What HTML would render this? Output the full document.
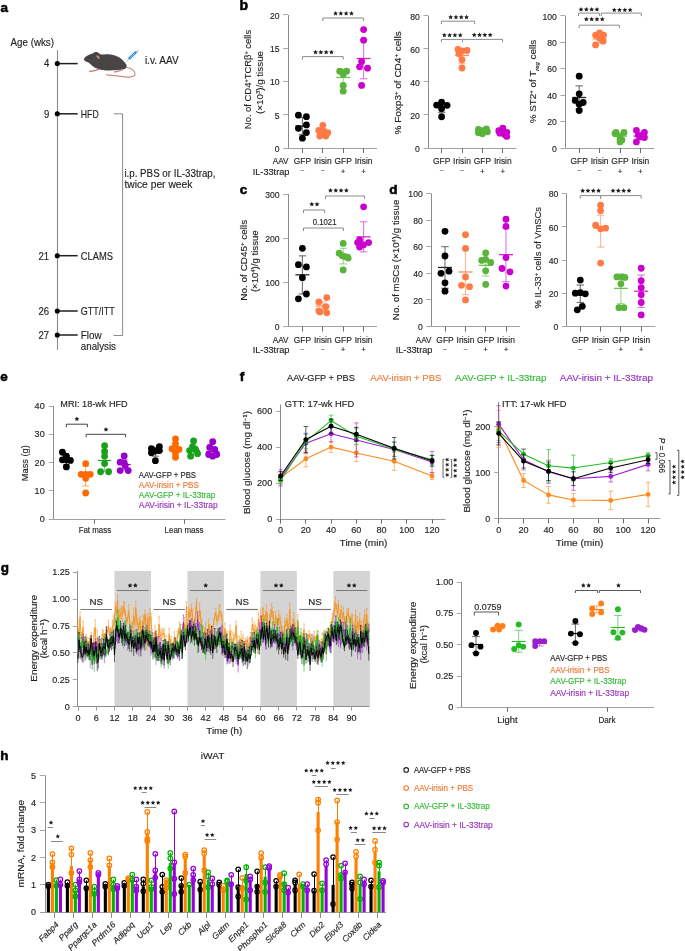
<!DOCTYPE html>
<html><head><meta charset="utf-8"><style>
html,body{margin:0;padding:0;background:#fff;}
svg{display:block;font-family:"Liberation Sans",sans-serif;will-change:transform;}
</style></head><body>
<svg width="685" height="951" viewBox="0 0 685 951" fill="#231f20">
<rect width="685" height="951" fill="#fff"/>
<text x="0.6" y="11.8" font-size="13.5" fill="#000" font-weight="bold" stroke="#000" stroke-width="0.55">a</text>
<text x="10.5" y="45.6" font-size="10.2" stroke="#231f20" stroke-width="0.15" textLength="43.5" lengthAdjust="spacingAndGlyphs">Age (wks)</text>
<line x1="57.5" y1="50" x2="57.5" y2="350" stroke="#8a8a8a" stroke-width="1.1"/>
<line x1="57.3" y1="63.6" x2="77.7" y2="63.6" stroke="#231f20" stroke-width="1.5"/>
<circle cx="57.3" cy="63.6" r="2.55" fill="#000"/>
<text x="49.2" y="67.4" font-size="10.4" text-anchor="end" stroke="#231f20" stroke-width="0.15" textLength="5.32" lengthAdjust="spacingAndGlyphs">4</text>
<line x1="57.3" y1="113.8" x2="77.7" y2="113.8" stroke="#231f20" stroke-width="1.5"/>
<circle cx="57.3" cy="113.8" r="2.55" fill="#000"/>
<text x="49.2" y="117.6" font-size="10.4" text-anchor="end" stroke="#231f20" stroke-width="0.15" textLength="5.32" lengthAdjust="spacingAndGlyphs">9</text>
<line x1="57.3" y1="255.7" x2="77.7" y2="255.7" stroke="#231f20" stroke-width="1.5"/>
<circle cx="57.3" cy="255.7" r="2.55" fill="#000"/>
<text x="49.2" y="259.5" font-size="10.4" text-anchor="end" stroke="#231f20" stroke-width="0.15" textLength="10.64" lengthAdjust="spacingAndGlyphs">21</text>
<line x1="57.3" y1="311" x2="77.7" y2="311" stroke="#231f20" stroke-width="1.5"/>
<circle cx="57.3" cy="311" r="2.55" fill="#000"/>
<text x="49.2" y="314.8" font-size="10.4" text-anchor="end" stroke="#231f20" stroke-width="0.15" textLength="10.64" lengthAdjust="spacingAndGlyphs">26</text>
<line x1="57.3" y1="335" x2="77.7" y2="335" stroke="#231f20" stroke-width="1.5"/>
<circle cx="57.3" cy="335" r="2.55" fill="#000"/>
<text x="49.2" y="338.8" font-size="10.4" text-anchor="end" stroke="#231f20" stroke-width="0.15" textLength="10.64" lengthAdjust="spacingAndGlyphs">27</text>
<text x="80.8" y="117.6" font-size="10.3" stroke="#231f20" stroke-width="0.15" textLength="17.9" lengthAdjust="spacingAndGlyphs">HFD</text>
<text x="80.8" y="259.5" font-size="10.3" stroke="#231f20" stroke-width="0.15" textLength="32.2" lengthAdjust="spacingAndGlyphs">CLAMS</text>
<text x="80.8" y="314.8" font-size="10.3" stroke="#231f20" stroke-width="0.15" textLength="34" lengthAdjust="spacingAndGlyphs">GTT/ITT</text>
<text x="80.8" y="338.8" font-size="10.3" stroke="#231f20" stroke-width="0.15" textLength="20.9" lengthAdjust="spacingAndGlyphs">Flow</text>
<text x="80.8" y="349.7" font-size="10.3" stroke="#231f20" stroke-width="0.15" textLength="35.2" lengthAdjust="spacingAndGlyphs">analysis</text>
<polyline points="113.9,113.8 122.6,113.8 122.6,335.5 113.5,335.5" stroke="#8a8a8a" stroke-width="1" fill="none"/>
<text x="124.4" y="177.2" font-size="10.2" stroke="#231f20" stroke-width="0.15" textLength="91.1" lengthAdjust="spacingAndGlyphs">i.p. PBS or IL-33trap,</text>
<text x="124.4" y="187.8" font-size="10.2" stroke="#231f20" stroke-width="0.15" textLength="68" lengthAdjust="spacingAndGlyphs">twice per week</text>
<path d="M83.8,59.2 C85,57 86.5,55.8 88.5,55 C90,54.2 91.5,53.6 93.2,53.2 C94,52.3 95.5,51.8 96.6,52.1 C98.5,52.6 99.6,53.6 100.4,54.5 C103,54.3 106,54 108.5,54.2 C112,54.5 114,55 116,55.9 C119,57 120.5,58 121.7,59.2 C123.5,60.8 125,62.6 126,64 C127.2,65.5 127,67.5 125.6,68.5 C124.5,69.2 123,69.4 120.5,69.8 C117,70.3 112,70.5 108.5,70.4 C105,70.3 103,70.2 101.8,69.9 C99,69.5 96,68.5 94.2,67.3 C92,65.8 90,64 88.5,62.6 C87,61.8 84.2,61.2 83.8,59.2 Z" fill="#4a4545"/>
<path d="M96.1,55.4 C97.5,55.3 99,55.8 99.4,56.6 L99.3,59 C98.2,58.9 97,58.3 96.1,55.4 Z" fill="#c98b83"/>
<circle cx="89.8" cy="57.4" r="0.6" fill="#1a1a1a"/>
<path d="M89.6,71.5 C92,71.3 95.5,70.6 98.6,69.4 M114.6,72 C117,71.6 120,70.8 122.4,69.9" stroke="#c98b83" stroke-width="1.3" fill="none" stroke-linecap="round"/>
<path d="M126.3,67.3 C130,67.8 134.6,70 135,73.5 C135.3,76.6 131,77.5 125.5,76.9 C121,76.4 116,75.8 106.6,74.9" stroke="#c98b83" stroke-width="1.1" fill="none" stroke-linecap="round"/>
<path d="M126.5,61.6 L129.2,58.6" stroke="#6aa8dc" stroke-width="0.6"/>
<path d="M128.9,58.9 L135.9,52.1" stroke="#2f86d0" stroke-width="2.6" stroke-linecap="butt"/>
<path d="M130,57.9 L134.8,53.2" stroke="#9fd0f2" stroke-width="1" />
<path d="M135.4,51.3 L137,52.9 M136.4,52.3 L138.2,50.3" stroke="#2f86d0" stroke-width="0.9"/>
<text x="144.9" y="64.2" font-size="10.3" stroke="#231f20" stroke-width="0.15" textLength="33.7" lengthAdjust="spacingAndGlyphs">i.v. AAV</text>
<text x="239.4" y="10.1" font-size="14" fill="#000" font-weight="bold" stroke="#000" stroke-width="0.55">b</text>
<line x1="288.5" y1="14.9" x2="288.5" y2="148" stroke="#8c8c8c" stroke-width="1"/>
<line x1="288" y1="148.5" x2="377" y2="148.5" stroke="#a0a0a0" stroke-width="1.2"/>
<line x1="283.2" y1="148.5" x2="288" y2="148.5" stroke="#a8a8a8" stroke-width="1"/>
<text x="279.6" y="151.8" font-size="8.6" text-anchor="end" stroke="#231f20" stroke-width="0.15" textLength="4.78" lengthAdjust="spacingAndGlyphs">0</text>
<line x1="283.2" y1="114.5" x2="288" y2="114.5" stroke="#a8a8a8" stroke-width="1"/>
<text x="279.6" y="118.52" font-size="8.6" text-anchor="end" stroke="#231f20" stroke-width="0.15" textLength="4.78" lengthAdjust="spacingAndGlyphs">5</text>
<line x1="283.2" y1="81.5" x2="288" y2="81.5" stroke="#a8a8a8" stroke-width="1"/>
<text x="279.6" y="85.25" font-size="8.6" text-anchor="end" stroke="#231f20" stroke-width="0.15" textLength="9.56" lengthAdjust="spacingAndGlyphs">10</text>
<line x1="283.2" y1="48.5" x2="288" y2="48.5" stroke="#a8a8a8" stroke-width="1"/>
<text x="279.6" y="51.98" font-size="8.6" text-anchor="end" stroke="#231f20" stroke-width="0.15" textLength="9.56" lengthAdjust="spacingAndGlyphs">15</text>
<line x1="283.2" y1="14.5" x2="288" y2="14.5" stroke="#a8a8a8" stroke-width="1"/>
<text x="279.6" y="18.7" font-size="8.6" text-anchor="end" stroke="#231f20" stroke-width="0.15" textLength="9.56" lengthAdjust="spacingAndGlyphs">20</text>
<line x1="302.5" y1="148" x2="302.5" y2="153" stroke="#6b6b6b" stroke-width="1"/>
<line x1="322.5" y1="148" x2="322.5" y2="153" stroke="#6b6b6b" stroke-width="1"/>
<line x1="343.5" y1="148" x2="343.5" y2="153" stroke="#6b6b6b" stroke-width="1"/>
<line x1="363.5" y1="148" x2="363.5" y2="153" stroke="#6b6b6b" stroke-width="1"/>
<circle cx="298.4" cy="115.19" r="3.4" fill="#000000"/>
<circle cx="306.4" cy="116.65" r="3.4" fill="#000000"/>
<circle cx="306.4" cy="124.91" r="3.4" fill="#000000"/>
<circle cx="298.4" cy="128.3" r="3.4" fill="#000000"/>
<circle cx="306.4" cy="132.56" r="3.4" fill="#000000"/>
<circle cx="302.4" cy="138.22" r="3.4" fill="#000000"/>
<circle cx="322.8" cy="125.37" r="3.4" fill="#ff7a45"/>
<circle cx="318.8" cy="130.5" r="3.4" fill="#ff7a45"/>
<circle cx="323.8" cy="131.36" r="3.4" fill="#ff7a45"/>
<circle cx="327.8" cy="132.76" r="3.4" fill="#ff7a45"/>
<circle cx="319.8" cy="136.09" r="3.4" fill="#ff7a45"/>
<circle cx="325.8" cy="136.09" r="3.4" fill="#ff7a45"/>
<circle cx="339.7" cy="71.13" r="3.4" fill="#5ab43a"/>
<circle cx="346.7" cy="71.13" r="3.4" fill="#5ab43a"/>
<circle cx="343.2" cy="74.13" r="3.4" fill="#5ab43a"/>
<circle cx="342.2" cy="72.13" r="3.4" fill="#5ab43a"/>
<circle cx="343.2" cy="85.44" r="3.4" fill="#5ab43a"/>
<circle cx="343.2" cy="91.17" r="3.4" fill="#5ab43a"/>
<circle cx="363.6" cy="29.54" r="3.4" fill="#cc00cc"/>
<circle cx="363.6" cy="40.19" r="3.4" fill="#cc00cc"/>
<circle cx="361.6" cy="61.49" r="3.4" fill="#cc00cc"/>
<circle cx="359.6" cy="66.81" r="3.4" fill="#cc00cc"/>
<circle cx="367.6" cy="68.14" r="3.4" fill="#cc00cc"/>
<circle cx="361.6" cy="85.44" r="3.4" fill="#cc00cc"/>
<g stroke="#000000" stroke-opacity="0.55" stroke-width="1.1">
<line x1="302.4" y1="117.39" x2="302.4" y2="134.69"/>
<line x1="298.65" y1="117.39" x2="306.15" y2="117.39"/>
<line x1="298.65" y1="134.69" x2="306.15" y2="134.69"/>
</g>
<line x1="295.4" y1="126.04" x2="309.4" y2="126.04" stroke="#000000" stroke-width="1.3" stroke-opacity="0.85"/>
<g stroke="#ff7a45" stroke-opacity="0.55" stroke-width="1.1">
<line x1="322.8" y1="128.7" x2="322.8" y2="135.36"/>
<line x1="319.05" y1="128.7" x2="326.55" y2="128.7"/>
<line x1="319.05" y1="135.36" x2="326.55" y2="135.36"/>
</g>
<line x1="315.8" y1="132.03" x2="329.8" y2="132.03" stroke="#ff7a45" stroke-width="1.3" stroke-opacity="0.85"/>
<g stroke="#5ab43a" stroke-opacity="0.55" stroke-width="1.1">
<line x1="343.2" y1="71.47" x2="343.2" y2="86.11"/>
<line x1="339.45" y1="71.47" x2="346.95" y2="71.47"/>
<line x1="339.45" y1="86.11" x2="346.95" y2="86.11"/>
</g>
<line x1="336.2" y1="77.46" x2="350.2" y2="77.46" stroke="#5ab43a" stroke-width="1.3" stroke-opacity="0.85"/>
<g stroke="#cc00cc" stroke-opacity="0.55" stroke-width="1.1">
<line x1="363.6" y1="39.52" x2="363.6" y2="78.79"/>
<line x1="359.85" y1="39.52" x2="367.35" y2="39.52"/>
<line x1="359.85" y1="78.79" x2="367.35" y2="78.79"/>
</g>
<line x1="356.6" y1="58.49" x2="370.6" y2="58.49" stroke="#cc00cc" stroke-width="1.3" stroke-opacity="0.85"/>
<path d="M302.4 59.6V56.6H343.2V59.6" stroke="#8c8c8c" stroke-width="1" fill="none"/>
<path d="M315.55 49.8L316.28 51.29L317.93 51.53L316.74 52.69L317.02 54.32L315.55 53.55L314.08 54.32L314.36 52.69L313.17 51.53L314.82 51.29ZM320.85 49.8L321.58 51.29L323.23 51.53L322.04 52.69L322.32 54.32L320.85 53.55L319.38 54.32L319.66 52.69L318.47 51.53L320.12 51.29ZM326.15 49.8L326.88 51.29L328.53 51.53L327.34 52.69L327.62 54.32L326.15 53.55L324.68 54.32L324.96 52.69L323.77 51.53L325.42 51.29ZM331.45 49.8L332.18 51.29L333.83 51.53L332.64 52.69L332.92 54.32L331.45 53.55L329.98 54.32L330.26 52.69L329.07 51.53L330.72 51.29Z" fill="#231f20"/>
<path d="M322.8 21V18H363.6V21" stroke="#8c8c8c" stroke-width="1" fill="none"/>
<path d="M335.55 10.9L336.28 12.39L337.93 12.63L336.74 13.79L337.02 15.42L335.55 14.65L334.08 15.42L334.36 13.79L333.17 12.63L334.82 12.39ZM340.85 10.9L341.58 12.39L343.23 12.63L342.04 13.79L342.32 15.42L340.85 14.65L339.38 15.42L339.66 13.79L338.47 12.63L340.12 12.39ZM346.15 10.9L346.88 12.39L348.53 12.63L347.34 13.79L347.62 15.42L346.15 14.65L344.68 15.42L344.96 13.79L343.77 12.63L345.42 12.39ZM351.45 10.9L352.18 12.39L353.83 12.63L352.64 13.79L352.92 15.42L351.45 14.65L349.98 15.42L350.26 13.79L349.07 12.63L350.72 12.39Z" fill="#231f20"/>
<text x="302.4" y="163.8" font-size="8.6" text-anchor="middle" stroke="#231f20" stroke-width="0.15" textLength="17.32" lengthAdjust="spacingAndGlyphs">GFP</text>
<text x="322.8" y="163.8" font-size="8.6" text-anchor="middle" stroke="#231f20" stroke-width="0.15" textLength="17.79" lengthAdjust="spacingAndGlyphs">Irisin</text>
<text x="343.2" y="163.8" font-size="8.6" text-anchor="middle" stroke="#231f20" stroke-width="0.15" textLength="17.32" lengthAdjust="spacingAndGlyphs">GFP</text>
<text x="363.6" y="163.8" font-size="8.6" text-anchor="middle" stroke="#231f20" stroke-width="0.15" textLength="17.79" lengthAdjust="spacingAndGlyphs">Irisin</text>
<line x1="300.6" y1="170.5" x2="304.2" y2="170.5" stroke="#8a8a8a" stroke-width="0.9"/>
<line x1="321" y1="170.5" x2="324.6" y2="170.5" stroke="#8a8a8a" stroke-width="0.9"/>
<text x="343.2" y="173.6" font-size="8" text-anchor="middle" stroke="#231f20" stroke-width="0.15">+</text>
<text x="363.6" y="173.6" font-size="8" text-anchor="middle" stroke="#231f20" stroke-width="0.15">+</text>
<text x="288.5" y="163.8" font-size="8.6" text-anchor="end" stroke="#231f20" stroke-width="0.15" textLength="15.74" lengthAdjust="spacingAndGlyphs">AAV</text>
<text x="289.5" y="174.6" font-size="8.6" text-anchor="end" stroke="#231f20" stroke-width="0.15" textLength="36.83" lengthAdjust="spacingAndGlyphs">IL-33trap</text>
<text x="251.2" y="79.5" font-size="9.3" text-anchor="middle" stroke="#231f20" stroke-width="0.15" transform="rotate(-90 251.2 79.5)" textLength="99.3" lengthAdjust="spacingAndGlyphs">No. of CD4<tspan baseline-shift="super" font-size="5.5">+</tspan>TCRβ<tspan baseline-shift="super" font-size="5.5">+</tspan> cells</text>
<text x="263" y="82.5" font-size="9.3" text-anchor="middle" stroke="#231f20" stroke-width="0.15" transform="rotate(-90 263 82.5)" textLength="63.2" lengthAdjust="spacingAndGlyphs">(×10<tspan baseline-shift="super" font-size="5.5">3</tspan>)/g tissue</text>
<line x1="428.5" y1="15.8" x2="428.5" y2="148" stroke="#8c8c8c" stroke-width="1"/>
<line x1="428.3" y1="148.5" x2="516.5" y2="148.5" stroke="#a0a0a0" stroke-width="1.2"/>
<line x1="423.5" y1="148.5" x2="428.3" y2="148.5" stroke="#a8a8a8" stroke-width="1"/>
<text x="419.9" y="151.8" font-size="8.6" text-anchor="end" stroke="#231f20" stroke-width="0.15" textLength="4.78" lengthAdjust="spacingAndGlyphs">0</text>
<line x1="423.5" y1="114.5" x2="428.3" y2="114.5" stroke="#a8a8a8" stroke-width="1"/>
<text x="419.9" y="118.75" font-size="8.6" text-anchor="end" stroke="#231f20" stroke-width="0.15" textLength="9.56" lengthAdjust="spacingAndGlyphs">20</text>
<line x1="423.5" y1="81.5" x2="428.3" y2="81.5" stroke="#a8a8a8" stroke-width="1"/>
<text x="419.9" y="85.7" font-size="8.6" text-anchor="end" stroke="#231f20" stroke-width="0.15" textLength="9.56" lengthAdjust="spacingAndGlyphs">40</text>
<line x1="423.5" y1="48.5" x2="428.3" y2="48.5" stroke="#a8a8a8" stroke-width="1"/>
<text x="419.9" y="52.65" font-size="8.6" text-anchor="end" stroke="#231f20" stroke-width="0.15" textLength="9.56" lengthAdjust="spacingAndGlyphs">60</text>
<line x1="423.5" y1="15.5" x2="428.3" y2="15.5" stroke="#a8a8a8" stroke-width="1"/>
<text x="419.9" y="19.6" font-size="8.6" text-anchor="end" stroke="#231f20" stroke-width="0.15" textLength="9.56" lengthAdjust="spacingAndGlyphs">80</text>
<line x1="441.5" y1="148" x2="441.5" y2="153" stroke="#6b6b6b" stroke-width="1"/>
<line x1="462.5" y1="148" x2="462.5" y2="153" stroke="#6b6b6b" stroke-width="1"/>
<line x1="482.5" y1="148" x2="482.5" y2="153" stroke="#6b6b6b" stroke-width="1"/>
<line x1="502.5" y1="148" x2="502.5" y2="153" stroke="#6b6b6b" stroke-width="1"/>
<circle cx="436.6" cy="105.03" r="3.4" fill="#000000"/>
<circle cx="441.6" cy="102.06" r="3.4" fill="#000000"/>
<circle cx="447.1" cy="105.37" r="3.4" fill="#000000"/>
<circle cx="441.6" cy="108.67" r="3.4" fill="#000000"/>
<circle cx="441.6" cy="116.77" r="3.4" fill="#000000"/>
<circle cx="439.6" cy="105.03" r="3.4" fill="#000000"/>
<circle cx="458" cy="49.35" r="3.4" fill="#ff7a45"/>
<circle cx="467" cy="50.5" r="3.4" fill="#ff7a45"/>
<circle cx="462" cy="51" r="3.4" fill="#ff7a45"/>
<circle cx="462" cy="59.76" r="3.4" fill="#ff7a45"/>
<circle cx="462" cy="68.02" r="3.4" fill="#ff7a45"/>
<circle cx="459" cy="53.81" r="3.4" fill="#ff7a45"/>
<circle cx="478.4" cy="129.33" r="3.4" fill="#5ab43a"/>
<circle cx="486.4" cy="129" r="3.4" fill="#5ab43a"/>
<circle cx="482.4" cy="130.65" r="3.4" fill="#5ab43a"/>
<circle cx="487.4" cy="131.81" r="3.4" fill="#5ab43a"/>
<circle cx="478.4" cy="132.8" r="3.4" fill="#5ab43a"/>
<circle cx="482.4" cy="133.79" r="3.4" fill="#5ab43a"/>
<circle cx="502.8" cy="128.17" r="3.4" fill="#cc00cc"/>
<circle cx="498.8" cy="130.65" r="3.4" fill="#cc00cc"/>
<circle cx="506.8" cy="132.3" r="3.4" fill="#cc00cc"/>
<circle cx="499.8" cy="133.13" r="3.4" fill="#cc00cc"/>
<circle cx="504.8" cy="134.78" r="3.4" fill="#cc00cc"/>
<circle cx="506.8" cy="136.43" r="3.4" fill="#cc00cc"/>
<g stroke="#000000" stroke-opacity="0.55" stroke-width="1.1">
<line x1="441.6" y1="102.39" x2="441.6" y2="112.31"/>
<line x1="437.85" y1="102.39" x2="445.35" y2="102.39"/>
<line x1="437.85" y1="112.31" x2="445.35" y2="112.31"/>
</g>
<line x1="434.6" y1="107.18" x2="448.6" y2="107.18" stroke="#000000" stroke-width="1.3" stroke-opacity="0.85"/>
<g stroke="#ff7a45" stroke-opacity="0.55" stroke-width="1.1">
<line x1="462" y1="48.85" x2="462" y2="63.72"/>
<line x1="458.25" y1="48.85" x2="465.75" y2="48.85"/>
<line x1="458.25" y1="63.72" x2="465.75" y2="63.72"/>
</g>
<line x1="455" y1="55.46" x2="469" y2="55.46" stroke="#ff7a45" stroke-width="1.3" stroke-opacity="0.85"/>
<g stroke="#5ab43a" stroke-opacity="0.55" stroke-width="1.1">
<line x1="482.4" y1="129.82" x2="482.4" y2="133.13"/>
<line x1="478.65" y1="129.82" x2="486.15" y2="129.82"/>
<line x1="478.65" y1="133.13" x2="486.15" y2="133.13"/>
</g>
<line x1="475.4" y1="131.47" x2="489.4" y2="131.47" stroke="#5ab43a" stroke-width="1.3" stroke-opacity="0.85"/>
<g stroke="#cc00cc" stroke-opacity="0.55" stroke-width="1.1">
<line x1="502.8" y1="130.65" x2="502.8" y2="134.45"/>
<line x1="499.05" y1="130.65" x2="506.55" y2="130.65"/>
<line x1="499.05" y1="134.45" x2="506.55" y2="134.45"/>
</g>
<line x1="495.8" y1="132.63" x2="509.8" y2="132.63" stroke="#cc00cc" stroke-width="1.3" stroke-opacity="0.85"/>
<path d="M441.4 24.2V21.2H474.7V24.2" stroke="#8c8c8c" stroke-width="1" fill="none"/>
<path d="M450.65 14.7L451.38 16.19L453.03 16.43L451.84 17.59L452.12 19.22L450.65 18.45L449.18 19.22L449.46 17.59L448.27 16.43L449.92 16.19ZM455.95 14.7L456.68 16.19L458.33 16.43L457.14 17.59L457.42 19.22L455.95 18.45L454.48 19.22L454.76 17.59L453.57 16.43L455.22 16.19ZM461.25 14.7L461.98 16.19L463.63 16.43L462.44 17.59L462.72 19.22L461.25 18.45L459.78 19.22L460.06 17.59L458.87 16.43L460.52 16.19ZM466.55 14.7L467.28 16.19L468.93 16.43L467.74 17.59L468.02 19.22L466.55 18.45L465.08 19.22L465.36 17.59L464.17 16.43L465.82 16.19Z" fill="#231f20"/>
<path d="M441.4 42.4V39.4H502.5V42.4" stroke="#8c8c8c" stroke-width="1" fill="none"/>
<line x1="462.5" y1="39.4" x2="462.5" y2="42.4" stroke="#9a9a9a" stroke-width="1.1"/>
<path d="M444.35 32.7L445.08 34.19L446.73 34.43L445.54 35.59L445.82 37.22L444.35 36.45L442.88 37.22L443.16 35.59L441.97 34.43L443.62 34.19ZM449.65 32.7L450.38 34.19L452.03 34.43L450.84 35.59L451.12 37.22L449.65 36.45L448.18 37.22L448.46 35.59L447.27 34.43L448.92 34.19ZM454.95 32.7L455.68 34.19L457.33 34.43L456.14 35.59L456.42 37.22L454.95 36.45L453.48 37.22L453.76 35.59L452.57 34.43L454.22 34.19ZM460.25 32.7L460.98 34.19L462.63 34.43L461.44 35.59L461.72 37.22L460.25 36.45L458.78 37.22L459.06 35.59L457.87 34.43L459.52 34.19Z" fill="#231f20"/>
<path d="M474.25 32.5L474.98 33.99L476.63 34.23L475.44 35.39L475.72 37.02L474.25 36.25L472.78 37.02L473.06 35.39L471.87 34.23L473.52 33.99ZM479.55 32.5L480.28 33.99L481.93 34.23L480.74 35.39L481.02 37.02L479.55 36.25L478.08 37.02L478.36 35.39L477.17 34.23L478.82 33.99ZM484.85 32.5L485.58 33.99L487.23 34.23L486.04 35.39L486.32 37.02L484.85 36.25L483.38 37.02L483.66 35.39L482.47 34.23L484.12 33.99ZM490.15 32.5L490.88 33.99L492.53 34.23L491.34 35.39L491.62 37.02L490.15 36.25L488.68 37.02L488.96 35.39L487.77 34.23L489.42 33.99Z" fill="#231f20"/>
<text x="441.6" y="163.8" font-size="8.6" text-anchor="middle" stroke="#231f20" stroke-width="0.15" textLength="17.32" lengthAdjust="spacingAndGlyphs">GFP</text>
<text x="462" y="163.8" font-size="8.6" text-anchor="middle" stroke="#231f20" stroke-width="0.15" textLength="17.79" lengthAdjust="spacingAndGlyphs">Irisin</text>
<text x="482.4" y="163.8" font-size="8.6" text-anchor="middle" stroke="#231f20" stroke-width="0.15" textLength="17.32" lengthAdjust="spacingAndGlyphs">GFP</text>
<text x="502.8" y="163.8" font-size="8.6" text-anchor="middle" stroke="#231f20" stroke-width="0.15" textLength="17.79" lengthAdjust="spacingAndGlyphs">Irisin</text>
<line x1="439.8" y1="170.5" x2="443.4" y2="170.5" stroke="#8a8a8a" stroke-width="0.9"/>
<line x1="460.2" y1="170.5" x2="463.8" y2="170.5" stroke="#8a8a8a" stroke-width="0.9"/>
<text x="482.4" y="173.6" font-size="8" text-anchor="middle" stroke="#231f20" stroke-width="0.15">+</text>
<text x="502.8" y="173.6" font-size="8" text-anchor="middle" stroke="#231f20" stroke-width="0.15">+</text>
<text x="401.2" y="82.9" font-size="9.3" text-anchor="middle" stroke="#231f20" stroke-width="0.15" transform="rotate(-90 401.2 82.9)" textLength="103.3" lengthAdjust="spacingAndGlyphs">% Foxp3<tspan baseline-shift="super" font-size="5.5">+</tspan> of CD4<tspan baseline-shift="super" font-size="5.5">+</tspan> cells</text>
<line x1="565.5" y1="15.8" x2="565.5" y2="148" stroke="#8c8c8c" stroke-width="1"/>
<line x1="565.2" y1="148.5" x2="654.3" y2="148.5" stroke="#a0a0a0" stroke-width="1.2"/>
<line x1="560.4" y1="148.5" x2="565.2" y2="148.5" stroke="#a8a8a8" stroke-width="1"/>
<text x="556.8" y="151.8" font-size="8.6" text-anchor="end" stroke="#231f20" stroke-width="0.15" textLength="4.78" lengthAdjust="spacingAndGlyphs">0</text>
<line x1="560.4" y1="121.5" x2="565.2" y2="121.5" stroke="#a8a8a8" stroke-width="1"/>
<text x="556.8" y="125.36" font-size="8.6" text-anchor="end" stroke="#231f20" stroke-width="0.15" textLength="9.56" lengthAdjust="spacingAndGlyphs">20</text>
<line x1="560.4" y1="95.5" x2="565.2" y2="95.5" stroke="#a8a8a8" stroke-width="1"/>
<text x="556.8" y="98.92" font-size="8.6" text-anchor="end" stroke="#231f20" stroke-width="0.15" textLength="9.56" lengthAdjust="spacingAndGlyphs">40</text>
<line x1="560.4" y1="68.5" x2="565.2" y2="68.5" stroke="#a8a8a8" stroke-width="1"/>
<text x="556.8" y="72.48" font-size="8.6" text-anchor="end" stroke="#231f20" stroke-width="0.15" textLength="9.56" lengthAdjust="spacingAndGlyphs">60</text>
<line x1="560.4" y1="42.5" x2="565.2" y2="42.5" stroke="#a8a8a8" stroke-width="1"/>
<text x="556.8" y="46.04" font-size="8.6" text-anchor="end" stroke="#231f20" stroke-width="0.15" textLength="9.56" lengthAdjust="spacingAndGlyphs">80</text>
<line x1="560.4" y1="15.5" x2="565.2" y2="15.5" stroke="#a8a8a8" stroke-width="1"/>
<text x="556.8" y="19.6" font-size="8.6" text-anchor="end" stroke="#231f20" stroke-width="0.15" textLength="14.35" lengthAdjust="spacingAndGlyphs">100</text>
<line x1="579.5" y1="148" x2="579.5" y2="153" stroke="#6b6b6b" stroke-width="1"/>
<line x1="599.5" y1="148" x2="599.5" y2="153" stroke="#6b6b6b" stroke-width="1"/>
<line x1="620.5" y1="148" x2="620.5" y2="153" stroke="#6b6b6b" stroke-width="1"/>
<line x1="640.5" y1="148" x2="640.5" y2="153" stroke="#6b6b6b" stroke-width="1"/>
<circle cx="579.2" cy="76.22" r="3.4" fill="#000000"/>
<circle cx="579.2" cy="93.8" r="3.4" fill="#000000"/>
<circle cx="575.2" cy="100.41" r="3.4" fill="#000000"/>
<circle cx="583.2" cy="102.52" r="3.4" fill="#000000"/>
<circle cx="579.2" cy="104.37" r="3.4" fill="#000000"/>
<circle cx="579.2" cy="110.59" r="3.4" fill="#000000"/>
<circle cx="595.6" cy="35.1" r="3.4" fill="#ff7a45"/>
<circle cx="599.6" cy="32.99" r="3.4" fill="#ff7a45"/>
<circle cx="603.6" cy="35.1" r="3.4" fill="#ff7a45"/>
<circle cx="599.6" cy="38.27" r="3.4" fill="#ff7a45"/>
<circle cx="603.1" cy="41.18" r="3.4" fill="#ff7a45"/>
<circle cx="595.6" cy="44.88" r="3.4" fill="#ff7a45"/>
<circle cx="616" cy="132.4" r="3.4" fill="#5ab43a"/>
<circle cx="624" cy="132.4" r="3.4" fill="#5ab43a"/>
<circle cx="615" cy="133.59" r="3.4" fill="#5ab43a"/>
<circle cx="620" cy="136.9" r="3.4" fill="#5ab43a"/>
<circle cx="620" cy="141.92" r="3.4" fill="#5ab43a"/>
<circle cx="622" cy="140.07" r="3.4" fill="#5ab43a"/>
<circle cx="636.4" cy="130.29" r="3.4" fill="#cc00cc"/>
<circle cx="644.4" cy="132.4" r="3.4" fill="#cc00cc"/>
<circle cx="638.4" cy="135.31" r="3.4" fill="#cc00cc"/>
<circle cx="644.4" cy="137.56" r="3.4" fill="#cc00cc"/>
<circle cx="636.4" cy="141.92" r="3.4" fill="#cc00cc"/>
<circle cx="640.4" cy="136.76" r="3.4" fill="#cc00cc"/>
<g stroke="#000000" stroke-opacity="0.55" stroke-width="1.1">
<line x1="579.2" y1="85.87" x2="579.2" y2="109"/>
<line x1="575.45" y1="85.87" x2="582.95" y2="85.87"/>
<line x1="575.45" y1="109" x2="582.95" y2="109"/>
</g>
<line x1="572.2" y1="97.5" x2="586.2" y2="97.5" stroke="#000000" stroke-width="1.3" stroke-opacity="0.85"/>
<g stroke="#ff7a45" stroke-opacity="0.55" stroke-width="1.1">
<line x1="599.6" y1="34.97" x2="599.6" y2="42.9"/>
<line x1="595.85" y1="34.97" x2="603.35" y2="34.97"/>
<line x1="595.85" y1="42.9" x2="603.35" y2="42.9"/>
</g>
<line x1="592.6" y1="38.94" x2="606.6" y2="38.94" stroke="#ff7a45" stroke-width="1.3" stroke-opacity="0.85"/>
<g stroke="#5ab43a" stroke-opacity="0.55" stroke-width="1.1">
<line x1="620" y1="132.8" x2="620" y2="139.41"/>
<line x1="616.25" y1="132.8" x2="623.75" y2="132.8"/>
<line x1="616.25" y1="139.41" x2="623.75" y2="139.41"/>
</g>
<line x1="613" y1="136.1" x2="627" y2="136.1" stroke="#5ab43a" stroke-width="1.3" stroke-opacity="0.85"/>
<g stroke="#cc00cc" stroke-opacity="0.55" stroke-width="1.1">
<line x1="640.4" y1="132.53" x2="640.4" y2="139.67"/>
<line x1="636.65" y1="132.53" x2="644.15" y2="132.53"/>
<line x1="636.65" y1="139.67" x2="644.15" y2="139.67"/>
</g>
<line x1="633.4" y1="136.1" x2="647.4" y2="136.1" stroke="#cc00cc" stroke-width="1.3" stroke-opacity="0.85"/>
<path d="M578.5 16.1V13.1H599.6V16.1" stroke="#8c8c8c" stroke-width="1" fill="none"/>
<path d="M581.05 7L581.78 8.49L583.43 8.73L582.24 9.89L582.52 11.52L581.05 10.75L579.58 11.52L579.86 9.89L578.67 8.73L580.32 8.49ZM586.35 7L587.08 8.49L588.73 8.73L587.54 9.89L587.82 11.52L586.35 10.75L584.88 11.52L585.16 9.89L583.97 8.73L585.62 8.49ZM591.65 7L592.38 8.49L594.03 8.73L592.84 9.89L593.12 11.52L591.65 10.75L590.18 11.52L590.46 9.89L589.27 8.73L590.92 8.49ZM596.95 7L597.68 8.49L599.33 8.73L598.14 9.89L598.42 11.52L596.95 10.75L595.48 11.52L595.76 9.89L594.57 8.73L596.22 8.49Z" fill="#231f20"/>
<path d="M601.3 16.1V13.1H641.3V16.1" stroke="#8c8c8c" stroke-width="1" fill="none"/>
<path d="M614.25 7.4L614.98 8.89L616.63 9.13L615.44 10.29L615.72 11.92L614.25 11.15L612.78 11.92L613.06 10.29L611.87 9.13L613.52 8.89ZM619.55 7.4L620.28 8.89L621.93 9.13L620.74 10.29L621.02 11.92L619.55 11.15L618.08 11.92L618.36 10.29L617.17 9.13L618.82 8.89ZM624.85 7.4L625.58 8.89L627.23 9.13L626.04 10.29L626.32 11.92L624.85 11.15L623.38 11.92L623.66 10.29L622.47 9.13L624.12 8.89ZM630.15 7.4L630.88 8.89L632.53 9.13L631.34 10.29L631.62 11.92L630.15 11.15L628.68 11.92L628.96 10.29L627.77 9.13L629.42 8.89Z" fill="#231f20"/>
<path d="M579.2 28.2V25.2H619.3V28.2" stroke="#8c8c8c" stroke-width="1" fill="none"/>
<path d="M586.35 16.8L587.08 18.29L588.73 18.53L587.54 19.69L587.82 21.32L586.35 20.55L584.88 21.32L585.16 19.69L583.97 18.53L585.62 18.29ZM591.65 16.8L592.38 18.29L594.03 18.53L592.84 19.69L593.12 21.32L591.65 20.55L590.18 21.32L590.46 19.69L589.27 18.53L590.92 18.29ZM596.95 16.8L597.68 18.29L599.33 18.53L598.14 19.69L598.42 21.32L596.95 20.55L595.48 21.32L595.76 19.69L594.57 18.53L596.22 18.29ZM602.25 16.8L602.98 18.29L604.63 18.53L603.44 19.69L603.72 21.32L602.25 20.55L600.78 21.32L601.06 19.69L599.87 18.53L601.52 18.29Z" fill="#231f20"/>
<text x="579.2" y="163.8" font-size="8.6" text-anchor="middle" stroke="#231f20" stroke-width="0.15" textLength="17.32" lengthAdjust="spacingAndGlyphs">GFP</text>
<text x="599.6" y="163.8" font-size="8.6" text-anchor="middle" stroke="#231f20" stroke-width="0.15" textLength="17.79" lengthAdjust="spacingAndGlyphs">Irisin</text>
<text x="620" y="163.8" font-size="8.6" text-anchor="middle" stroke="#231f20" stroke-width="0.15" textLength="17.32" lengthAdjust="spacingAndGlyphs">GFP</text>
<text x="640.4" y="163.8" font-size="8.6" text-anchor="middle" stroke="#231f20" stroke-width="0.15" textLength="17.79" lengthAdjust="spacingAndGlyphs">Irisin</text>
<line x1="577.4" y1="170.5" x2="581" y2="170.5" stroke="#8a8a8a" stroke-width="0.9"/>
<line x1="597.8" y1="170.5" x2="601.4" y2="170.5" stroke="#8a8a8a" stroke-width="0.9"/>
<text x="620" y="173.6" font-size="8" text-anchor="middle" stroke="#231f20" stroke-width="0.15">+</text>
<text x="640.4" y="173.6" font-size="8" text-anchor="middle" stroke="#231f20" stroke-width="0.15">+</text>
<text x="536.2" y="81.5" font-size="9.3" text-anchor="middle" stroke="#231f20" stroke-width="0.15" transform="rotate(-90 536.2 81.5)" textLength="83.6" lengthAdjust="spacingAndGlyphs">% ST2<tspan baseline-shift="super" font-size="5.5">+</tspan> of T<tspan baseline-shift="sub" font-size="5.5" font-style="italic">reg</tspan> cells</text>
<text x="239.8" y="194" font-size="13.5" fill="#000" font-weight="bold" stroke="#000" stroke-width="0.55">c</text>
<line x1="288.5" y1="194" x2="288.5" y2="326.5" stroke="#8c8c8c" stroke-width="1"/>
<line x1="288" y1="326.5" x2="377" y2="326.5" stroke="#a0a0a0" stroke-width="1.2"/>
<line x1="283.2" y1="326.5" x2="288" y2="326.5" stroke="#a8a8a8" stroke-width="1"/>
<text x="279.6" y="330.3" font-size="8.6" text-anchor="end" stroke="#231f20" stroke-width="0.15" textLength="4.78" lengthAdjust="spacingAndGlyphs">0</text>
<line x1="283.2" y1="282.5" x2="288" y2="282.5" stroke="#a8a8a8" stroke-width="1"/>
<text x="279.6" y="286.13" font-size="8.6" text-anchor="end" stroke="#231f20" stroke-width="0.15" textLength="14.35" lengthAdjust="spacingAndGlyphs">100</text>
<line x1="283.2" y1="238.5" x2="288" y2="238.5" stroke="#a8a8a8" stroke-width="1"/>
<text x="279.6" y="241.97" font-size="8.6" text-anchor="end" stroke="#231f20" stroke-width="0.15" textLength="14.35" lengthAdjust="spacingAndGlyphs">200</text>
<line x1="283.2" y1="194.5" x2="288" y2="194.5" stroke="#a8a8a8" stroke-width="1"/>
<text x="279.6" y="197.8" font-size="8.6" text-anchor="end" stroke="#231f20" stroke-width="0.15" textLength="14.35" lengthAdjust="spacingAndGlyphs">300</text>
<line x1="302.5" y1="326.5" x2="302.5" y2="331.5" stroke="#6b6b6b" stroke-width="1"/>
<line x1="322.5" y1="326.5" x2="322.5" y2="331.5" stroke="#6b6b6b" stroke-width="1"/>
<line x1="343.5" y1="326.5" x2="343.5" y2="331.5" stroke="#6b6b6b" stroke-width="1"/>
<line x1="363.5" y1="326.5" x2="363.5" y2="331.5" stroke="#6b6b6b" stroke-width="1"/>
<circle cx="302.4" cy="248.32" r="3.4" fill="#000000"/>
<circle cx="298.4" cy="264.67" r="3.4" fill="#000000"/>
<circle cx="306.4" cy="266.88" r="3.4" fill="#000000"/>
<circle cx="302.4" cy="277.65" r="3.4" fill="#000000"/>
<circle cx="306.4" cy="293.99" r="3.4" fill="#000000"/>
<circle cx="298.4" cy="298.81" r="3.4" fill="#000000"/>
<circle cx="326.8" cy="297.62" r="3.4" fill="#ff7a45"/>
<circle cx="318.8" cy="301.94" r="3.4" fill="#ff7a45"/>
<circle cx="325.8" cy="306.76" r="3.4" fill="#ff7a45"/>
<circle cx="318.8" cy="310.87" r="3.4" fill="#ff7a45"/>
<circle cx="326.8" cy="312.81" r="3.4" fill="#ff7a45"/>
<circle cx="319.8" cy="311.93" r="3.4" fill="#ff7a45"/>
<circle cx="343.2" cy="243.47" r="3.4" fill="#5ab43a"/>
<circle cx="339.2" cy="253.18" r="3.4" fill="#5ab43a"/>
<circle cx="345.2" cy="256.72" r="3.4" fill="#5ab43a"/>
<circle cx="348.2" cy="258.04" r="3.4" fill="#5ab43a"/>
<circle cx="342.2" cy="255.83" r="3.4" fill="#5ab43a"/>
<circle cx="343.2" cy="269.97" r="3.4" fill="#5ab43a"/>
<circle cx="363.6" cy="206.81" r="3.4" fill="#cc00cc"/>
<circle cx="359.6" cy="239.93" r="3.4" fill="#cc00cc"/>
<circle cx="368.6" cy="242.58" r="3.4" fill="#cc00cc"/>
<circle cx="357.6" cy="242.58" r="3.4" fill="#cc00cc"/>
<circle cx="363.6" cy="244.79" r="3.4" fill="#cc00cc"/>
<circle cx="359.6" cy="247" r="3.4" fill="#cc00cc"/>
<g stroke="#000000" stroke-opacity="0.55" stroke-width="1.1">
<line x1="302.4" y1="255.83" x2="302.4" y2="293.99"/>
<line x1="298.65" y1="255.83" x2="306.15" y2="255.83"/>
<line x1="298.65" y1="293.99" x2="306.15" y2="293.99"/>
</g>
<line x1="295.4" y1="274.82" x2="309.4" y2="274.82" stroke="#000000" stroke-width="1.3" stroke-opacity="0.85"/>
<g stroke="#ff7a45" stroke-opacity="0.55" stroke-width="1.1">
<line x1="322.8" y1="301.77" x2="322.8" y2="310.6"/>
<line x1="319.05" y1="301.77" x2="326.55" y2="301.77"/>
<line x1="319.05" y1="310.6" x2="326.55" y2="310.6"/>
</g>
<line x1="315.8" y1="306.05" x2="329.8" y2="306.05" stroke="#ff7a45" stroke-width="1.3" stroke-opacity="0.85"/>
<g stroke="#5ab43a" stroke-opacity="0.55" stroke-width="1.1">
<line x1="343.2" y1="248.32" x2="343.2" y2="263.92"/>
<line x1="339.45" y1="248.32" x2="346.95" y2="248.32"/>
<line x1="339.45" y1="263.92" x2="346.95" y2="263.92"/>
</g>
<line x1="336.2" y1="254.51" x2="350.2" y2="254.51" stroke="#5ab43a" stroke-width="1.3" stroke-opacity="0.85"/>
<g stroke="#cc00cc" stroke-opacity="0.55" stroke-width="1.1">
<line x1="363.6" y1="221.82" x2="363.6" y2="251.86"/>
<line x1="359.85" y1="221.82" x2="367.35" y2="221.82"/>
<line x1="359.85" y1="251.86" x2="367.35" y2="251.86"/>
</g>
<line x1="356.6" y1="236.84" x2="370.6" y2="236.84" stroke="#cc00cc" stroke-width="1.3" stroke-opacity="0.85"/>
<path d="M303.5 213V210H324.6V213" stroke="#8c8c8c" stroke-width="1" fill="none"/>
<path d="M311.75 201.8L312.48 203.29L314.13 203.53L312.94 204.69L313.22 206.32L311.75 205.55L310.28 206.32L310.56 204.69L309.37 203.53L311.02 203.29ZM317.05 201.8L317.78 203.29L319.43 203.53L318.24 204.69L318.52 206.32L317.05 205.55L315.58 206.32L315.86 204.69L314.67 203.53L316.32 203.29Z" fill="#231f20"/>
<path d="M303.5 231V228H343.4V231" stroke="#8c8c8c" stroke-width="1" fill="none"/>
<text x="324.6" y="225.3" font-size="8.6" text-anchor="middle" stroke="#231f20" stroke-width="0.15" textLength="23.7" lengthAdjust="spacingAndGlyphs">0.1021</text>
<path d="M325.5 199V196H364.6V199" stroke="#8c8c8c" stroke-width="1" fill="none"/>
<path d="M330.45 188L331.18 189.49L332.83 189.73L331.64 190.89L331.92 192.52L330.45 191.75L328.98 192.52L329.26 190.89L328.07 189.73L329.72 189.49ZM335.75 188L336.48 189.49L338.13 189.73L336.94 190.89L337.22 192.52L335.75 191.75L334.28 192.52L334.56 190.89L333.37 189.73L335.02 189.49ZM341.05 188L341.78 189.49L343.43 189.73L342.24 190.89L342.52 192.52L341.05 191.75L339.58 192.52L339.86 190.89L338.67 189.73L340.32 189.49ZM346.35 188L347.08 189.49L348.73 189.73L347.54 190.89L347.82 192.52L346.35 191.75L344.88 192.52L345.16 190.89L343.97 189.73L345.62 189.49Z" fill="#231f20"/>
<text x="302.4" y="342.6" font-size="8.6" text-anchor="middle" stroke="#231f20" stroke-width="0.15" textLength="17.32" lengthAdjust="spacingAndGlyphs">GFP</text>
<text x="322.8" y="342.6" font-size="8.6" text-anchor="middle" stroke="#231f20" stroke-width="0.15" textLength="17.79" lengthAdjust="spacingAndGlyphs">Irisin</text>
<text x="343.2" y="342.6" font-size="8.6" text-anchor="middle" stroke="#231f20" stroke-width="0.15" textLength="17.32" lengthAdjust="spacingAndGlyphs">GFP</text>
<text x="363.6" y="342.6" font-size="8.6" text-anchor="middle" stroke="#231f20" stroke-width="0.15" textLength="17.79" lengthAdjust="spacingAndGlyphs">Irisin</text>
<line x1="300.6" y1="349.5" x2="304.2" y2="349.5" stroke="#8a8a8a" stroke-width="0.9"/>
<line x1="321" y1="349.5" x2="324.6" y2="349.5" stroke="#8a8a8a" stroke-width="0.9"/>
<text x="343.2" y="352.2" font-size="8" text-anchor="middle" stroke="#231f20" stroke-width="0.15">+</text>
<text x="363.6" y="352.2" font-size="8" text-anchor="middle" stroke="#231f20" stroke-width="0.15">+</text>
<text x="288.5" y="342.6" font-size="8.6" text-anchor="end" stroke="#231f20" stroke-width="0.15" textLength="15.74" lengthAdjust="spacingAndGlyphs">AAV</text>
<text x="289.5" y="353.2" font-size="8.6" text-anchor="end" stroke="#231f20" stroke-width="0.15" textLength="36.83" lengthAdjust="spacingAndGlyphs">IL-33trap</text>
<text x="246.6" y="260.2" font-size="9.3" text-anchor="middle" stroke="#231f20" stroke-width="0.15" transform="rotate(-90 246.6 260.2)" textLength="81" lengthAdjust="spacingAndGlyphs">No. of CD45<tspan baseline-shift="super" font-size="5.5">+</tspan> cells</text>
<text x="258.4" y="261.2" font-size="9.3" text-anchor="middle" stroke="#231f20" stroke-width="0.15" transform="rotate(-90 258.4 261.2)" textLength="61.8" lengthAdjust="spacingAndGlyphs">(×10<tspan baseline-shift="super" font-size="5.5">4</tspan>)/g tissue</text>
<text x="389.3" y="194" font-size="13.5" fill="#000" font-weight="bold" stroke="#000" stroke-width="0.55">d</text>
<line x1="431.5" y1="193.4" x2="431.5" y2="326.6" stroke="#8c8c8c" stroke-width="1"/>
<line x1="431.1" y1="326.5" x2="520" y2="326.5" stroke="#a0a0a0" stroke-width="1.2"/>
<line x1="426.3" y1="326.5" x2="431.1" y2="326.5" stroke="#a8a8a8" stroke-width="1"/>
<text x="422.7" y="330.4" font-size="8.6" text-anchor="end" stroke="#231f20" stroke-width="0.15" textLength="4.78" lengthAdjust="spacingAndGlyphs">0</text>
<line x1="426.3" y1="299.5" x2="431.1" y2="299.5" stroke="#a8a8a8" stroke-width="1"/>
<text x="422.7" y="303.76" font-size="8.6" text-anchor="end" stroke="#231f20" stroke-width="0.15" textLength="9.56" lengthAdjust="spacingAndGlyphs">20</text>
<line x1="426.3" y1="273.5" x2="431.1" y2="273.5" stroke="#a8a8a8" stroke-width="1"/>
<text x="422.7" y="277.12" font-size="8.6" text-anchor="end" stroke="#231f20" stroke-width="0.15" textLength="9.56" lengthAdjust="spacingAndGlyphs">40</text>
<line x1="426.3" y1="246.5" x2="431.1" y2="246.5" stroke="#a8a8a8" stroke-width="1"/>
<text x="422.7" y="250.48" font-size="8.6" text-anchor="end" stroke="#231f20" stroke-width="0.15" textLength="9.56" lengthAdjust="spacingAndGlyphs">60</text>
<line x1="426.3" y1="220.5" x2="431.1" y2="220.5" stroke="#a8a8a8" stroke-width="1"/>
<text x="422.7" y="223.84" font-size="8.6" text-anchor="end" stroke="#231f20" stroke-width="0.15" textLength="9.56" lengthAdjust="spacingAndGlyphs">80</text>
<line x1="426.3" y1="193.5" x2="431.1" y2="193.5" stroke="#a8a8a8" stroke-width="1"/>
<text x="422.7" y="197.2" font-size="8.6" text-anchor="end" stroke="#231f20" stroke-width="0.15" textLength="14.35" lengthAdjust="spacingAndGlyphs">100</text>
<line x1="445.5" y1="326.6" x2="445.5" y2="331.6" stroke="#6b6b6b" stroke-width="1"/>
<line x1="465.5" y1="326.6" x2="465.5" y2="331.6" stroke="#6b6b6b" stroke-width="1"/>
<line x1="485.5" y1="326.6" x2="485.5" y2="331.6" stroke="#6b6b6b" stroke-width="1"/>
<line x1="506.5" y1="326.6" x2="506.5" y2="331.6" stroke="#6b6b6b" stroke-width="1"/>
<circle cx="445" cy="231.36" r="3.4" fill="#000000"/>
<circle cx="445" cy="256" r="3.4" fill="#000000"/>
<circle cx="449" cy="271.19" r="3.4" fill="#000000"/>
<circle cx="441" cy="273.32" r="3.4" fill="#000000"/>
<circle cx="445" cy="282.78" r="3.4" fill="#000000"/>
<circle cx="445" cy="291.17" r="3.4" fill="#000000"/>
<circle cx="465.5" cy="234.69" r="3.4" fill="#ff7a45"/>
<circle cx="465.5" cy="248.41" r="3.4" fill="#ff7a45"/>
<circle cx="465.5" cy="276.92" r="3.4" fill="#ff7a45"/>
<circle cx="461.5" cy="285.31" r="3.4" fill="#ff7a45"/>
<circle cx="469.5" cy="286.64" r="3.4" fill="#ff7a45"/>
<circle cx="465.5" cy="299.96" r="3.4" fill="#ff7a45"/>
<circle cx="485.7" cy="252.81" r="3.4" fill="#5ab43a"/>
<circle cx="481.7" cy="260.4" r="3.4" fill="#5ab43a"/>
<circle cx="490.7" cy="262.4" r="3.4" fill="#5ab43a"/>
<circle cx="485.7" cy="259.33" r="3.4" fill="#5ab43a"/>
<circle cx="485.7" cy="270.79" r="3.4" fill="#5ab43a"/>
<circle cx="485.7" cy="284.38" r="3.4" fill="#5ab43a"/>
<circle cx="506" cy="219.24" r="3.4" fill="#cc00cc"/>
<circle cx="506" cy="226.43" r="3.4" fill="#cc00cc"/>
<circle cx="506" cy="257.6" r="3.4" fill="#cc00cc"/>
<circle cx="502" cy="268.52" r="3.4" fill="#cc00cc"/>
<circle cx="510" cy="271.85" r="3.4" fill="#cc00cc"/>
<circle cx="506" cy="286.11" r="3.4" fill="#cc00cc"/>
<g stroke="#000000" stroke-opacity="0.55" stroke-width="1.1">
<line x1="445" y1="246.68" x2="445" y2="288.24"/>
<line x1="441.25" y1="246.68" x2="448.75" y2="246.68"/>
<line x1="441.25" y1="288.24" x2="448.75" y2="288.24"/>
</g>
<line x1="438" y1="267.46" x2="452" y2="267.46" stroke="#000000" stroke-width="1.3" stroke-opacity="0.85"/>
<g stroke="#ff7a45" stroke-opacity="0.55" stroke-width="1.1">
<line x1="465.5" y1="249.34" x2="465.5" y2="294.63"/>
<line x1="461.75" y1="249.34" x2="469.25" y2="249.34"/>
<line x1="461.75" y1="294.63" x2="469.25" y2="294.63"/>
</g>
<line x1="458.5" y1="271.99" x2="472.5" y2="271.99" stroke="#ff7a45" stroke-width="1.3" stroke-opacity="0.85"/>
<g stroke="#5ab43a" stroke-opacity="0.55" stroke-width="1.1">
<line x1="485.7" y1="254.67" x2="485.7" y2="275.98"/>
<line x1="481.95" y1="254.67" x2="489.45" y2="254.67"/>
<line x1="481.95" y1="275.98" x2="489.45" y2="275.98"/>
</g>
<line x1="478.7" y1="265.33" x2="492.7" y2="265.33" stroke="#5ab43a" stroke-width="1.3" stroke-opacity="0.85"/>
<g stroke="#cc00cc" stroke-opacity="0.55" stroke-width="1.1">
<line x1="506" y1="228.03" x2="506" y2="281.71"/>
<line x1="502.25" y1="228.03" x2="509.75" y2="228.03"/>
<line x1="502.25" y1="281.71" x2="509.75" y2="281.71"/>
</g>
<line x1="499" y1="254.67" x2="513" y2="254.67" stroke="#cc00cc" stroke-width="1.3" stroke-opacity="0.85"/>
<text x="445" y="342.6" font-size="8.6" text-anchor="middle" stroke="#231f20" stroke-width="0.15" textLength="17.32" lengthAdjust="spacingAndGlyphs">GFP</text>
<text x="465.5" y="342.6" font-size="8.6" text-anchor="middle" stroke="#231f20" stroke-width="0.15" textLength="17.79" lengthAdjust="spacingAndGlyphs">Irisin</text>
<text x="485.7" y="342.6" font-size="8.6" text-anchor="middle" stroke="#231f20" stroke-width="0.15" textLength="17.32" lengthAdjust="spacingAndGlyphs">GFP</text>
<text x="506" y="342.6" font-size="8.6" text-anchor="middle" stroke="#231f20" stroke-width="0.15" textLength="17.79" lengthAdjust="spacingAndGlyphs">Irisin</text>
<line x1="443.2" y1="349.5" x2="446.8" y2="349.5" stroke="#8a8a8a" stroke-width="0.9"/>
<line x1="463.7" y1="349.5" x2="467.3" y2="349.5" stroke="#8a8a8a" stroke-width="0.9"/>
<text x="485.7" y="352.2" font-size="8" text-anchor="middle" stroke="#231f20" stroke-width="0.15">+</text>
<text x="506" y="352.2" font-size="8" text-anchor="middle" stroke="#231f20" stroke-width="0.15">+</text>
<text x="431.5" y="342.6" font-size="8.6" text-anchor="end" stroke="#231f20" stroke-width="0.15" textLength="15.74" lengthAdjust="spacingAndGlyphs">AAV</text>
<text x="432.5" y="353.2" font-size="8.6" text-anchor="end" stroke="#231f20" stroke-width="0.15" textLength="36.83" lengthAdjust="spacingAndGlyphs">IL-33trap</text>
<text x="399.4" y="259.9" font-size="9.3" text-anchor="middle" stroke="#231f20" stroke-width="0.15" transform="rotate(-90 399.4 259.9)" textLength="120.5" lengthAdjust="spacingAndGlyphs">No. of mSCs (×10<tspan baseline-shift="super" font-size="5.5">4</tspan>)/g tissue</text>
<line x1="566.5" y1="193.6" x2="566.5" y2="326.6" stroke="#8c8c8c" stroke-width="1"/>
<line x1="566.7" y1="326.5" x2="655.4" y2="326.5" stroke="#a0a0a0" stroke-width="1.2"/>
<line x1="561.9" y1="326.5" x2="566.7" y2="326.5" stroke="#a8a8a8" stroke-width="1"/>
<text x="558.3" y="330.4" font-size="8.6" text-anchor="end" stroke="#231f20" stroke-width="0.15" textLength="4.78" lengthAdjust="spacingAndGlyphs">0</text>
<line x1="561.9" y1="293.5" x2="566.7" y2="293.5" stroke="#a8a8a8" stroke-width="1"/>
<text x="558.3" y="297.15" font-size="8.6" text-anchor="end" stroke="#231f20" stroke-width="0.15" textLength="9.56" lengthAdjust="spacingAndGlyphs">20</text>
<line x1="561.9" y1="260.5" x2="566.7" y2="260.5" stroke="#a8a8a8" stroke-width="1"/>
<text x="558.3" y="263.9" font-size="8.6" text-anchor="end" stroke="#231f20" stroke-width="0.15" textLength="9.56" lengthAdjust="spacingAndGlyphs">40</text>
<line x1="561.9" y1="226.5" x2="566.7" y2="226.5" stroke="#a8a8a8" stroke-width="1"/>
<text x="558.3" y="230.65" font-size="8.6" text-anchor="end" stroke="#231f20" stroke-width="0.15" textLength="9.56" lengthAdjust="spacingAndGlyphs">60</text>
<line x1="561.9" y1="193.5" x2="566.7" y2="193.5" stroke="#a8a8a8" stroke-width="1"/>
<text x="558.3" y="197.4" font-size="8.6" text-anchor="end" stroke="#231f20" stroke-width="0.15" textLength="9.56" lengthAdjust="spacingAndGlyphs">80</text>
<line x1="580.5" y1="326.6" x2="580.5" y2="331.6" stroke="#6b6b6b" stroke-width="1"/>
<line x1="600.5" y1="326.6" x2="600.5" y2="331.6" stroke="#6b6b6b" stroke-width="1"/>
<line x1="620.5" y1="326.6" x2="620.5" y2="331.6" stroke="#6b6b6b" stroke-width="1"/>
<line x1="641.5" y1="326.6" x2="641.5" y2="331.6" stroke="#6b6b6b" stroke-width="1"/>
<circle cx="580.3" cy="280.05" r="3.4" fill="#000000"/>
<circle cx="575.3" cy="293.18" r="3.4" fill="#000000"/>
<circle cx="585.3" cy="293.85" r="3.4" fill="#000000"/>
<circle cx="580.3" cy="292.69" r="3.4" fill="#000000"/>
<circle cx="582.3" cy="306.32" r="3.4" fill="#000000"/>
<circle cx="577.3" cy="309.81" r="3.4" fill="#000000"/>
<circle cx="600.6" cy="205.24" r="3.4" fill="#ff7a45"/>
<circle cx="600.6" cy="210.72" r="3.4" fill="#ff7a45"/>
<circle cx="595.6" cy="225.19" r="3.4" fill="#ff7a45"/>
<circle cx="600.6" cy="228.85" r="3.4" fill="#ff7a45"/>
<circle cx="605.6" cy="228.18" r="3.4" fill="#ff7a45"/>
<circle cx="600.6" cy="263.09" r="3.4" fill="#ff7a45"/>
<circle cx="616.9" cy="276.89" r="3.4" fill="#5ab43a"/>
<circle cx="624.9" cy="277.39" r="3.4" fill="#5ab43a"/>
<circle cx="621.9" cy="276.89" r="3.4" fill="#5ab43a"/>
<circle cx="620.9" cy="283.87" r="3.4" fill="#5ab43a"/>
<circle cx="618.9" cy="307.65" r="3.4" fill="#5ab43a"/>
<circle cx="623.9" cy="307.65" r="3.4" fill="#5ab43a"/>
<circle cx="641.2" cy="268.25" r="3.4" fill="#cc00cc"/>
<circle cx="641.2" cy="280.72" r="3.4" fill="#cc00cc"/>
<circle cx="641.2" cy="287.7" r="3.4" fill="#cc00cc"/>
<circle cx="641.2" cy="294.85" r="3.4" fill="#cc00cc"/>
<circle cx="641.2" cy="302.49" r="3.4" fill="#cc00cc"/>
<circle cx="641.2" cy="314.96" r="3.4" fill="#cc00cc"/>
<g stroke="#000000" stroke-opacity="0.55" stroke-width="1.1">
<line x1="580.3" y1="285.04" x2="580.3" y2="302.49"/>
<line x1="576.55" y1="285.04" x2="584.05" y2="285.04"/>
<line x1="576.55" y1="302.49" x2="584.05" y2="302.49"/>
</g>
<line x1="573.3" y1="293.85" x2="587.3" y2="293.85" stroke="#000000" stroke-width="1.3" stroke-opacity="0.85"/>
<g stroke="#ff7a45" stroke-opacity="0.55" stroke-width="1.1">
<line x1="600.6" y1="215.21" x2="600.6" y2="247.13"/>
<line x1="596.85" y1="215.21" x2="604.35" y2="215.21"/>
<line x1="596.85" y1="247.13" x2="604.35" y2="247.13"/>
</g>
<line x1="593.6" y1="228.18" x2="607.6" y2="228.18" stroke="#ff7a45" stroke-width="1.3" stroke-opacity="0.85"/>
<g stroke="#5ab43a" stroke-opacity="0.55" stroke-width="1.1">
<line x1="620.9" y1="274.06" x2="620.9" y2="303.66"/>
<line x1="617.15" y1="274.06" x2="624.65" y2="274.06"/>
<line x1="617.15" y1="303.66" x2="624.65" y2="303.66"/>
</g>
<line x1="613.9" y1="288.36" x2="627.9" y2="288.36" stroke="#5ab43a" stroke-width="1.3" stroke-opacity="0.85"/>
<g stroke="#cc00cc" stroke-opacity="0.55" stroke-width="1.1">
<line x1="641.2" y1="275.06" x2="641.2" y2="307.65"/>
<line x1="637.45" y1="275.06" x2="644.95" y2="275.06"/>
<line x1="637.45" y1="307.65" x2="644.95" y2="307.65"/>
</g>
<line x1="634.2" y1="291.19" x2="648.2" y2="291.19" stroke="#cc00cc" stroke-width="1.3" stroke-opacity="0.85"/>
<path d="M580.3 198.6V195.6H600.6V198.6" stroke="#8c8c8c" stroke-width="1" fill="none"/>
<path d="M582.65 188.3L583.38 189.79L585.03 190.03L583.84 191.19L584.12 192.82L582.65 192.05L581.18 192.82L581.46 191.19L580.27 190.03L581.92 189.79ZM587.95 188.3L588.68 189.79L590.33 190.03L589.14 191.19L589.42 192.82L587.95 192.05L586.48 192.82L586.76 191.19L585.57 190.03L587.22 189.79ZM593.25 188.3L593.98 189.79L595.63 190.03L594.44 191.19L594.72 192.82L593.25 192.05L591.78 192.82L592.06 191.19L590.87 190.03L592.52 189.79ZM598.55 188.3L599.28 189.79L600.93 190.03L599.74 191.19L600.02 192.82L598.55 192.05L597.08 192.82L597.36 191.19L596.17 190.03L597.82 189.79Z" fill="#231f20"/>
<path d="M600.6 198.6V195.6H641.2V198.6" stroke="#8c8c8c" stroke-width="1" fill="none"/>
<path d="M613.05 188.3L613.78 189.79L615.43 190.03L614.24 191.19L614.52 192.82L613.05 192.05L611.58 192.82L611.86 191.19L610.67 190.03L612.32 189.79ZM618.35 188.3L619.08 189.79L620.73 190.03L619.54 191.19L619.82 192.82L618.35 192.05L616.88 192.82L617.16 191.19L615.97 190.03L617.62 189.79ZM623.65 188.3L624.38 189.79L626.03 190.03L624.84 191.19L625.12 192.82L623.65 192.05L622.18 192.82L622.46 191.19L621.27 190.03L622.92 189.79ZM628.95 188.3L629.68 189.79L631.33 190.03L630.14 191.19L630.42 192.82L628.95 192.05L627.48 192.82L627.76 191.19L626.57 190.03L628.22 189.79Z" fill="#231f20"/>
<text x="580.3" y="342.6" font-size="8.6" text-anchor="middle" stroke="#231f20" stroke-width="0.15" textLength="17.32" lengthAdjust="spacingAndGlyphs">GFP</text>
<text x="600.6" y="342.6" font-size="8.6" text-anchor="middle" stroke="#231f20" stroke-width="0.15" textLength="17.79" lengthAdjust="spacingAndGlyphs">Irisin</text>
<text x="620.9" y="342.6" font-size="8.6" text-anchor="middle" stroke="#231f20" stroke-width="0.15" textLength="17.32" lengthAdjust="spacingAndGlyphs">GFP</text>
<text x="641.2" y="342.6" font-size="8.6" text-anchor="middle" stroke="#231f20" stroke-width="0.15" textLength="17.79" lengthAdjust="spacingAndGlyphs">Irisin</text>
<line x1="578.5" y1="349.5" x2="582.1" y2="349.5" stroke="#8a8a8a" stroke-width="0.9"/>
<line x1="598.8" y1="349.5" x2="602.4" y2="349.5" stroke="#8a8a8a" stroke-width="0.9"/>
<text x="620.9" y="352.2" font-size="8" text-anchor="middle" stroke="#231f20" stroke-width="0.15">+</text>
<text x="641.2" y="352.2" font-size="8" text-anchor="middle" stroke="#231f20" stroke-width="0.15">+</text>
<text x="541" y="257.7" font-size="9.3" text-anchor="middle" stroke="#231f20" stroke-width="0.15" transform="rotate(-90 541 257.7)" textLength="101.5" lengthAdjust="spacingAndGlyphs">% IL-33<tspan baseline-shift="super" font-size="5.5">+</tspan> cells of VmSCs</text>
<text x="0.3" y="380.6" font-size="13.5" fill="#000" font-weight="bold" stroke="#000" stroke-width="0.55">e</text>
<line x1="53.5" y1="406.1" x2="53.5" y2="519.3" stroke="#8c8c8c" stroke-width="1"/>
<line x1="48.7" y1="519.5" x2="53.3" y2="519.5" stroke="#a8a8a8" stroke-width="1"/>
<text x="44.7" y="522.3" font-size="8.4" text-anchor="end" stroke="#231f20" stroke-width="0.15" textLength="5.04" lengthAdjust="spacingAndGlyphs">0</text>
<line x1="48.7" y1="490.5" x2="53.3" y2="490.5" stroke="#a8a8a8" stroke-width="1"/>
<text x="44.7" y="494" font-size="8.4" text-anchor="end" stroke="#231f20" stroke-width="0.15" textLength="10.09" lengthAdjust="spacingAndGlyphs">10</text>
<line x1="48.7" y1="462.5" x2="53.3" y2="462.5" stroke="#a8a8a8" stroke-width="1"/>
<text x="44.7" y="465.7" font-size="8.4" text-anchor="end" stroke="#231f20" stroke-width="0.15" textLength="10.09" lengthAdjust="spacingAndGlyphs">20</text>
<line x1="48.7" y1="434.5" x2="53.3" y2="434.5" stroke="#a8a8a8" stroke-width="1"/>
<text x="44.7" y="437.4" font-size="8.4" text-anchor="end" stroke="#231f20" stroke-width="0.15" textLength="10.09" lengthAdjust="spacingAndGlyphs">30</text>
<line x1="48.7" y1="406.5" x2="53.3" y2="406.5" stroke="#a8a8a8" stroke-width="1"/>
<text x="44.7" y="409.1" font-size="8.4" text-anchor="end" stroke="#231f20" stroke-width="0.15" textLength="10.09" lengthAdjust="spacingAndGlyphs">40</text>
<line x1="53.3" y1="519.5" x2="225.4" y2="519.5" stroke="#a0a0a0" stroke-width="1.2"/>
<line x1="94.5" y1="519.3" x2="94.5" y2="523.8" stroke="#6b6b6b" stroke-width="1"/>
<line x1="184.5" y1="519.3" x2="184.5" y2="523.8" stroke="#6b6b6b" stroke-width="1"/>
<text x="94.9" y="533" font-size="8.4" text-anchor="middle" stroke="#231f20" stroke-width="0.15" textLength="32.5" lengthAdjust="spacingAndGlyphs">Fat mass</text>
<text x="184" y="533" font-size="8.4" text-anchor="middle" stroke="#231f20" stroke-width="0.15" textLength="38.8" lengthAdjust="spacingAndGlyphs">Lean mass</text>
<text x="60.3" y="406.6" font-size="9" stroke="#231f20" stroke-width="0.15" textLength="67.4" lengthAdjust="spacingAndGlyphs">MRI: 18-wk HFD</text>
<text x="27.6" y="463.2" font-size="9.3" text-anchor="middle" stroke="#231f20" stroke-width="0.15" transform="rotate(-90 27.6 463.2)" textLength="36" lengthAdjust="spacingAndGlyphs">Mass (g)</text>
<circle cx="62.4" cy="452.23" r="3.4" fill="#000000"/>
<circle cx="66.4" cy="456.19" r="3.4" fill="#000000"/>
<circle cx="62.4" cy="459.87" r="3.4" fill="#000000"/>
<circle cx="70.4" cy="460.44" r="3.4" fill="#000000"/>
<circle cx="66.4" cy="459.87" r="3.4" fill="#000000"/>
<circle cx="66.4" cy="466.94" r="3.4" fill="#000000"/>
<circle cx="85.7" cy="463.55" r="3.4" fill="#ff6a00"/>
<circle cx="81.2" cy="474.3" r="3.4" fill="#ff6a00"/>
<circle cx="90.2" cy="474.3" r="3.4" fill="#ff6a00"/>
<circle cx="85.7" cy="474.3" r="3.4" fill="#ff6a00"/>
<circle cx="85.7" cy="478.26" r="3.4" fill="#ff6a00"/>
<circle cx="85.7" cy="492.98" r="3.4" fill="#ff6a00"/>
<circle cx="104.6" cy="445.72" r="3.4" fill="#1aa01a"/>
<circle cx="104.6" cy="451.66" r="3.4" fill="#1aa01a"/>
<circle cx="104.6" cy="456.19" r="3.4" fill="#1aa01a"/>
<circle cx="104.6" cy="463.55" r="3.4" fill="#1aa01a"/>
<circle cx="100.6" cy="471.76" r="3.4" fill="#1aa01a"/>
<circle cx="108.6" cy="471.76" r="3.4" fill="#1aa01a"/>
<circle cx="124.2" cy="455.91" r="3.4" fill="#9900cc"/>
<circle cx="120.2" cy="462.13" r="3.4" fill="#9900cc"/>
<circle cx="124.2" cy="462.98" r="3.4" fill="#9900cc"/>
<circle cx="120.2" cy="470.62" r="3.4" fill="#9900cc"/>
<circle cx="128.2" cy="470.62" r="3.4" fill="#9900cc"/>
<circle cx="125.2" cy="465.53" r="3.4" fill="#9900cc"/>
<circle cx="151.4" cy="448.55" r="3.4" fill="#000000"/>
<circle cx="159.4" cy="446.57" r="3.4" fill="#000000"/>
<circle cx="155.4" cy="451.1" r="3.4" fill="#000000"/>
<circle cx="151.4" cy="452.79" r="3.4" fill="#000000"/>
<circle cx="159.4" cy="450.53" r="3.4" fill="#000000"/>
<circle cx="155.4" cy="460.72" r="3.4" fill="#000000"/>
<circle cx="175.5" cy="438.93" r="3.4" fill="#ff6a00"/>
<circle cx="175.5" cy="444.02" r="3.4" fill="#ff6a00"/>
<circle cx="172" cy="448.83" r="3.4" fill="#ff6a00"/>
<circle cx="179" cy="449.4" r="3.4" fill="#ff6a00"/>
<circle cx="175.5" cy="452.79" r="3.4" fill="#ff6a00"/>
<circle cx="175.5" cy="457.32" r="3.4" fill="#ff6a00"/>
<circle cx="193.6" cy="440.91" r="3.4" fill="#1aa01a"/>
<circle cx="192.6" cy="446.57" r="3.4" fill="#1aa01a"/>
<circle cx="195.6" cy="449.4" r="3.4" fill="#1aa01a"/>
<circle cx="189.6" cy="450.53" r="3.4" fill="#1aa01a"/>
<circle cx="197.6" cy="453.64" r="3.4" fill="#1aa01a"/>
<circle cx="190.6" cy="456.19" r="3.4" fill="#1aa01a"/>
<circle cx="212.7" cy="441.76" r="3.4" fill="#9900cc"/>
<circle cx="209.7" cy="447.42" r="3.4" fill="#9900cc"/>
<circle cx="214.7" cy="449.4" r="3.4" fill="#9900cc"/>
<circle cx="208.7" cy="454.49" r="3.4" fill="#9900cc"/>
<circle cx="216.7" cy="454.49" r="3.4" fill="#9900cc"/>
<circle cx="212.7" cy="456.19" r="3.4" fill="#9900cc"/>
<path d="M66.4 455.91V464.96M62.9 455.91H69.9M62.9 464.96H69.9" stroke="#000000" stroke-opacity="0.6" stroke-width="1" fill="none"/>
<line x1="59.9" y1="460.5" x2="72.9" y2="460.5" stroke="#000000" stroke-width="1.2"/>
<path d="M85.7 466.1V485.91M82.2 466.1H89.2M82.2 485.91H89.2" stroke="#ff6a00" stroke-opacity="0.6" stroke-width="1" fill="none"/>
<line x1="79.2" y1="475.5" x2="92.2" y2="475.5" stroke="#ff6a00" stroke-width="1.2"/>
<path d="M104.6 449.68V471.19M101.1 449.68H108.1M101.1 471.19H108.1" stroke="#1aa01a" stroke-opacity="0.6" stroke-width="1" fill="none"/>
<line x1="98.1" y1="460.5" x2="111.1" y2="460.5" stroke="#1aa01a" stroke-width="1.2"/>
<path d="M124.2 459.87V469.77M120.7 459.87H127.7M120.7 469.77H127.7" stroke="#9900cc" stroke-opacity="0.6" stroke-width="1" fill="none"/>
<line x1="117.7" y1="464.5" x2="130.7" y2="464.5" stroke="#9900cc" stroke-width="1.2"/>
<path d="M155.4 447.42V456.19M151.9 447.42H158.9M151.9 456.19H158.9" stroke="#000000" stroke-opacity="0.6" stroke-width="1" fill="none"/>
<line x1="148.9" y1="451.5" x2="161.9" y2="451.5" stroke="#000000" stroke-width="1.2"/>
<path d="M175.5 443.46V455.34M172 443.46H179M172 455.34H179" stroke="#ff6a00" stroke-opacity="0.6" stroke-width="1" fill="none"/>
<line x1="169" y1="449.5" x2="182" y2="449.5" stroke="#ff6a00" stroke-width="1.2"/>
<path d="M193.6 446.29V454.78M190.1 446.29H197.1M190.1 454.78H197.1" stroke="#1aa01a" stroke-opacity="0.6" stroke-width="1" fill="none"/>
<line x1="187.1" y1="450.5" x2="200.1" y2="450.5" stroke="#1aa01a" stroke-width="1.2"/>
<path d="M212.7 447.42V456.19M209.2 447.42H216.2M209.2 456.19H216.2" stroke="#9900cc" stroke-opacity="0.6" stroke-width="1" fill="none"/>
<line x1="206.2" y1="451.5" x2="219.2" y2="451.5" stroke="#9900cc" stroke-width="1.2"/>
<path d="M66.4 427.2V424.2H87.4V427.2M86.2 437.3V434.3H125.6V437.3" stroke="#444" stroke-width="1" fill="none"/>
<path d="M76.9 416.5L77.63 417.99L79.28 418.23L78.09 419.39L78.37 421.02L76.9 420.25L75.43 421.02L75.71 419.39L74.52 418.23L76.17 417.99Z" fill="#231f20"/>
<path d="M106 427.1L106.73 428.59L108.38 428.83L107.19 429.99L107.47 431.62L106 430.85L104.53 431.62L104.81 429.99L103.62 428.83L105.27 428.59Z" fill="#231f20"/>
<text x="138.8" y="477.6" font-size="8.2" stroke="#231f20" stroke-width="0.15" textLength="57.2" lengthAdjust="spacingAndGlyphs">AAV-GFP + PBS</text>
<text x="138.8" y="487.7" font-size="8.2" fill="#ec7a35" stroke="#ec7a35" stroke-width="0.15" textLength="60.1" lengthAdjust="spacingAndGlyphs">AAV-irisin + PBS</text>
<text x="138.8" y="497.8" font-size="8.2" fill="#35b935" stroke="#35b935" stroke-width="0.15" textLength="76.5" lengthAdjust="spacingAndGlyphs">AAV-GFP + IL-33trap</text>
<text x="138.8" y="508" font-size="8.2" fill="#9933bb" stroke="#9933bb" stroke-width="0.15" textLength="78.8" lengthAdjust="spacingAndGlyphs">AAV-irisin + IL-33trap</text>
<text x="239.8" y="381" font-size="13.5" fill="#000" font-weight="bold" stroke="#000" stroke-width="0.55">f</text>
<text x="287" y="380.5" font-size="9.3" stroke="#231f20" stroke-width="0.15" textLength="67.8" lengthAdjust="spacingAndGlyphs">AAV-GFP + PBS</text>
<text x="370.3" y="380.5" font-size="9.3" fill="#ec7a35" stroke="#ec7a35" stroke-width="0.15" textLength="71.2" lengthAdjust="spacingAndGlyphs">AAV-irisin + PBS</text>
<text x="455" y="380.5" font-size="9.3" fill="#35b935" stroke="#35b935" stroke-width="0.15" textLength="91.3" lengthAdjust="spacingAndGlyphs">AAV-GFP + IL-33trap</text>
<text x="559.8" y="380.5" font-size="9.3" fill="#9933bb" stroke="#9933bb" stroke-width="0.15" textLength="93.2" lengthAdjust="spacingAndGlyphs">AAV-irisin + IL-33trap</text>
<line x1="280.5" y1="404.6" x2="280.5" y2="519.1" stroke="#8c8c8c" stroke-width="1"/>
<line x1="276" y1="519.5" x2="280.6" y2="519.5" stroke="#a8a8a8" stroke-width="1"/>
<text x="272.2" y="522.1" font-size="8.4" text-anchor="end" stroke="#231f20" stroke-width="0.15" textLength="5.04" lengthAdjust="spacingAndGlyphs">0</text>
<line x1="276" y1="483.5" x2="280.6" y2="483.5" stroke="#a8a8a8" stroke-width="1"/>
<text x="272.2" y="486.2" font-size="8.4" text-anchor="end" stroke="#231f20" stroke-width="0.15" textLength="15.13" lengthAdjust="spacingAndGlyphs">200</text>
<line x1="276" y1="447.5" x2="280.6" y2="447.5" stroke="#a8a8a8" stroke-width="1"/>
<text x="272.2" y="450.3" font-size="8.4" text-anchor="end" stroke="#231f20" stroke-width="0.15" textLength="15.13" lengthAdjust="spacingAndGlyphs">400</text>
<line x1="276" y1="411.5" x2="280.6" y2="411.5" stroke="#a8a8a8" stroke-width="1"/>
<text x="272.2" y="414.4" font-size="8.4" text-anchor="end" stroke="#231f20" stroke-width="0.15" textLength="15.13" lengthAdjust="spacingAndGlyphs">600</text>
<line x1="280.6" y1="519.5" x2="445.5" y2="519.5" stroke="#9a9a9a" stroke-width="1.2"/>
<line x1="280.5" y1="519.1" x2="280.5" y2="523.6" stroke="#6b6b6b" stroke-width="1"/>
<text x="280.6" y="532.6" font-size="8.4" text-anchor="middle" stroke="#231f20" stroke-width="0.15" textLength="5.04" lengthAdjust="spacingAndGlyphs">0</text>
<line x1="305.5" y1="519.1" x2="305.5" y2="523.6" stroke="#6b6b6b" stroke-width="1"/>
<text x="305.84" y="532.6" font-size="8.4" text-anchor="middle" stroke="#231f20" stroke-width="0.15" textLength="10.09" lengthAdjust="spacingAndGlyphs">20</text>
<line x1="331.5" y1="519.1" x2="331.5" y2="523.6" stroke="#6b6b6b" stroke-width="1"/>
<text x="331.08" y="532.6" font-size="8.4" text-anchor="middle" stroke="#231f20" stroke-width="0.15" textLength="10.09" lengthAdjust="spacingAndGlyphs">40</text>
<line x1="356.5" y1="519.1" x2="356.5" y2="523.6" stroke="#6b6b6b" stroke-width="1"/>
<text x="356.32" y="532.6" font-size="8.4" text-anchor="middle" stroke="#231f20" stroke-width="0.15" textLength="10.09" lengthAdjust="spacingAndGlyphs">60</text>
<line x1="381.5" y1="519.1" x2="381.5" y2="523.6" stroke="#6b6b6b" stroke-width="1"/>
<text x="381.56" y="532.6" font-size="8.4" text-anchor="middle" stroke="#231f20" stroke-width="0.15" textLength="10.09" lengthAdjust="spacingAndGlyphs">80</text>
<line x1="406.5" y1="519.1" x2="406.5" y2="523.6" stroke="#6b6b6b" stroke-width="1"/>
<text x="406.8" y="532.6" font-size="8.4" text-anchor="middle" stroke="#231f20" stroke-width="0.15" textLength="15.13" lengthAdjust="spacingAndGlyphs">100</text>
<line x1="432.5" y1="519.1" x2="432.5" y2="523.6" stroke="#6b6b6b" stroke-width="1"/>
<text x="432.04" y="532.6" font-size="8.4" text-anchor="middle" stroke="#231f20" stroke-width="0.15" textLength="15.13" lengthAdjust="spacingAndGlyphs">120</text>
<text x="363.5" y="546" font-size="9" text-anchor="middle" stroke="#231f20" stroke-width="0.15" textLength="47.8" lengthAdjust="spacingAndGlyphs">Time (min)</text>
<text x="284.7" y="406.5" font-size="9" stroke="#231f20" stroke-width="0.15" textLength="69.5" lengthAdjust="spacingAndGlyphs">GTT: 17-wk HFD</text>
<text x="249.6" y="462.5" font-size="9.3" text-anchor="middle" stroke="#231f20" stroke-width="0.15" transform="rotate(-90 249.6 462.5)" textLength="103" lengthAdjust="spacingAndGlyphs">Blood glucose (mg dl<tspan baseline-shift="super" font-size="6">−1</tspan>)</text>
<polyline points="280.6,477.82 305.84,458.79 331.08,447.12 356.32,453.04 394.18,461.3 432.04,476.02" stroke="#ff8a1c" stroke-width="1.1" fill="none" stroke-linejoin="round"/>
<path d="M280.6 472.43V483.2M278.35 472.43H282.85M278.35 483.2H282.85" stroke="#ff8a1c" stroke-opacity="0.7" stroke-width="0.9" fill="none"/>
<path d="M305.84 450.71V466.87M303.59 450.71H308.09M303.59 466.87H308.09" stroke="#ff8a1c" stroke-opacity="0.7" stroke-width="0.9" fill="none"/>
<path d="M331.08 441.74V452.51M328.83 441.74H333.33M328.83 452.51H333.33" stroke="#ff8a1c" stroke-opacity="0.7" stroke-width="0.9" fill="none"/>
<path d="M356.32 444.61V461.48M354.07 444.61H358.57M354.07 461.48H358.57" stroke="#ff8a1c" stroke-opacity="0.7" stroke-width="0.9" fill="none"/>
<path d="M394.18 452.33V470.28M391.93 452.33H396.43M391.93 470.28H396.43" stroke="#ff8a1c" stroke-opacity="0.7" stroke-width="0.9" fill="none"/>
<path d="M432.04 472.43V479.61M429.79 472.43H434.29M429.79 479.61H434.29" stroke="#ff8a1c" stroke-opacity="0.7" stroke-width="0.9" fill="none"/>
<circle cx="280.6" cy="477.82" r="2.45" fill="#ff8a1c"/>
<circle cx="305.84" cy="458.79" r="2.45" fill="#ff8a1c"/>
<circle cx="331.08" cy="447.12" r="2.45" fill="#ff8a1c"/>
<circle cx="356.32" cy="453.04" r="2.45" fill="#ff8a1c"/>
<circle cx="394.18" cy="461.3" r="2.45" fill="#ff8a1c"/>
<circle cx="432.04" cy="476.02" r="2.45" fill="#ff8a1c"/>
<polyline points="280.6,477.82 305.84,443.17 331.08,433.84 356.32,439.94 394.18,449.45 432.04,462.02" stroke="#9a1fd0" stroke-width="1.1" fill="none" stroke-linejoin="round"/>
<path d="M280.6 469.74V485.89M278.35 469.74H282.85M278.35 485.89H282.85" stroke="#9a1fd0" stroke-opacity="0.7" stroke-width="0.9" fill="none"/>
<path d="M305.84 433.3V453.04M303.59 433.3H308.09M303.59 453.04H308.09" stroke="#9a1fd0" stroke-opacity="0.7" stroke-width="0.9" fill="none"/>
<path d="M331.08 425.76V441.92M328.83 425.76H333.33M328.83 441.92H333.33" stroke="#9a1fd0" stroke-opacity="0.7" stroke-width="0.9" fill="none"/>
<path d="M356.32 422.89V456.99M354.07 422.89H358.57M354.07 456.99H358.57" stroke="#9a1fd0" stroke-opacity="0.7" stroke-width="0.9" fill="none"/>
<path d="M394.18 442.27V456.63M391.93 442.27H396.43M391.93 456.63H396.43" stroke="#9a1fd0" stroke-opacity="0.7" stroke-width="0.9" fill="none"/>
<path d="M432.04 451.25V472.79M429.79 451.25H434.29M429.79 472.79H434.29" stroke="#9a1fd0" stroke-opacity="0.7" stroke-width="0.9" fill="none"/>
<circle cx="280.6" cy="477.82" r="2.45" fill="#9a1fd0"/>
<circle cx="305.84" cy="443.17" r="2.45" fill="#9a1fd0"/>
<circle cx="331.08" cy="433.84" r="2.45" fill="#9a1fd0"/>
<circle cx="356.32" cy="439.94" r="2.45" fill="#9a1fd0"/>
<circle cx="394.18" cy="449.45" r="2.45" fill="#9a1fd0"/>
<circle cx="432.04" cy="462.02" r="2.45" fill="#9a1fd0"/>
<polyline points="280.6,480.51 305.84,441.56 331.08,420.55 356.32,436.35 394.18,449.1 432.04,459.87" stroke="#22bb22" stroke-width="1.1" fill="none" stroke-linejoin="round"/>
<path d="M280.6 476.92V484.1M278.35 476.92H282.85M278.35 484.1H282.85" stroke="#22bb22" stroke-opacity="0.7" stroke-width="0.9" fill="none"/>
<path d="M305.84 434.38V448.74M303.59 434.38H308.09M303.59 448.74H308.09" stroke="#22bb22" stroke-opacity="0.7" stroke-width="0.9" fill="none"/>
<path d="M331.08 415.17V425.94M328.83 415.17H333.33M328.83 425.94H333.33" stroke="#22bb22" stroke-opacity="0.7" stroke-width="0.9" fill="none"/>
<path d="M356.32 428.27V444.43M354.07 428.27H358.57M354.07 444.43H358.57" stroke="#22bb22" stroke-opacity="0.7" stroke-width="0.9" fill="none"/>
<path d="M394.18 441.92V456.28M391.93 441.92H396.43M391.93 456.28H396.43" stroke="#22bb22" stroke-opacity="0.7" stroke-width="0.9" fill="none"/>
<path d="M432.04 455.38V464.35M429.79 455.38H434.29M429.79 464.35H434.29" stroke="#22bb22" stroke-opacity="0.7" stroke-width="0.9" fill="none"/>
<circle cx="280.6" cy="480.51" r="2.45" fill="#22bb22"/>
<circle cx="305.84" cy="441.56" r="2.45" fill="#22bb22"/>
<circle cx="331.08" cy="420.55" r="2.45" fill="#22bb22"/>
<circle cx="356.32" cy="436.35" r="2.45" fill="#22bb22"/>
<circle cx="394.18" cy="449.1" r="2.45" fill="#22bb22"/>
<circle cx="432.04" cy="459.87" r="2.45" fill="#22bb22"/>
<polyline points="280.6,476.02 305.84,439.58 331.08,426.3 356.32,434.2 394.18,448.2 432.04,460.76" stroke="#000000" stroke-width="1.1" fill="none" stroke-linejoin="round"/>
<path d="M280.6 471.53V480.51M278.35 471.53H282.85M278.35 480.51H282.85" stroke="#000000" stroke-opacity="0.7" stroke-width="0.9" fill="none"/>
<path d="M305.84 426.48V452.69M303.59 426.48H308.09M303.59 452.69H308.09" stroke="#000000" stroke-opacity="0.7" stroke-width="0.9" fill="none"/>
<path d="M331.08 419.12V433.48M328.83 419.12H333.33M328.83 433.48H333.33" stroke="#000000" stroke-opacity="0.7" stroke-width="0.9" fill="none"/>
<path d="M356.32 427.38V441.02M354.07 427.38H358.57M354.07 441.02H358.57" stroke="#000000" stroke-opacity="0.7" stroke-width="0.9" fill="none"/>
<path d="M394.18 437.43V458.97M391.93 437.43H396.43M391.93 458.97H396.43" stroke="#000000" stroke-opacity="0.7" stroke-width="0.9" fill="none"/>
<path d="M432.04 455.38V466.15M429.79 455.38H434.29M429.79 466.15H434.29" stroke="#000000" stroke-opacity="0.7" stroke-width="0.9" fill="none"/>
<circle cx="280.6" cy="476.02" r="2.45" fill="#000000"/>
<circle cx="305.84" cy="439.58" r="2.45" fill="#000000"/>
<circle cx="331.08" cy="426.3" r="2.45" fill="#000000"/>
<circle cx="356.32" cy="434.2" r="2.45" fill="#000000"/>
<circle cx="394.18" cy="448.2" r="2.45" fill="#000000"/>
<circle cx="432.04" cy="460.76" r="2.45" fill="#000000"/>
<path d="M444.3 459.3H443V477.4H444.3M450.5 459.3H451.7V477.6H450.5" stroke="#555" stroke-width="0.9" fill="none"/>
<path d="M444.9 459.65L446.36 459.04L446.49 457.46L447.52 458.67L449.06 458.3L448.24 459.65L449.06 461L447.52 460.63L446.49 461.84L446.36 460.26ZM444.9 464.75L446.36 464.14L446.49 462.56L447.52 463.77L449.06 463.4L448.24 464.75L449.06 466.1L447.52 465.73L446.49 466.94L446.36 465.36ZM444.9 469.85L446.36 469.24L446.49 467.66L447.52 468.87L449.06 468.5L448.24 469.85L449.06 471.2L447.52 470.83L446.49 472.04L446.36 470.46ZM444.9 474.95L446.36 474.34L446.49 472.76L447.52 473.97L449.06 473.6L448.24 474.95L449.06 476.3L447.52 475.93L446.49 477.14L446.36 475.56Z" fill="#231f20"/>
<path d="M452.9 460.05L454.36 459.44L454.49 457.86L455.52 459.07L457.06 458.7L456.24 460.05L457.06 461.4L455.52 461.03L454.49 462.24L454.36 460.66ZM452.9 465.35L454.36 464.74L454.49 463.16L455.52 464.37L457.06 464L456.24 465.35L457.06 466.7L455.52 466.33L454.49 467.54L454.36 465.96ZM452.9 470.65L454.36 470.04L454.49 468.46L455.52 469.67L457.06 469.3L456.24 470.65L457.06 472L455.52 471.63L454.49 472.84L454.36 471.26ZM452.9 475.95L454.36 475.34L454.49 473.76L455.52 474.97L457.06 474.6L456.24 475.95L457.06 477.3L455.52 476.93L454.49 478.14L454.36 476.56Z" fill="#231f20"/>
<line x1="498.5" y1="402" x2="498.5" y2="518.9" stroke="#8c8c8c" stroke-width="1"/>
<line x1="494.1" y1="518.5" x2="498.7" y2="518.5" stroke="#a8a8a8" stroke-width="1"/>
<text x="490.3" y="521.9" font-size="8.4" text-anchor="end" stroke="#231f20" stroke-width="0.15" textLength="5.04" lengthAdjust="spacingAndGlyphs">0</text>
<line x1="494.1" y1="472.5" x2="498.7" y2="472.5" stroke="#a8a8a8" stroke-width="1"/>
<text x="490.3" y="475.7" font-size="8.4" text-anchor="end" stroke="#231f20" stroke-width="0.15" textLength="15.13" lengthAdjust="spacingAndGlyphs">100</text>
<line x1="494.1" y1="426.5" x2="498.7" y2="426.5" stroke="#a8a8a8" stroke-width="1"/>
<text x="490.3" y="429.5" font-size="8.4" text-anchor="end" stroke="#231f20" stroke-width="0.15" textLength="15.13" lengthAdjust="spacingAndGlyphs">200</text>
<line x1="498.7" y1="518.5" x2="660.5" y2="518.5" stroke="#9a9a9a" stroke-width="1.2"/>
<line x1="498.5" y1="518.9" x2="498.5" y2="523.4" stroke="#6b6b6b" stroke-width="1"/>
<text x="498.7" y="532.6" font-size="8.4" text-anchor="middle" stroke="#231f20" stroke-width="0.15" textLength="5.04" lengthAdjust="spacingAndGlyphs">0</text>
<line x1="523.5" y1="518.9" x2="523.5" y2="523.4" stroke="#6b6b6b" stroke-width="1"/>
<text x="523.6" y="532.6" font-size="8.4" text-anchor="middle" stroke="#231f20" stroke-width="0.15" textLength="10.09" lengthAdjust="spacingAndGlyphs">20</text>
<line x1="548.5" y1="518.9" x2="548.5" y2="523.4" stroke="#6b6b6b" stroke-width="1"/>
<text x="548.5" y="532.6" font-size="8.4" text-anchor="middle" stroke="#231f20" stroke-width="0.15" textLength="10.09" lengthAdjust="spacingAndGlyphs">40</text>
<line x1="573.5" y1="518.9" x2="573.5" y2="523.4" stroke="#6b6b6b" stroke-width="1"/>
<text x="573.4" y="532.6" font-size="8.4" text-anchor="middle" stroke="#231f20" stroke-width="0.15" textLength="10.09" lengthAdjust="spacingAndGlyphs">60</text>
<line x1="598.5" y1="518.9" x2="598.5" y2="523.4" stroke="#6b6b6b" stroke-width="1"/>
<text x="598.3" y="532.6" font-size="8.4" text-anchor="middle" stroke="#231f20" stroke-width="0.15" textLength="10.09" lengthAdjust="spacingAndGlyphs">80</text>
<line x1="623.5" y1="518.9" x2="623.5" y2="523.4" stroke="#6b6b6b" stroke-width="1"/>
<text x="623.2" y="532.6" font-size="8.4" text-anchor="middle" stroke="#231f20" stroke-width="0.15" textLength="15.13" lengthAdjust="spacingAndGlyphs">100</text>
<line x1="648.5" y1="518.9" x2="648.5" y2="523.4" stroke="#6b6b6b" stroke-width="1"/>
<text x="648.1" y="532.6" font-size="8.4" text-anchor="middle" stroke="#231f20" stroke-width="0.15" textLength="15.13" lengthAdjust="spacingAndGlyphs">120</text>
<text x="579.6" y="546.4" font-size="9" text-anchor="middle" stroke="#231f20" stroke-width="0.15" textLength="47.8" lengthAdjust="spacingAndGlyphs">Time (min)</text>
<text x="502" y="407" font-size="9" stroke="#231f20" stroke-width="0.15" textLength="64.5" lengthAdjust="spacingAndGlyphs">ITT: 17-wk HFD</text>
<text x="469.8" y="461" font-size="9.3" text-anchor="middle" stroke="#231f20" stroke-width="0.15" transform="rotate(-90 469.8 461)" textLength="103" lengthAdjust="spacingAndGlyphs">Blood glucose (mg dl<tspan baseline-shift="super" font-size="6">−1</tspan>)</text>
<polyline points="498.7,428.81 523.6,480.55 548.5,494.88 573.4,499.96 610.75,500.42 648.1,494.41" stroke="#ff8a1c" stroke-width="1.1" fill="none" stroke-linejoin="round"/>
<path d="M498.7 410.33V447.29M496.45 410.33H500.95M496.45 447.29H500.95" stroke="#ff8a1c" stroke-opacity="0.7" stroke-width="0.9" fill="none"/>
<path d="M523.6 473.62V487.48M521.35 473.62H525.85M521.35 487.48H525.85" stroke="#ff8a1c" stroke-opacity="0.7" stroke-width="0.9" fill="none"/>
<path d="M548.5 486.56V503.19M546.25 486.56H550.75M546.25 503.19H550.75" stroke="#ff8a1c" stroke-opacity="0.7" stroke-width="0.9" fill="none"/>
<path d="M573.4 493.49V506.43M571.15 493.49H575.65M571.15 506.43H575.65" stroke="#ff8a1c" stroke-opacity="0.7" stroke-width="0.9" fill="none"/>
<path d="M610.75 491.18V509.66M608.5 491.18H613M608.5 509.66H613" stroke="#ff8a1c" stroke-opacity="0.7" stroke-width="0.9" fill="none"/>
<path d="M648.1 482.4V506.43M645.85 482.4H650.35M645.85 506.43H650.35" stroke="#ff8a1c" stroke-opacity="0.7" stroke-width="0.9" fill="none"/>
<circle cx="498.7" cy="428.81" r="2.45" fill="#ff8a1c"/>
<circle cx="523.6" cy="480.55" r="2.45" fill="#ff8a1c"/>
<circle cx="548.5" cy="494.88" r="2.45" fill="#ff8a1c"/>
<circle cx="573.4" cy="499.96" r="2.45" fill="#ff8a1c"/>
<circle cx="610.75" cy="500.42" r="2.45" fill="#ff8a1c"/>
<circle cx="648.1" cy="494.41" r="2.45" fill="#ff8a1c"/>
<polyline points="498.7,424.19 523.6,459.76 548.5,471.78 573.4,478.71 610.75,476.4 648.1,464.38" stroke="#9a1fd0" stroke-width="1.1" fill="none" stroke-linejoin="round"/>
<path d="M498.7 405.71V442.67M496.45 405.71H500.95M496.45 442.67H500.95" stroke="#9a1fd0" stroke-opacity="0.7" stroke-width="0.9" fill="none"/>
<path d="M523.6 449.6V469.93M521.35 449.6H525.85M521.35 469.93H525.85" stroke="#9a1fd0" stroke-opacity="0.7" stroke-width="0.9" fill="none"/>
<path d="M548.5 460.23V483.33M546.25 460.23H550.75M546.25 483.33H550.75" stroke="#9a1fd0" stroke-opacity="0.7" stroke-width="0.9" fill="none"/>
<path d="M573.4 467.16V490.26M571.15 467.16H575.65M571.15 490.26H575.65" stroke="#9a1fd0" stroke-opacity="0.7" stroke-width="0.9" fill="none"/>
<path d="M610.75 470.85V481.94M608.5 470.85H613M608.5 481.94H613" stroke="#9a1fd0" stroke-opacity="0.7" stroke-width="0.9" fill="none"/>
<path d="M648.1 457.92V470.85M645.85 457.92H650.35M645.85 470.85H650.35" stroke="#9a1fd0" stroke-opacity="0.7" stroke-width="0.9" fill="none"/>
<circle cx="498.7" cy="424.19" r="2.45" fill="#9a1fd0"/>
<circle cx="523.6" cy="459.76" r="2.45" fill="#9a1fd0"/>
<circle cx="548.5" cy="471.78" r="2.45" fill="#9a1fd0"/>
<circle cx="573.4" cy="478.71" r="2.45" fill="#9a1fd0"/>
<circle cx="610.75" cy="476.4" r="2.45" fill="#9a1fd0"/>
<circle cx="648.1" cy="464.38" r="2.45" fill="#9a1fd0"/>
<polyline points="498.7,431.12 523.6,454.22 548.5,465.77 573.4,468.08 610.75,462.54 648.1,455.61" stroke="#22bb22" stroke-width="1.1" fill="none" stroke-linejoin="round"/>
<path d="M498.7 421.88V440.36M496.45 421.88H500.95M496.45 440.36H500.95" stroke="#22bb22" stroke-opacity="0.7" stroke-width="0.9" fill="none"/>
<path d="M523.6 448.68V459.76M521.35 448.68H525.85M521.35 459.76H525.85" stroke="#22bb22" stroke-opacity="0.7" stroke-width="0.9" fill="none"/>
<path d="M548.5 449.6V481.94M546.25 449.6H550.75M546.25 481.94H550.75" stroke="#22bb22" stroke-opacity="0.7" stroke-width="0.9" fill="none"/>
<path d="M573.4 455.14V481.02M571.15 455.14H575.65M571.15 481.02H575.65" stroke="#22bb22" stroke-opacity="0.7" stroke-width="0.9" fill="none"/>
<path d="M610.75 458.84V466.23M608.5 458.84H613M608.5 466.23H613" stroke="#22bb22" stroke-opacity="0.7" stroke-width="0.9" fill="none"/>
<path d="M648.1 452.83V458.38M645.85 452.83H650.35M645.85 458.38H650.35" stroke="#22bb22" stroke-opacity="0.7" stroke-width="0.9" fill="none"/>
<circle cx="498.7" cy="431.12" r="2.45" fill="#22bb22"/>
<circle cx="523.6" cy="454.22" r="2.45" fill="#22bb22"/>
<circle cx="548.5" cy="465.77" r="2.45" fill="#22bb22"/>
<circle cx="573.4" cy="468.08" r="2.45" fill="#22bb22"/>
<circle cx="610.75" cy="462.54" r="2.45" fill="#22bb22"/>
<circle cx="648.1" cy="455.61" r="2.45" fill="#22bb22"/>
<polyline points="498.7,433.43 523.6,461.15 548.5,471.31 573.4,478.71 610.75,468.08 648.1,459.76" stroke="#000000" stroke-width="1.1" fill="none" stroke-linejoin="round"/>
<path d="M498.7 421.88V444.98M496.45 421.88H500.95M496.45 444.98H500.95" stroke="#000000" stroke-opacity="0.7" stroke-width="0.9" fill="none"/>
<path d="M523.6 454.22V468.08M521.35 454.22H525.85M521.35 468.08H525.85" stroke="#000000" stroke-opacity="0.7" stroke-width="0.9" fill="none"/>
<path d="M548.5 462.07V480.55M546.25 462.07H550.75M546.25 480.55H550.75" stroke="#000000" stroke-opacity="0.7" stroke-width="0.9" fill="none"/>
<path d="M573.4 471.78V485.64M571.15 471.78H575.65M571.15 485.64H575.65" stroke="#000000" stroke-opacity="0.7" stroke-width="0.9" fill="none"/>
<path d="M610.75 463.46V472.7M608.5 463.46H613M608.5 472.7H613" stroke="#000000" stroke-opacity="0.7" stroke-width="0.9" fill="none"/>
<path d="M648.1 456.07V463.46M645.85 456.07H650.35M645.85 463.46H650.35" stroke="#000000" stroke-opacity="0.7" stroke-width="0.9" fill="none"/>
<circle cx="498.7" cy="433.43" r="2.45" fill="#000000"/>
<circle cx="523.6" cy="461.15" r="2.45" fill="#000000"/>
<circle cx="548.5" cy="471.31" r="2.45" fill="#000000"/>
<circle cx="573.4" cy="478.71" r="2.45" fill="#000000"/>
<circle cx="610.75" cy="468.08" r="2.45" fill="#000000"/>
<circle cx="648.1" cy="459.76" r="2.45" fill="#000000"/>
<text x="659.4" y="455.5" font-size="8.8" text-anchor="middle" stroke="#231f20" stroke-width="0.15" transform="rotate(90 659.4 455.5)" textLength="35.4" lengthAdjust="spacingAndGlyphs"><tspan font-style="italic">P</tspan> = 0.066</text>
<path d="M655.2 452.7H657V459.3H655.2M668.4 460.5H670V494H668.4M677 450.3H678.8V495.4H677" stroke="#444" stroke-width="0.9" fill="none"/>
<path d="M671.65 466.65L673.14 466.03L673.27 464.42L674.33 465.64L675.9 465.27L675.06 466.65L675.9 468.03L674.33 467.66L673.27 468.88L673.14 467.27ZM671.65 471.95L673.14 471.33L673.27 469.72L674.33 470.94L675.9 470.57L675.06 471.95L675.9 473.33L674.33 472.96L673.27 474.18L673.14 472.57ZM671.65 477.25L673.14 476.63L673.27 475.02L674.33 476.24L675.9 475.87L675.06 477.25L675.9 478.63L674.33 478.26L673.27 479.48L673.14 477.87ZM671.65 482.55L673.14 481.93L673.27 480.32L674.33 481.54L675.9 481.17L675.06 482.55L675.9 483.93L674.33 483.56L673.27 484.78L673.14 483.17Z" fill="#231f20"/>
<path d="M680.25 461.45L681.74 460.83L681.87 459.22L682.93 460.44L684.5 460.07L683.66 461.45L684.5 462.83L682.93 462.46L681.87 463.68L681.74 462.07ZM680.25 466.75L681.74 466.13L681.87 464.52L682.93 465.74L684.5 465.37L683.66 466.75L684.5 468.13L682.93 467.76L681.87 468.98L681.74 467.37ZM680.25 472.05L681.74 471.43L681.87 469.82L682.93 471.04L684.5 470.67L683.66 472.05L684.5 473.43L682.93 473.06L681.87 474.28L681.74 472.67ZM680.25 477.35L681.74 476.73L681.87 475.12L682.93 476.34L684.5 475.97L683.66 477.35L684.5 478.73L682.93 478.36L681.87 479.58L681.74 477.97Z" fill="#231f20"/>
<text x="0.8" y="571.5" font-size="13.5" fill="#000" font-weight="bold" stroke="#000" stroke-width="0.55">g</text>
<rect x="114.48" y="571" width="36.48" height="135.6" fill="#d4d4d4"/>
<rect x="187.44" y="571" width="36.48" height="135.6" fill="#d4d4d4"/>
<rect x="260.4" y="571" width="36.48" height="135.6" fill="#d4d4d4"/>
<rect x="333.36" y="571" width="36.48" height="135.6" fill="#d4d4d4"/>
<line x1="77.5" y1="571" x2="77.5" y2="706.6" stroke="#8c8c8c" stroke-width="1"/>
<line x1="72.8" y1="706.5" x2="77.4" y2="706.5" stroke="#a8a8a8" stroke-width="1"/>
<text x="69.8" y="709.6" font-size="8.4" text-anchor="end" stroke="#231f20" stroke-width="0.15" textLength="5.04" lengthAdjust="spacingAndGlyphs">0</text>
<line x1="72.8" y1="679.5" x2="77.4" y2="679.5" stroke="#a8a8a8" stroke-width="1"/>
<text x="69.8" y="682.75" font-size="8.4" text-anchor="end" stroke="#231f20" stroke-width="0.15" textLength="17.65" lengthAdjust="spacingAndGlyphs">0.25</text>
<line x1="72.8" y1="652.5" x2="77.4" y2="652.5" stroke="#a8a8a8" stroke-width="1"/>
<text x="69.8" y="655.9" font-size="8.4" text-anchor="end" stroke="#231f20" stroke-width="0.15" textLength="17.65" lengthAdjust="spacingAndGlyphs">0.50</text>
<line x1="72.8" y1="626.5" x2="77.4" y2="626.5" stroke="#a8a8a8" stroke-width="1"/>
<text x="69.8" y="629.05" font-size="8.4" text-anchor="end" stroke="#231f20" stroke-width="0.15" textLength="17.65" lengthAdjust="spacingAndGlyphs">0.75</text>
<line x1="72.8" y1="599.5" x2="77.4" y2="599.5" stroke="#a8a8a8" stroke-width="1"/>
<text x="69.8" y="602.2" font-size="8.4" text-anchor="end" stroke="#231f20" stroke-width="0.15" textLength="17.65" lengthAdjust="spacingAndGlyphs">1.00</text>
<line x1="72.8" y1="572.5" x2="77.4" y2="572.5" stroke="#a8a8a8" stroke-width="1"/>
<text x="69.8" y="575.35" font-size="8.4" text-anchor="end" stroke="#231f20" stroke-width="0.15" textLength="17.65" lengthAdjust="spacingAndGlyphs">1.25</text>
<line x1="77.4" y1="706.5" x2="369.3" y2="706.5" stroke="#8c8c8c" stroke-width="1.2"/>
<line x1="78.5" y1="706.6" x2="78.5" y2="710.6" stroke="#9a9a9a" stroke-width="1"/>
<text x="78" y="720.6" font-size="8.4" text-anchor="middle" stroke="#231f20" stroke-width="0.15" textLength="5.04" lengthAdjust="spacingAndGlyphs">0</text>
<line x1="96.5" y1="706.6" x2="96.5" y2="710.6" stroke="#9a9a9a" stroke-width="1"/>
<text x="96.24" y="720.6" font-size="8.4" text-anchor="middle" stroke="#231f20" stroke-width="0.15" textLength="5.04" lengthAdjust="spacingAndGlyphs">6</text>
<line x1="114.5" y1="706.6" x2="114.5" y2="710.6" stroke="#9a9a9a" stroke-width="1"/>
<text x="114.48" y="720.6" font-size="8.4" text-anchor="middle" stroke="#231f20" stroke-width="0.15" textLength="10.09" lengthAdjust="spacingAndGlyphs">12</text>
<line x1="132.5" y1="706.6" x2="132.5" y2="710.6" stroke="#9a9a9a" stroke-width="1"/>
<text x="132.72" y="720.6" font-size="8.4" text-anchor="middle" stroke="#231f20" stroke-width="0.15" textLength="10.09" lengthAdjust="spacingAndGlyphs">18</text>
<line x1="150.5" y1="706.6" x2="150.5" y2="710.6" stroke="#9a9a9a" stroke-width="1"/>
<text x="150.96" y="720.6" font-size="8.4" text-anchor="middle" stroke="#231f20" stroke-width="0.15" textLength="10.09" lengthAdjust="spacingAndGlyphs">24</text>
<line x1="169.5" y1="706.6" x2="169.5" y2="710.6" stroke="#9a9a9a" stroke-width="1"/>
<text x="169.2" y="720.6" font-size="8.4" text-anchor="middle" stroke="#231f20" stroke-width="0.15" textLength="10.09" lengthAdjust="spacingAndGlyphs">30</text>
<line x1="187.5" y1="706.6" x2="187.5" y2="710.6" stroke="#9a9a9a" stroke-width="1"/>
<text x="187.44" y="720.6" font-size="8.4" text-anchor="middle" stroke="#231f20" stroke-width="0.15" textLength="10.09" lengthAdjust="spacingAndGlyphs">36</text>
<line x1="205.5" y1="706.6" x2="205.5" y2="710.6" stroke="#9a9a9a" stroke-width="1"/>
<text x="205.68" y="720.6" font-size="8.4" text-anchor="middle" stroke="#231f20" stroke-width="0.15" textLength="10.09" lengthAdjust="spacingAndGlyphs">42</text>
<line x1="223.5" y1="706.6" x2="223.5" y2="710.6" stroke="#9a9a9a" stroke-width="1"/>
<text x="223.92" y="720.6" font-size="8.4" text-anchor="middle" stroke="#231f20" stroke-width="0.15" textLength="10.09" lengthAdjust="spacingAndGlyphs">48</text>
<line x1="242.5" y1="706.6" x2="242.5" y2="710.6" stroke="#9a9a9a" stroke-width="1"/>
<text x="242.16" y="720.6" font-size="8.4" text-anchor="middle" stroke="#231f20" stroke-width="0.15" textLength="10.09" lengthAdjust="spacingAndGlyphs">54</text>
<line x1="260.5" y1="706.6" x2="260.5" y2="710.6" stroke="#9a9a9a" stroke-width="1"/>
<text x="260.4" y="720.6" font-size="8.4" text-anchor="middle" stroke="#231f20" stroke-width="0.15" textLength="10.09" lengthAdjust="spacingAndGlyphs">60</text>
<line x1="278.5" y1="706.6" x2="278.5" y2="710.6" stroke="#9a9a9a" stroke-width="1"/>
<text x="278.64" y="720.6" font-size="8.4" text-anchor="middle" stroke="#231f20" stroke-width="0.15" textLength="10.09" lengthAdjust="spacingAndGlyphs">66</text>
<line x1="296.5" y1="706.6" x2="296.5" y2="710.6" stroke="#9a9a9a" stroke-width="1"/>
<text x="296.88" y="720.6" font-size="8.4" text-anchor="middle" stroke="#231f20" stroke-width="0.15" textLength="10.09" lengthAdjust="spacingAndGlyphs">72</text>
<line x1="315.5" y1="706.6" x2="315.5" y2="710.6" stroke="#9a9a9a" stroke-width="1"/>
<text x="315.12" y="720.6" font-size="8.4" text-anchor="middle" stroke="#231f20" stroke-width="0.15" textLength="10.09" lengthAdjust="spacingAndGlyphs">78</text>
<line x1="333.5" y1="706.6" x2="333.5" y2="710.6" stroke="#9a9a9a" stroke-width="1"/>
<text x="333.36" y="720.6" font-size="8.4" text-anchor="middle" stroke="#231f20" stroke-width="0.15" textLength="10.09" lengthAdjust="spacingAndGlyphs">84</text>
<line x1="351.5" y1="706.6" x2="351.5" y2="710.6" stroke="#9a9a9a" stroke-width="1"/>
<text x="351.6" y="720.6" font-size="8.4" text-anchor="middle" stroke="#231f20" stroke-width="0.15" textLength="10.09" lengthAdjust="spacingAndGlyphs">90</text>
<text x="224.3" y="733.7" font-size="9" text-anchor="middle" stroke="#231f20" stroke-width="0.15" textLength="36" lengthAdjust="spacingAndGlyphs">Time (h)</text>
<text x="36.6" y="638.3" font-size="9.3" text-anchor="middle" stroke="#231f20" stroke-width="0.15" transform="rotate(-90 36.6 638.3)" textLength="87" lengthAdjust="spacingAndGlyphs">Energy expenditure</text>
<text x="46.8" y="638.7" font-size="9.3" text-anchor="middle" stroke="#231f20" stroke-width="0.15" transform="rotate(-90 46.8 638.7)" textLength="39.5" lengthAdjust="spacingAndGlyphs">(kcal h<tspan baseline-shift="super" font-size="6">−1</tspan>)</text>
<polyline points="78,627.03 79.01,635.34 80.03,616.73 81.04,638.69 82.05,637.43 83.07,627.18 84.08,646.1 85.09,643.89 86.11,638.21 87.12,642.28 88.13,648.94 89.15,641.7 90.16,643.03 91.17,636.07 92.19,653.4 93.2,646.42 94.21,632.78 95.23,627.74 96.24,653.34 97.25,637.41 98.27,649.9 99.28,649.25 100.29,648.92 101.31,645.1 102.32,633.99 103.33,635.68 104.35,638.96 105.36,639.31 106.37,633.72 107.39,632.91 108.4,625.71 109.41,635.98 110.43,630.83 111.44,631.11 112.45,627.88 113.47,622.74 114.48,620.27 115.49,605.99 116.51,613.46 117.52,600.35 118.53,615.25 119.55,617.4 120.56,613.91 121.57,612.76 122.59,614.18 123.6,607.26 124.61,609.18 125.63,614.8 126.64,621.81 127.65,620.81 128.67,610.2 129.68,619.93 130.69,632.22 131.71,628.32 132.72,628.24 133.73,615.62 134.75,625.47 135.76,608.06 136.77,620.49 137.79,624.87 138.8,629.47 139.81,619.27 140.83,628.77 141.84,633.53 142.85,621.78 143.87,624.67 144.88,614.53 145.89,622.74 146.91,643.65 147.92,617.43 148.93,639.27 149.95,615.91 150.96,616.65 151.97,636.09 152.99,643.82 154,647.38 155.01,631.82 156.03,640.75 157.04,643.94 158.05,641.48 159.07,624.16 160.08,637.46 161.09,634.67 162.11,634.64 163.12,633.04 164.13,633.02 165.15,646.64 166.16,643.22 167.17,647.63 168.19,647.56 169.2,633.94 170.21,646.59 171.23,643.72 172.24,648.64 173.25,647.48 174.27,636.68 175.28,645.54 176.29,645.41 177.31,636.47 178.32,633.62 179.33,628.62 180.35,631.69 181.36,645.75 182.37,627.42 183.39,628 184.4,623.68 185.41,634.86 186.43,606.71 187.44,632.09 188.45,611.66 189.47,613.59 190.48,616.91 191.49,608 192.51,617.15 193.52,633.48 194.53,625.49 195.55,614.08 196.56,601.49 197.57,630.25 198.59,620.04 199.6,609.81 200.61,616.95 201.63,625.14 202.64,633.8 203.65,637.3 204.67,630.34 205.68,628.28 206.69,642.83 207.71,639.07 208.72,624.47 209.73,630.23 210.75,633.25 211.76,631.05 212.77,634.5 213.79,621.83 214.8,616.89 215.81,612.37 216.83,621.36 217.84,619.82 218.85,613.18 219.87,611.11 220.88,614.41 221.89,618.13 222.91,634.37 223.92,644.52 224.93,628.38 225.95,637.79 226.96,639.27 227.97,646.97 228.99,650.86 230,630.69 231.01,637.88 232.03,649.53 233.04,638.74 234.05,639.53 235.07,638.05 236.08,625.33 237.09,642.63 238.11,652.23 239.12,642.58 240.13,647.96 241.15,639.22 242.16,642.01 243.17,641.23 244.19,648.34 245.2,641.22 246.21,647.69 247.23,639.49 248.24,645.17 249.25,650.85 250.27,637.03 251.28,643.23 252.29,624.2 253.31,630.06 254.32,629.41 255.33,631.69 256.35,632.43 257.36,649.45 258.37,619.43 259.39,631.84 260.4,615.64 261.41,621.87 262.43,614.89 263.44,614.76 264.45,621.71 265.47,616.02 266.48,611.98 267.49,619.41 268.51,626.54 269.52,622.09 270.53,616.64 271.55,610.64 272.56,613.72 273.57,618.58 274.59,628.96 275.6,615.4 276.61,622.78 277.63,625.5 278.64,617.6 279.65,620.15 280.67,621.39 281.68,634.15 282.69,630.44 283.71,639.01 284.72,625.09 285.73,626.69 286.75,620.24 287.76,626.01 288.77,629.05 289.79,609.1 290.8,631.39 291.81,632.38 292.83,626.86 293.84,619.51 294.85,627.84 295.87,630.83 296.88,638.78 297.89,621.78 298.91,639.69 299.92,644.91 300.93,639.18 301.95,645.15 302.96,641.01 303.97,629.4 304.99,642.97 306,640.17 307.01,642.75 308.03,641.6 309.04,634.17 310.05,636.61 311.07,643.45 312.08,648.16 313.09,642.44 314.11,635.45 315.12,642.11 316.13,643.22 317.15,656.12 318.16,635.33 319.17,653.57 320.19,651.56 321.2,644.3 322.21,640.78 323.23,639.06 324.24,642.32 325.25,636.1 326.27,636.68 327.28,645.27 328.29,633.15 329.31,636 330.32,627.19 331.33,628.57 332.35,617.37 333.36,616.52 334.37,609.26 335.39,603.72 336.4,606.88 337.41,614.2 338.43,603.63 339.44,621.65 340.45,615.7 341.47,609.74 342.48,619.14 343.49,612.37 344.51,624.55 345.52,623.35 346.53,615.95 347.55,615.47 348.56,612.59 349.57,622.89 350.59,620.89 351.6,619.19 352.61,620.77 353.63,634.46 354.64,629.33 355.65,614.58 356.67,635.16 357.68,621.47 358.69,629.77 359.71,619.41 360.72,633.19 361.73,625.68 362.75,640 363.76,623.79 364.77,614.11 365.79,633.43 366.8,614.45 367.81,630.53 368.83,627.87" stroke="#f7931e" stroke-width="0.9" fill="none"/>
<path d="M78 620.43V633.62M77.3 620.43H78.7M79.01 629.92V640.76M78.31 629.92H79.71M80.03 612.05V621.4M79.33 612.05H80.73M81.04 632.44V644.93M80.34 632.44H81.74M82.05 633.24V641.63M81.35 633.24H82.75M83.07 621V633.37M82.37 621H83.77M84.08 639.11V653.08M83.38 639.11H84.78M85.09 636.91V650.87M84.39 636.91H85.79M86.11 634.28V642.13M85.41 634.28H86.81M87.12 637.06V647.49M86.42 637.06H87.82M88.13 641.31V656.58M87.43 641.31H88.83M89.15 638.24V645.15M88.45 638.24H89.85M90.16 639.36V646.7M89.46 639.36H90.86M91.17 632.58V639.56M90.47 632.58H91.87M92.19 650.6V656.2M91.49 650.6H92.89M93.2 642.12V650.73M92.5 642.12H93.9M94.21 627.71V637.84M93.51 627.71H94.91M95.23 619.86V635.63M94.53 619.86H95.93M96.24 649.23V657.46M95.54 649.23H96.94M97.25 629.93V644.89M96.55 629.93H97.95M98.27 644.56V655.24M97.57 644.56H98.97M99.28 645.29V653.2M98.58 645.29H99.98M100.29 644.26V653.57M99.59 644.26H100.99M101.31 638.55V651.64M100.61 638.55H102.01M102.32 629.34V638.63M101.62 629.34H103.02M103.33 630.7V640.67M102.63 630.7H104.03M104.35 634.02V643.9M103.65 634.02H105.05M105.36 633.19V645.43M104.66 633.19H106.06M106.37 626.18V641.26M105.67 626.18H107.07M107.39 630.2V635.62M106.69 630.2H108.09M108.4 620.04V631.38M107.7 620.04H109.1M109.41 628.61V643.34M108.71 628.61H110.11M110.43 627.43V634.24M109.73 627.43H111.13M111.44 628.23V633.98M110.74 628.23H112.14M112.45 620.04V635.71M111.75 620.04H113.15M113.47 615.79V629.7M112.77 615.79H114.17M114.48 613.53V627.01M113.78 613.53H115.18M115.49 602.91V609.07M114.79 602.91H116.19M116.51 607.72V619.2M115.81 607.72H117.21M117.52 594.57V606.12M116.82 594.57H118.22M118.53 611.4V619.09M117.83 611.4H119.23M119.55 610.17V624.63M118.85 610.17H120.25M120.56 607.94V619.88M119.86 607.94H121.26M121.57 606.14V619.39M120.87 606.14H122.27M122.59 606.37V621.98M121.89 606.37H123.29M123.6 601.33V613.19M122.9 601.33H124.3M124.61 602.38V615.98M123.91 602.38H125.31M125.63 610.87V618.73M124.93 610.87H126.33M126.64 618.13V625.49M125.94 618.13H127.34M127.65 617.43V624.19M126.95 617.43H128.35M128.67 604.64V615.75M127.97 604.64H129.37M129.68 616.48V623.38M128.98 616.48H130.38M130.69 628.29V636.14M129.99 628.29H131.39M131.71 622.52V634.11M131.01 622.52H132.41M132.72 621.49V634.99M132.02 621.49H133.42M133.73 607.82V623.42M133.03 607.82H134.43M134.75 618.08V632.86M134.05 618.08H135.45M135.76 601.23V614.88M135.06 601.23H136.46M136.77 614.29V626.69M136.07 614.29H137.47M137.79 618.55V631.19M137.09 618.55H138.49M138.8 623.63V635.31M138.1 623.63H139.5M139.81 616.58V621.96M139.11 616.58H140.51M140.83 621.86V635.67M140.13 621.86H141.53M141.84 628.88V638.19M141.14 628.88H142.54M142.85 614.82V628.74M142.15 614.82H143.55M143.87 616.67V632.66M143.17 616.67H144.57M144.88 610.05V619.02M144.18 610.05H145.58M145.89 615.05V630.43M145.19 615.05H146.59M146.91 636.82V650.47M146.21 636.82H147.61M147.92 613.27V621.59M147.22 613.27H148.62M148.93 634.91V643.63M148.23 634.91H149.63M149.95 608.65V623.18M149.25 608.65H150.65M150.96 613.2V620.11M150.26 613.2H151.66M151.97 629.1V643.09M151.27 629.1H152.67M152.99 639.9V647.73M152.29 639.9H153.69M154 643.24V651.53M153.3 643.24H154.7M155.01 625.37V638.26M154.31 625.37H155.71M156.03 633.27V648.23M155.33 633.27H156.73M157.04 637.2V650.67M156.34 637.2H157.74M158.05 633.96V649M157.35 633.96H158.75M159.07 616.63V631.68M158.37 616.63H159.77M160.08 631.92V643M159.38 631.92H160.78M161.09 628.76V640.57M160.39 628.76H161.79M162.11 630.33V638.95M161.41 630.33H162.81M163.12 627.99V638.08M162.42 627.99H163.82M164.13 629.56V636.47M163.43 629.56H164.83M165.15 640.64V652.64M164.45 640.64H165.85M166.16 635.25V651.19M165.46 635.25H166.86M167.17 644.13V651.13M166.47 644.13H167.87M168.19 641.22V653.91M167.49 641.22H168.89M169.2 628.02V639.85M168.5 628.02H169.9M170.21 640.39V652.8M169.51 640.39H170.91M171.23 636.57V650.87M170.53 636.57H171.93M172.24 641.97V655.31M171.54 641.97H172.94M173.25 643.31V651.65M172.55 643.31H173.95M174.27 631.58V641.79M173.57 631.58H174.97M175.28 639.75V651.34M174.58 639.75H175.98M176.29 641.4V649.42M175.59 641.4H176.99M177.31 630.96V641.98M176.61 630.96H178.01M178.32 628.49V638.75M177.62 628.49H179.02M179.33 621.99V635.26M178.63 621.99H180.03M180.35 628.69V634.69M179.65 628.69H181.05M181.36 641.92V649.58M180.66 641.92H182.06M182.37 624.45V630.38M181.67 624.45H183.07M183.39 624.5V631.49M182.69 624.5H184.09M184.4 617.45V629.91M183.7 617.45H185.1M185.41 630.75V638.97M184.71 630.75H186.11M186.43 601.77V611.65M185.73 601.77H187.13M187.44 624.26V639.93M186.74 624.26H188.14M188.45 607.06V616.27M187.75 607.06H189.15M189.47 609.14V618.05M188.77 609.14H190.17M190.48 610.68V623.15M189.78 610.68H191.18M191.49 604.08V611.93M190.79 604.08H192.19M192.51 609.31V624.98M191.81 609.31H193.21M193.52 627.7V639.26M192.82 627.7H194.22M194.53 618.16V632.83M193.83 618.16H195.23M195.55 607.83V620.33M194.85 607.83H196.25M196.56 598.65V604.33M195.86 598.65H197.26M197.57 622.73V637.78M196.87 622.73H198.27M198.59 617.25V622.84M197.89 617.25H199.29M199.6 603.33V616.29M198.9 603.33H200.3M200.61 611.36V622.54M199.91 611.36H201.31M201.63 619.13V631.15M200.93 619.13H202.33M202.64 627.28V640.33M201.94 627.28H203.34M203.65 632.61V642M202.95 632.61H204.35M204.67 627.18V633.49M203.97 627.18H205.37M205.68 622.09V634.47M204.98 622.09H206.38M206.69 635.5V650.17M205.99 635.5H207.39M207.71 632.77V645.37M207.01 632.77H208.41M208.72 619.49V629.44M208.02 619.49H209.42M209.73 624.73V635.74M209.03 624.73H210.43M210.75 627.27V639.22M210.05 627.27H211.45M211.76 625.58V636.51M211.06 625.58H212.46M212.77 631.74V637.27M212.07 631.74H213.47M213.79 618.23V625.43M213.09 618.23H214.49M214.8 613.8V619.98M214.1 613.8H215.5M215.81 608.13V616.61M215.11 608.13H216.51M216.83 616.97V625.76M216.13 616.97H217.53M217.84 615.86V623.79M217.14 615.86H218.54M218.85 605.66V620.71M218.15 605.66H219.55M219.87 604.41V617.8M219.17 604.41H220.57M220.88 611.67V617.15M220.18 611.67H221.58M221.89 614.39V621.87M221.19 614.39H222.59M222.91 626.59V642.15M222.21 626.59H223.61M223.92 638.9V650.15M223.22 638.9H224.62M224.93 622.92V633.83M224.23 622.92H225.63M225.95 632.3V643.29M225.25 632.3H226.65M226.96 631.37V647.16M226.26 631.37H227.66M227.97 639.27V654.67M227.27 639.27H228.67M228.99 644.54V657.18M228.29 644.54H229.69M230 625.09V636.28M229.3 625.09H230.7M231.01 631.01V644.76M230.31 631.01H231.71M232.03 645.44V653.63M231.33 645.44H232.73M233.04 632.2V645.28M232.34 632.2H233.74M234.05 634.49V644.56M233.35 634.49H234.75M235.07 634.86V641.25M234.37 634.86H235.77M236.08 621.13V629.54M235.38 621.13H236.78M237.09 635.93V649.33M236.39 635.93H237.79M238.11 647.63V656.84M237.41 647.63H238.81M239.12 636.01V649.16M238.42 636.01H239.82M240.13 642.27V653.65M239.43 642.27H240.83M241.15 631.23V647.22M240.45 631.23H241.85M242.16 637.17V646.85M241.46 637.17H242.86M243.17 634.86V647.61M242.47 634.86H243.87M244.19 643.53V653.16M243.49 643.53H244.89M245.2 638.06V644.37M244.5 638.06H245.9M246.21 640.45V654.93M245.51 640.45H246.91M247.23 636.76V642.23M246.53 636.76H247.93M248.24 638.44V651.91M247.54 638.44H248.94M249.25 644.04V657.65M248.55 644.04H249.95M250.27 632.56V641.49M249.57 632.56H250.97M251.28 639.31V647.15M250.58 639.31H251.98M252.29 618.12V630.29M251.59 618.12H252.99M253.31 625.17V634.96M252.61 625.17H254.01M254.32 622.22V636.6M253.62 622.22H255.02M255.33 625.05V638.33M254.63 625.05H256.03M256.35 626.93V637.93M255.65 626.93H257.05M257.36 644.98V653.92M256.66 644.98H258.06M258.37 612.04V626.81M257.67 612.04H259.07M259.39 626.78V636.9M258.69 626.78H260.09M260.4 609.67V621.61M259.7 609.67H261.1M261.41 617.12V626.62M260.71 617.12H262.11M262.43 608.14V621.65M261.73 608.14H263.13M263.44 607.91V621.61M262.74 607.91H264.14M264.45 615.74V627.68M263.75 615.74H265.15M265.47 610.96V621.08M264.77 610.96H266.17M266.48 604.77V619.19M265.78 604.77H267.18M267.49 612.44V626.39M266.79 612.44H268.19M268.51 622.62V630.47M267.81 622.62H269.21M269.52 614.5V629.68M268.82 614.5H270.22M270.53 609.46V623.82M269.83 609.46H271.23M271.55 603.48V617.79M270.85 603.48H272.25M272.56 607.56V619.87M271.86 607.56H273.26M273.57 611.82V625.33M272.87 611.82H274.27M274.59 622.25V635.68M273.89 622.25H275.29M275.6 612.03V618.77M274.9 612.03H276.3M276.61 618.1V627.45M275.91 618.1H277.31M277.63 618.43V632.58M276.93 618.43H278.33M278.64 610.46V624.73M277.94 610.46H279.34M279.65 614.66V625.63M278.95 614.66H280.35M280.67 617.16V625.62M279.97 617.16H281.37M281.68 626.69V641.61M280.98 626.69H282.38M282.69 627.12V633.76M281.99 627.12H283.39M283.71 636V642.02M283.01 636H284.41M284.72 618.32V631.86M284.02 618.32H285.42M285.73 620.37V633.01M285.03 620.37H286.43M286.75 614.06V626.43M286.05 614.06H287.45M287.76 618.64V633.38M287.06 618.64H288.46M288.77 624.02V634.09M288.07 624.02H289.47M289.79 603.16V615.03M289.09 603.16H290.49M290.8 624.2V638.59M290.1 624.2H291.5M291.81 625.87V638.89M291.11 625.87H292.51M292.83 618.88V634.84M292.13 618.88H293.53M293.84 612.56V626.46M293.14 612.56H294.54M294.85 623.82V631.86M294.15 623.82H295.55M295.87 627.11V634.54M295.17 627.11H296.57M296.88 630.94V646.61M296.18 630.94H297.58M297.89 614.54V629.02M297.19 614.54H298.59M298.91 631.95V647.42M298.21 631.95H299.61M299.92 640.95V648.88M299.22 640.95H300.62M300.93 632.71V645.64M300.23 632.71H301.63M301.95 641.96V648.35M301.25 641.96H302.65M302.96 633.23V648.78M302.26 633.23H303.66M303.97 623.9V634.9M303.27 623.9H304.67M304.99 638.14V647.81M304.29 638.14H305.69M306 633.3V647.05M305.3 633.3H306.7M307.01 635.1V650.4M306.31 635.1H307.71M308.03 635.26V647.94M307.33 635.26H308.73M309.04 630.76V637.58M308.34 630.76H309.74M310.05 633.75V639.47M309.35 633.75H310.75M311.07 635.59V651.31M310.37 635.59H311.77M312.08 641.74V654.58M311.38 641.74H312.78M313.09 637.15V647.74M312.39 637.15H313.79M314.11 631.2V639.7M313.41 631.2H314.81M315.12 637.24V646.98M314.42 637.24H315.82M316.13 638.95V647.48M315.43 638.95H316.83M317.15 649.5V662.74M316.45 649.5H317.85M318.16 630.97V639.69M317.46 630.97H318.86M319.17 649.84V657.3M318.47 649.84H319.87M320.19 647.7V655.42M319.49 647.7H320.89M321.2 639.35V649.26M320.5 639.35H321.9M322.21 633.12V648.43M321.51 633.12H322.91M323.23 632.91V645.22M322.53 632.91H323.93M324.24 637.92V646.71M323.54 637.92H324.94M325.25 631.38V640.82M324.55 631.38H325.95M326.27 629.35V644M325.57 629.35H326.97M327.28 640.38V650.17M326.58 640.38H327.98M328.29 628.89V637.41M327.59 628.89H328.99M329.31 629.63V642.38M328.61 629.63H330.01M330.32 622.42V631.97M329.62 622.42H331.02M331.33 621.75V635.39M330.63 621.75H332.03M332.35 613.44V621.3M331.65 613.44H333.05M333.36 610.74V622.3M332.66 610.74H334.06M334.37 602.12V616.41M333.67 602.12H335.07M335.39 596.56V610.87M334.69 596.56H336.09M336.4 603.8V609.95M335.7 603.8H337.1M337.41 611.51V616.89M336.71 611.51H338.11M338.43 600.75V606.52M337.73 600.75H339.13M339.44 614.55V628.74M338.74 614.55H340.14M340.45 609.92V621.49M339.75 609.92H341.15M341.47 605.51V613.98M340.77 605.51H342.17M342.48 613.2V625.07M341.78 613.2H343.18M343.49 607.8V616.94M342.79 607.8H344.19M344.51 616.57V632.54M343.81 616.57H345.21M345.52 618.53V628.16M344.82 618.53H346.22M346.53 610.33V621.57M345.83 610.33H347.23M347.55 608.59V622.35M346.85 608.59H348.25M348.56 608.61V616.57M347.86 608.61H349.26M349.57 617.11V628.66M348.87 617.11H350.27M350.59 616.28V625.5M349.89 616.28H351.29M351.6 613.92V624.47M350.9 613.92H352.3M352.61 614.56V626.98M351.91 614.56H353.31M353.63 628.7V640.22M352.93 628.7H354.33M354.64 624.42V634.25M353.94 624.42H355.34M355.65 610.27V618.89M354.95 610.27H356.35M356.67 630.61V639.72M355.97 630.61H357.37M357.68 616.87V626.06M356.98 616.87H358.38M358.69 625.91V633.64M357.99 625.91H359.39M359.71 613.11V625.72M359.01 613.11H360.41M360.72 628.21V638.16M360.02 628.21H361.42M361.73 621.11V630.26M361.03 621.11H362.43M362.75 635.09V644.91M362.05 635.09H363.45M363.76 618.8V628.78M363.06 618.8H364.46M364.77 609.88V618.33M364.07 609.88H365.47M365.79 628.64V638.22M365.09 628.64H366.49M366.8 608.48V620.42M366.1 608.48H367.5M367.81 623.06V638M367.11 623.06H368.51M368.83 623.63V632.11M368.13 623.63H369.53" stroke="#f7931e" stroke-width="0.6" stroke-opacity="0.95" fill="none"/>
<polyline points="78,640.06 79.01,642.27 80.03,646.32 81.04,651.93 82.05,643.82 83.07,637.29 84.08,650.11 85.09,640.9 86.11,651.64 87.12,651.88 88.13,650.33 89.15,651.93 90.16,645.23 91.17,644.46 92.19,664.77 93.2,646.8 94.21,649.3 95.23,642.25 96.24,656.72 97.25,651.44 98.27,645.82 99.28,647.79 100.29,643.88 101.31,655.87 102.32,654.8 103.33,647.52 104.35,656.42 105.36,643.76 106.37,638.27 107.39,639.78 108.4,648.43 109.41,643.8 110.43,641.93 111.44,637.5 112.45,637 113.47,639.24 114.48,644.56 115.49,641.05 116.51,634.89 117.52,635.77 118.53,634.34 119.55,637.47 120.56,633.23 121.57,636.33 122.59,632.64 123.6,634.36 124.61,631.78 125.63,640.79 126.64,641.01 127.65,642.85 128.67,637 129.68,634.19 130.69,632.53 131.71,638.47 132.72,640.74 133.73,636.25 134.75,640.74 135.76,646.09 136.77,636.95 137.79,643.45 138.8,649.38 139.81,642.67 140.83,646.36 141.84,642.37 142.85,644.59 143.87,641.04 144.88,641.13 145.89,637.09 146.91,633.17 147.92,636.02 148.93,638.41 149.95,634.52 150.96,649.47 151.97,643.44 152.99,639.88 154,644.62 155.01,643.04 156.03,654.87 157.04,643.92 158.05,654.01 159.07,644.35 160.08,649.23 161.09,646.15 162.11,655.13 163.12,652.27 164.13,661.25 165.15,649.69 166.16,647.89 167.17,650.12 168.19,646.28 169.2,649.31 170.21,652.1 171.23,650.07 172.24,656.23 173.25,647.88 174.27,650.9 175.28,650.13 176.29,652.2 177.31,652.92 178.32,652.07 179.33,645.62 180.35,638.65 181.36,651.51 182.37,640.93 183.39,622.05 184.4,639.41 185.41,639.94 186.43,635.59 187.44,636.97 188.45,631.38 189.47,629.3 190.48,636.16 191.49,625.17 192.51,631.17 193.52,627.09 194.53,632.8 195.55,628.64 196.56,634.69 197.57,619.34 198.59,630.1 199.6,629.8 200.61,637.85 201.63,646.39 202.64,640.5 203.65,636.71 204.67,639.38 205.68,643.8 206.69,645.04 207.71,647.9 208.72,644.06 209.73,638.57 210.75,638.67 211.76,639.08 212.77,643.8 213.79,642.07 214.8,643.44 215.81,639.72 216.83,639.08 217.84,635.97 218.85,638.55 219.87,638.15 220.88,631.46 221.89,633.17 222.91,652.9 223.92,642.06 224.93,644.22 225.95,643.43 226.96,660.69 227.97,659.78 228.99,653.93 230,651.27 231.01,658.03 232.03,646.16 233.04,646.83 234.05,648.94 235.07,648.09 236.08,658.78 237.09,653.65 238.11,665.44 239.12,648.12 240.13,647.44 241.15,651.62 242.16,659.24 243.17,653.96 244.19,649.26 245.2,661.08 246.21,652.85 247.23,649.74 248.24,657.06 249.25,655.47 250.27,644.49 251.28,643.85 252.29,637.44 253.31,641.82 254.32,647.85 255.33,642.47 256.35,644.99 257.36,642.52 258.37,637.14 259.39,630.24 260.4,635.89 261.41,622.5 262.43,637.49 263.44,632.21 264.45,631.73 265.47,643.77 266.48,641.82 267.49,635.6 268.51,633.83 269.52,632.73 270.53,635.19 271.55,637.8 272.56,644.03 273.57,637.15 274.59,629.5 275.6,636.23 276.61,642.83 277.63,639.04 278.64,638.1 279.65,633.92 280.67,643.66 281.68,638.32 282.69,638.21 283.71,642.98 284.72,642.1 285.73,644.02 286.75,641.66 287.76,640.81 288.77,647.16 289.79,640.05 290.8,629.77 291.81,636.41 292.83,646.02 293.84,629.51 294.85,639.45 295.87,638.91 296.88,639.11 297.89,646.18 298.91,651.25 299.92,651.15 300.93,647.31 301.95,649.57 302.96,651.16 303.97,638.48 304.99,648.61 306,644.97 307.01,638.98 308.03,649.6 309.04,652.58 310.05,652.05 311.07,650.27 312.08,641.65 313.09,645.73 314.11,652.71 315.12,654.85 316.13,648.09 317.15,642.71 318.16,655.63 319.17,643.59 320.19,649.85 321.2,650.98 322.21,651.89 323.23,652.46 324.24,648.49 325.25,636.6 326.27,648.93 327.28,643.32 328.29,640.77 329.31,646.13 330.32,642.17 331.33,645.68 332.35,633.46 333.36,631.94 334.37,638.37 335.39,621.84 336.4,635.37 337.41,640.87 338.43,640.91 339.44,629.85 340.45,645.38 341.47,634.11 342.48,632.97 343.49,629.65 344.51,637.28 345.52,629.97 346.53,638.94 347.55,632.55 348.56,643.22 349.57,637.07 350.59,640.96 351.6,638.97 352.61,628.43 353.63,640.39 354.64,640.37 355.65,640.16 356.67,639.33 357.68,653.03 358.69,637.64 359.71,649.01 360.72,652.75 361.73,640.08 362.75,645.78 363.76,636.54 364.77,630.48 365.79,636.07 366.8,642.61 367.81,637.79 368.83,629.08" stroke="#9a1fd0" stroke-width="0.9" fill="none"/>
<path d="M78 636.34V643.78M77.3 636.34H78.7M79.01 638.74V645.81M78.31 638.74H79.71M80.03 643.46V649.18M79.33 643.46H80.73M81.04 644.42V659.44M80.34 644.42H81.74M82.05 637.43V650.21M81.35 637.43H82.75M83.07 634.19V640.4M82.37 634.19H83.77M84.08 643.54V656.69M83.38 643.54H84.78M85.09 636.32V645.48M84.39 636.32H85.79M86.11 645.9V657.38M85.41 645.9H86.81M87.12 647.35V656.41M86.42 647.35H87.82M88.13 645.12V655.54M87.43 645.12H88.83M89.15 644.43V659.43M88.45 644.43H89.85M90.16 638.11V652.36M89.46 638.11H90.86M91.17 639.73V649.18M90.47 639.73H91.87M92.19 659.99V669.56M91.49 659.99H92.89M93.2 643.31V650.29M92.5 643.31H93.9M94.21 643.56V655.03M93.51 643.56H94.91M95.23 638.95V645.55M94.53 638.95H95.93M96.24 649.31V664.13M95.54 649.31H96.94M97.25 644.1V658.77M96.55 644.1H97.95M98.27 638.71V652.92M97.57 638.71H98.97M99.28 644.95V650.62M98.58 644.95H99.98M100.29 639.58V648.17M99.59 639.58H100.99M101.31 651.96V659.77M100.61 651.96H102.01M102.32 649.91V659.7M101.62 649.91H103.02M103.33 639.74V655.31M102.63 639.74H104.03M104.35 649.56V663.28M103.65 649.56H105.05M105.36 638.24V649.29M104.66 638.24H106.06M106.37 630.25V646.29M105.67 630.25H107.07M107.39 636.77V642.8M106.69 636.77H108.09M108.4 643.31V653.55M107.7 643.31H109.1M109.41 639.23V648.37M108.71 639.23H110.11M110.43 634.84V649.02M109.73 634.84H111.13M111.44 632.21V642.8M110.74 632.21H112.14M112.45 631.95V642.05M111.75 631.95H113.15M113.47 635.76V642.73M112.77 635.76H114.17M114.48 637.61V651.5M113.78 637.61H115.18M115.49 633.19V648.91M114.79 633.19H116.19M116.51 627.98V641.79M115.81 627.98H117.21M117.52 627.85V643.7M116.82 627.85H118.22M118.53 630.67V638.02M117.83 630.67H119.23M119.55 631.41V643.52M118.85 631.41H120.25M120.56 628.17V638.28M119.86 628.17H121.26M121.57 633.45V639.21M120.87 633.45H122.27M122.59 625.77V639.51M121.89 625.77H123.29M123.6 630.73V637.98M122.9 630.73H124.3M124.61 624.12V639.43M123.91 624.12H125.31M125.63 636.9V644.68M124.93 636.9H126.33M126.64 636.93V645.1M125.94 636.93H127.34M127.65 634.95V650.74M126.95 634.95H128.35M128.67 632.68V641.32M127.97 632.68H129.37M129.68 626.95V641.43M128.98 626.95H130.38M130.69 625.87V639.2M129.99 625.87H131.39M131.71 631.13V645.8M131.01 631.13H132.41M132.72 637.67V643.81M132.02 637.67H133.42M133.73 631.03V641.47M133.03 631.03H134.43M134.75 635.98V645.49M134.05 635.98H135.45M135.76 639.87V652.31M135.06 639.87H136.46M136.77 629.39V644.52M136.07 629.39H137.47M137.79 637.51V649.39M137.09 637.51H138.49M138.8 642.22V656.55M138.1 642.22H139.5M139.81 635.24V650.1M139.11 635.24H140.51M140.83 641.12V651.61M140.13 641.12H141.53M141.84 637.44V647.3M141.14 637.44H142.54M142.85 639.35V649.83M142.15 639.35H143.55M143.87 636.7V645.37M143.17 636.7H144.57M144.88 637.44V644.81M144.18 637.44H145.58M145.89 630.39V643.79M145.19 630.39H146.59M146.91 625.4V640.93M146.21 625.4H147.61M147.92 630.58V641.46M147.22 630.58H148.62M148.93 633.92V642.9M148.23 633.92H149.63M149.95 631.23V637.82M149.25 631.23H150.65M150.96 643.35V655.6M150.26 643.35H151.66M151.97 639.81V647.08M151.27 639.81H152.67M152.99 632.96V646.79M152.29 632.96H153.69M154 639.58V649.65M153.3 639.58H154.7M155.01 638.56V647.52M154.31 638.56H155.71M156.03 648.72V661.03M155.33 648.72H156.73M157.04 636.54V651.3M156.34 636.54H157.74M158.05 646.93V661.09M157.35 646.93H158.75M159.07 636.57V652.13M158.37 636.57H159.77M160.08 642.9V655.55M159.38 642.9H160.78M161.09 638.72V653.57M160.39 638.72H161.79M162.11 650.29V659.97M161.41 650.29H162.81M163.12 645.67V658.86M162.42 645.67H163.82M164.13 653.9V668.61M163.43 653.9H164.83M165.15 646.75V652.62M164.45 646.75H165.85M166.16 641.23V654.55M165.46 641.23H166.86M167.17 643.14V657.09M166.47 643.14H167.87M168.19 641.72V650.84M167.49 641.72H168.89M169.2 644.89V653.72M168.5 644.89H169.9M170.21 644.14V660.06M169.51 644.14H170.91M171.23 643.97V656.18M170.53 643.97H171.93M172.24 651.89V660.56M171.54 651.89H172.94M173.25 644.19V651.57M172.55 644.19H173.95M174.27 644.36V657.45M173.57 644.36H174.97M175.28 646.94V653.32M174.58 646.94H175.98M176.29 648.87V655.54M175.59 648.87H176.99M177.31 646.91V658.93M176.61 646.91H178.01M178.32 646.58V657.56M177.62 646.58H179.02M179.33 642.7V648.55M178.63 642.7H180.03M180.35 633.14V644.15M179.65 633.14H181.05M181.36 643.81V659.21M180.66 643.81H182.06M182.37 634.82V647.03M181.67 634.82H183.07M183.39 615.04V629.05M182.69 615.04H184.09M184.4 631.87V646.95M183.7 631.87H185.1M185.41 634.7V645.19M184.71 634.7H186.11M186.43 629V642.19M185.73 629H187.13M187.44 631.16V642.79M186.74 631.16H188.14M188.45 623.96V638.8M187.75 623.96H189.15M189.47 623.36V635.24M188.77 623.36H190.17M190.48 629.13V643.19M189.78 629.13H191.18M191.49 618.7V631.64M190.79 618.7H192.19M192.51 627.27V635.08M191.81 627.27H193.21M193.52 622.03V632.14M192.82 622.03H194.22M194.53 625.52V640.08M193.83 625.52H195.23M195.55 623.57V633.72M194.85 623.57H196.25M196.56 630V639.38M195.86 630H197.26M197.57 611.6V627.08M196.87 611.6H198.27M198.59 624.61V635.6M197.89 624.61H199.29M199.6 622.68V636.91M198.9 622.68H200.3M200.61 633.35V642.34M199.91 633.35H201.31M201.63 642.5V650.28M200.93 642.5H202.33M202.64 635.69V645.31M201.94 635.69H203.34M203.65 633.25V640.16M202.95 633.25H204.35M204.67 632.76V645.99M203.97 632.76H205.37M205.68 637.6V650M204.98 637.6H206.38M206.69 638.67V651.41M205.99 638.67H207.39M207.71 644.57V651.23M207.01 644.57H208.41M208.72 636.01V652.1M208.02 636.01H209.42M209.73 631.6V645.54M209.03 631.6H210.43M210.75 630.7V646.64M210.05 630.7H211.45M211.76 635.68V642.48M211.06 635.68H212.46M212.77 639.7V647.9M212.07 639.7H213.47M213.79 634.81V649.33M213.09 634.81H214.49M214.8 637.71V649.17M214.1 637.71H215.5M215.81 636.21V643.24M215.11 636.21H216.51M216.83 631.8V646.36M216.13 631.8H217.53M217.84 629.65V642.29M217.14 629.65H218.54M218.85 631.65V645.45M218.15 631.65H219.55M219.87 634.29V642.01M219.17 634.29H220.57M220.88 627.64V635.29M220.18 627.64H221.58M221.89 625.29V641.04M221.19 625.29H222.59M222.91 649.85V655.96M222.21 649.85H223.61M223.92 636.78V647.34M223.22 636.78H224.62M224.93 639.65V648.79M224.23 639.65H225.63M225.95 636.17V650.7M225.25 636.17H226.65M226.96 656.88V664.5M226.26 656.88H227.66M227.97 655.62V663.94M227.27 655.62H228.67M228.99 650.49V657.38M228.29 650.49H229.69M230 647.82V654.73M229.3 647.82H230.7M231.01 654.1V661.96M230.31 654.1H231.71M232.03 643.41V648.91M231.33 643.41H232.73M233.04 643.03V650.63M232.34 643.03H233.74M234.05 645.68V652.19M233.35 645.68H234.75M235.07 643.83V652.35M234.37 643.83H235.77M236.08 653.7V663.86M235.38 653.7H236.78M237.09 646.39V660.91M236.39 646.39H237.79M238.11 658.38V672.5M237.41 658.38H238.81M239.12 640.87V655.37M238.42 640.87H239.82M240.13 642.71V652.17M239.43 642.71H240.83M241.15 646.58V656.65M240.45 646.58H241.85M242.16 655.93V662.55M241.46 655.93H242.86M243.17 646.66V661.25M242.47 646.66H243.87M244.19 641.59V656.94M243.49 641.59H244.89M245.2 657.15V665.01M244.5 657.15H245.9M246.21 649.14V656.56M245.51 649.14H246.91M247.23 646.74V652.73M246.53 646.74H247.93M248.24 653.21V660.91M247.54 653.21H248.94M249.25 647.62V663.31M248.55 647.62H249.95M250.27 637.02V651.96M249.57 637.02H250.97M251.28 640.22V647.49M250.58 640.22H251.98M252.29 632.65V642.24M251.59 632.65H252.99M253.31 638.17V645.48M252.61 638.17H254.01M254.32 644.1V651.6M253.62 644.1H255.02M255.33 637.16V647.79M254.63 637.16H256.03M256.35 642.04V647.94M255.65 642.04H257.05M257.36 635.47V649.57M256.66 635.47H258.06M258.37 633.11V641.17M257.67 633.11H259.07M259.39 622.91V637.58M258.69 622.91H260.09M260.4 631.98V639.81M259.7 631.98H261.1M261.41 616.02V628.97M260.71 616.02H262.11M262.43 632.07V642.9M261.73 632.07H263.13M263.44 627.14V637.29M262.74 627.14H264.14M264.45 625.58V637.88M263.75 625.58H265.15M265.47 638.26V649.28M264.77 638.26H266.17M266.48 633.81V649.83M265.78 633.81H267.18M267.49 630.01V641.19M266.79 630.01H268.19M268.51 628.62V639.05M267.81 628.62H269.21M269.52 627.27V638.19M268.82 627.27H270.22M270.53 631.72V638.66M269.83 631.72H271.23M271.55 630.46V645.15M270.85 630.46H272.25M272.56 640.83V647.23M271.86 640.83H273.26M273.57 634.24V640.06M272.87 634.24H274.27M274.59 624.56V634.43M273.89 624.56H275.29M275.6 631.19V641.27M274.9 631.19H276.3M276.61 634.87V650.8M275.91 634.87H277.31M277.63 635V643.08M276.93 635H278.33M278.64 634.77V641.42M277.94 634.77H279.34M279.65 627V640.85M278.95 627H280.35M280.67 639.52V647.79M279.97 639.52H281.37M281.68 632.63V644.01M280.98 632.63H282.38M282.69 633.26V643.17M281.99 633.26H283.39M283.71 639.81V646.15M283.01 639.81H284.41M284.72 638.75V645.45M284.02 638.75H285.42M285.73 640.12V647.91M285.03 640.12H286.43M286.75 637.54V645.78M286.05 637.54H287.45M287.76 634.13V647.49M287.06 634.13H288.46M288.77 643.37V650.96M288.07 643.37H289.47M289.79 636.19V643.9M289.09 636.19H290.49M290.8 626.06V633.47M290.1 626.06H291.5M291.81 630.38V642.44M291.11 630.38H292.51M292.83 641.58V650.45M292.13 641.58H293.53M293.84 625.13V633.89M293.14 625.13H294.54M294.85 635.78V643.12M294.15 635.78H295.55M295.87 635.86V641.96M295.17 635.86H296.57M296.88 636.17V642.06M296.18 636.17H297.58M297.89 638.32V654.04M297.19 638.32H298.59M298.91 648.23V654.26M298.21 648.23H299.61M299.92 647.14V655.17M299.22 647.14H300.62M300.93 640.23V654.39M300.23 640.23H301.63M301.95 646.31V652.83M301.25 646.31H302.65M302.96 646.03V656.29M302.26 646.03H303.66M303.97 634.22V642.74M303.27 634.22H304.67M304.99 643.83V653.38M304.29 643.83H305.69M306 639.82V650.12M305.3 639.82H306.7M307.01 634.09V643.87M306.31 634.09H307.71M308.03 646.5V652.71M307.33 646.5H308.73M309.04 647.57V657.59M308.34 647.57H309.74M310.05 645.07V659.02M309.35 645.07H310.75M311.07 644.92V655.63M310.37 644.92H311.77M312.08 634.35V648.95M311.38 634.35H312.78M313.09 642.75V648.72M312.39 642.75H313.79M314.11 649.06V656.35M313.41 649.06H314.81M315.12 651.94V657.76M314.42 651.94H315.82M316.13 644.82V651.36M315.43 644.82H316.83M317.15 638.27V647.14M316.45 638.27H317.85M318.16 649.52V661.74M317.46 649.52H318.86M319.17 640.71V646.48M318.47 640.71H319.87M320.19 641.85V657.85M319.49 641.85H320.89M321.2 645.98V655.99M320.5 645.98H321.9M322.21 647.85V655.92M321.51 647.85H322.91M323.23 647.86V657.06M322.53 647.86H323.93M324.24 645.49V651.48M323.54 645.49H324.94M325.25 632.86V640.33M324.55 632.86H325.95M326.27 643.26V654.6M325.57 643.26H326.97M327.28 640.28V646.35M326.58 640.28H327.98M328.29 635.35V646.2M327.59 635.35H328.99M329.31 641.01V651.26M328.61 641.01H330.01M330.32 635.65V648.7M329.62 635.65H331.02M331.33 638.28V653.08M330.63 638.28H332.03M332.35 625.83V641.1M331.65 625.83H333.05M333.36 625.37V638.51M332.66 625.37H334.06M334.37 633.48V643.25M333.67 633.48H335.07M335.39 616.01V627.67M334.69 616.01H336.09M336.4 630.54V640.2M335.7 630.54H337.1M337.41 637.8V643.94M336.71 637.8H338.11M338.43 634.7V647.12M337.73 634.7H339.13M339.44 624.98V634.73M338.74 624.98H340.14M340.45 642.44V648.32M339.75 642.44H341.15M341.47 630.9V637.32M340.77 630.9H342.17M342.48 627.16V638.79M341.78 627.16H343.18M343.49 622.16V637.15M342.79 622.16H344.19M344.51 629.86V644.7M343.81 629.86H345.21M345.52 622.35V637.6M344.82 622.35H346.22M346.53 632.66V645.21M345.83 632.66H347.23M347.55 625.55V639.56M346.85 625.55H348.25M348.56 637.98V648.45M347.86 637.98H349.26M349.57 630.05V644.09M348.87 630.05H350.27M350.59 632.97V648.95M349.89 632.97H351.29M351.6 633.6V644.33M350.9 633.6H352.3M352.61 625.09V631.77M351.91 625.09H353.31M353.63 634.22V646.57M352.93 634.22H354.33M354.64 632.98V647.75M353.94 632.98H355.34M355.65 634.05V646.27M354.95 634.05H356.35M356.67 632.77V645.89M355.97 632.77H357.37M357.68 646.84V659.21M356.98 646.84H358.38M358.69 634.84V640.43M357.99 634.84H359.39M359.71 645.81V652.21M359.01 645.81H360.41M360.72 645.27V660.23M360.02 645.27H361.42M361.73 632.03V648.12M361.03 632.03H362.43M362.75 638.66V652.91M362.05 638.66H363.45M363.76 630.26V642.82M363.06 630.26H364.46M364.77 625.92V635.04M364.07 625.92H365.47M365.79 632.25V639.89M365.09 632.25H366.49M366.8 634.67V650.54M366.1 634.67H367.5M367.81 630.87V644.71M367.11 630.87H368.51M368.83 624.69V633.46M368.13 624.69H369.53" stroke="#9a1fd0" stroke-width="0.6" stroke-opacity="0.95" fill="none"/>
<polyline points="78,639.54 79.01,638.73 80.03,643.5 81.04,647.25 82.05,641.48 83.07,647.35 84.08,645.7 85.09,643.4 86.11,643.73 87.12,656.31 88.13,647.59 89.15,653.62 90.16,660.46 91.17,648.38 92.19,659.49 93.2,652.9 94.21,664.11 95.23,656.35 96.24,653.63 97.25,651.39 98.27,654.49 99.28,656.79 100.29,656.19 101.31,642.64 102.32,652.92 103.33,650.44 104.35,638.13 105.36,654.74 106.37,653.63 107.39,646.34 108.4,642.5 109.41,646.05 110.43,639.65 111.44,639.42 112.45,645.84 113.47,635.21 114.48,642.36 115.49,626.6 116.51,627.38 117.52,617.53 118.53,625.58 119.55,631.84 120.56,629.61 121.57,631.3 122.59,636.69 123.6,641.14 124.61,628.06 125.63,626.43 126.64,637.71 127.65,637.23 128.67,639.07 129.68,631.67 130.69,631.22 131.71,643.03 132.72,640.8 133.73,642.09 134.75,638.3 135.76,635.56 136.77,634.18 137.79,641.64 138.8,645.69 139.81,637.74 140.83,637.68 141.84,642.99 142.85,638.77 143.87,636.32 144.88,632.08 145.89,634.99 146.91,632.58 147.92,635.3 148.93,642.53 149.95,635.17 150.96,640.56 151.97,637.61 152.99,651.46 154,650.32 155.01,646.26 156.03,658.04 157.04,649.72 158.05,651.58 159.07,651.57 160.08,650.87 161.09,661.66 162.11,649.64 163.12,649.64 164.13,644.67 165.15,642.82 166.16,648.94 167.17,646.14 168.19,664.23 169.2,648.71 170.21,645.98 171.23,647.51 172.24,651.18 173.25,653.92 174.27,653.52 175.28,650.99 176.29,648.36 177.31,645.95 178.32,646.7 179.33,650.1 180.35,631.92 181.36,645.91 182.37,655.2 183.39,632.71 184.4,634.48 185.41,637.51 186.43,631.89 187.44,633.33 188.45,635.92 189.47,629.07 190.48,637.07 191.49,634.67 192.51,636.58 193.52,631.83 194.53,627.62 195.55,637.45 196.56,632.17 197.57,646.75 198.59,641.71 199.6,633.74 200.61,632.12 201.63,632.86 202.64,632.84 203.65,648.04 204.67,642.69 205.68,654.4 206.69,641.65 207.71,639.82 208.72,643.18 209.73,646.6 210.75,639.59 211.76,639.3 212.77,641.71 213.79,645.94 214.8,642.73 215.81,641.11 216.83,638.73 217.84,635.42 218.85,637.5 219.87,644.97 220.88,639.78 221.89,637.42 222.91,643.42 223.92,642.06 224.93,649.03 225.95,639.9 226.96,646.35 227.97,649.16 228.99,646.61 230,646.69 231.01,650.42 232.03,645.64 233.04,647.61 234.05,650.09 235.07,651.34 236.08,657.42 237.09,650.64 238.11,650.93 239.12,656.57 240.13,644.99 241.15,652.54 242.16,658.48 243.17,655.17 244.19,653.37 245.2,653.54 246.21,657.03 247.23,652.14 248.24,659.65 249.25,653.63 250.27,647.28 251.28,650.34 252.29,640.36 253.31,637.83 254.32,644.82 255.33,654 256.35,635.88 257.36,632.87 258.37,647.18 259.39,636.05 260.4,633.96 261.41,640.06 262.43,632.44 263.44,623.51 264.45,629.7 265.47,631.47 266.48,626.02 267.49,635.99 268.51,643.09 269.52,626.75 270.53,638.79 271.55,635.2 272.56,629.52 273.57,634.84 274.59,636.03 275.6,640.78 276.61,634.99 277.63,626.89 278.64,642.38 279.65,645.47 280.67,638.06 281.68,643.81 282.69,639.42 283.71,640.17 284.72,637.84 285.73,639.64 286.75,639.22 287.76,634.28 288.77,644.85 289.79,637.92 290.8,634.98 291.81,641.78 292.83,640.12 293.84,637.87 294.85,640 295.87,632.69 296.88,640.11 297.89,627.22 298.91,646.77 299.92,647.86 300.93,635.5 301.95,651.4 302.96,636.75 303.97,665.4 304.99,652.38 306,641.44 307.01,640.54 308.03,646.78 309.04,652.86 310.05,650.36 311.07,645.66 312.08,648.38 313.09,645.2 314.11,654.42 315.12,646.3 316.13,644.11 317.15,634.64 318.16,647.58 319.17,647.2 320.19,655.04 321.2,657.23 322.21,661.85 323.23,645.39 324.24,634.13 325.25,642.68 326.27,653.84 327.28,638.96 328.29,640.63 329.31,641.05 330.32,629.1 331.33,630.46 332.35,627.65 333.36,638.5 334.37,627.99 335.39,634.05 336.4,622.71 337.41,635.59 338.43,623.51 339.44,629.65 340.45,630.38 341.47,639.99 342.48,629.07 343.49,643.31 344.51,640.84 345.52,639.81 346.53,624.28 347.55,635.45 348.56,640.33 349.57,634.47 350.59,625.14 351.6,639.39 352.61,644.48 353.63,645.02 354.64,639.57 355.65,630.49 356.67,640.52 357.68,641.29 358.69,645.58 359.71,646.63 360.72,635.12 361.73,637.44 362.75,635.64 363.76,643.85 364.77,632 365.79,633.1 366.8,627.75 367.81,631.28 368.83,639.89" stroke="#22b822" stroke-width="0.9" fill="none"/>
<path d="M78 632.14V646.95M77.3 632.14H78.7M79.01 633.41V644.04M78.31 633.41H79.71M80.03 637.99V649.02M79.33 637.99H80.73M81.04 642.4V652.1M80.34 642.4H81.74M82.05 634.59V648.38M81.35 634.59H82.75M83.07 642.2V652.5M82.37 642.2H83.77M84.08 639.7V651.71M83.38 639.7H84.78M85.09 637.3V649.49M84.39 637.3H85.79M86.11 637.97V649.49M85.41 637.97H86.81M87.12 653.57V659.04M86.42 653.57H87.82M88.13 642.44V652.73M87.43 642.44H88.83M89.15 650.46V656.79M88.45 650.46H89.85M90.16 652.62V668.3M89.46 652.62H90.86M91.17 642.58V654.18M90.47 642.58H91.87M92.19 654.87V664.1M91.49 654.87H92.89M93.2 646.36V659.44M92.5 646.36H93.9M94.21 656.41V671.8M93.51 656.41H94.91M95.23 650.33V662.38M94.53 650.33H95.93M96.24 649.56V657.7M95.54 649.56H96.94M97.25 646.14V656.64M96.55 646.14H97.95M98.27 650.54V658.43M97.57 650.54H98.97M99.28 653.94V659.64M98.58 653.94H99.98M100.29 652.66V659.72M99.59 652.66H100.99M101.31 638.66V646.62M100.61 638.66H102.01M102.32 647.29V658.56M101.62 647.29H103.02M103.33 646.94V653.94M102.63 646.94H104.03M104.35 634.19V642.07M103.65 634.19H105.05M105.36 651.43V658.05M104.66 651.43H106.06M106.37 650.72V656.53M105.67 650.72H107.07M107.39 638.67V654M106.69 638.67H108.09M108.4 639.5V645.49M107.7 639.5H109.1M109.41 639.46V652.65M108.71 639.46H110.11M110.43 632.58V646.71M109.73 632.58H111.13M111.44 632.35V646.49M110.74 632.35H112.14M112.45 642.56V649.11M111.75 642.56H113.15M113.47 631.58V638.84M112.77 631.58H114.17M114.48 639.58V645.14M113.78 639.58H115.18M115.49 619.29V633.9M114.79 619.29H116.19M116.51 619.94V634.81M115.81 619.94H117.21M117.52 609.79V625.27M116.82 609.79H118.22M118.53 617.87V633.29M117.83 617.87H119.23M119.55 625.36V638.31M118.85 625.36H120.25M120.56 625.74V633.48M119.86 625.74H121.26M121.57 623.54V639.05M120.87 623.54H122.27M122.59 632.49V640.88M121.89 632.49H123.29M123.6 633.79V648.49M122.9 633.79H124.3M124.61 621.57V634.55M123.91 621.57H125.31M125.63 620.19V632.68M124.93 620.19H126.33M126.64 630.61V644.81M125.94 630.61H127.34M127.65 632.1V642.36M126.95 632.1H128.35M128.67 632.17V645.98M127.97 632.17H129.37M129.68 624.48V638.86M128.98 624.48H130.38M130.69 626.34V636.1M129.99 626.34H131.39M131.71 637.01V649.05M131.01 637.01H132.41M132.72 636.76V644.84M132.02 636.76H133.42M133.73 635.18V648.99M133.03 635.18H134.43M134.75 633.71V642.89M134.05 633.71H135.45M135.76 630.13V640.98M135.06 630.13H136.46M136.77 629.51V638.84M136.07 629.51H137.47M137.79 633.66V649.63M137.09 633.66H138.49M138.8 642.94V648.43M138.1 642.94H139.5M139.81 633.63V641.85M139.11 633.63H140.51M140.83 630.93V644.43M140.13 630.93H141.53M141.84 636.66V649.32M141.14 636.66H142.54M142.85 632.47V645.07M142.15 632.47H143.55M143.87 631.61V641.02M143.17 631.61H144.57M144.88 627.5V636.66M144.18 627.5H145.58M145.89 631.86V638.12M145.19 631.86H146.59M146.91 626.74V638.41M146.21 626.74H147.61M147.92 631.69V638.92M147.22 631.69H148.62M148.93 638.51V646.54M148.23 638.51H149.63M149.95 631.82V638.51M149.25 631.82H150.65M150.96 636.99V644.13M150.26 636.99H151.66M151.97 632.37V642.85M151.27 632.37H152.67M152.99 648.16V654.76M152.29 648.16H153.69M154 643.61V657.03M153.3 643.61H154.7M155.01 641.36V651.16M154.31 641.36H155.71M156.03 650.82V665.27M155.33 650.82H156.73M157.04 642.82V656.61M156.34 642.82H157.74M158.05 644.08V659.07M157.35 644.08H158.75M159.07 645.05V658.1M158.37 645.05H159.77M160.08 644.56V657.19M159.38 644.56H160.78M161.09 655.83V667.49M160.39 655.83H161.79M162.11 646.94V652.34M161.41 646.94H162.81M163.12 646.08V653.2M162.42 646.08H163.82M164.13 639.57V649.77M163.43 639.57H164.83M165.15 639.84V645.79M164.45 639.84H165.85M166.16 642.15V655.72M165.46 642.15H166.86M167.17 642.92V649.37M166.47 642.92H167.87M168.19 659.85V668.62M167.49 659.85H168.89M169.2 645.33V652.09M168.5 645.33H169.9M170.21 639.27V652.69M169.51 639.27H170.91M171.23 644.06V650.96M170.53 644.06H171.93M172.24 643.94V658.42M171.54 643.94H172.94M173.25 650.4V657.43M172.55 650.4H173.95M174.27 648.15V658.88M173.57 648.15H174.97M175.28 646.95V655.02M174.58 646.95H175.98M176.29 641.53V655.19M175.59 641.53H176.99M177.31 640.99V650.91M176.61 640.99H178.01M178.32 642.07V651.32M177.62 642.07H179.02M179.33 643.13V657.07M178.63 643.13H180.03M180.35 624.16V639.68M179.65 624.16H181.05M181.36 642.14V649.69M180.66 642.14H182.06M182.37 651.29V659.11M181.67 651.29H183.07M183.39 629.59V635.84M182.69 629.59H184.09M184.4 628.83V640.14M183.7 628.83H185.1M185.41 629.73V645.29M184.71 629.73H186.11M186.43 626.7V637.09M185.73 626.7H187.13M187.44 628.98V637.68M186.74 628.98H188.14M188.45 631.83V640.01M187.75 631.83H189.15M189.47 625.93V632.2M188.77 625.93H190.17M190.48 629.9V644.24M189.78 629.9H191.18M191.49 628.93V640.42M190.79 628.93H192.19M192.51 629.43V643.73M191.81 629.43H193.21M193.52 627.47V636.19M192.82 627.47H194.22M194.53 620.16V635.08M193.83 620.16H195.23M195.55 634.28V640.62M194.85 634.28H196.25M196.56 628.2V636.14M195.86 628.2H197.26M197.57 640.17V653.33M196.87 640.17H198.27M198.59 637.57V645.85M197.89 637.57H199.29M199.6 630.86V636.61M198.9 630.86H200.3M200.61 624.26V639.99M199.91 624.26H201.31M201.63 625.06V640.66M200.93 625.06H202.33M202.64 625.92V639.76M201.94 625.92H203.34M203.65 643.46V652.61M202.95 643.46H204.35M204.67 638.58V646.79M203.97 638.58H205.37M205.68 648.34V660.47M204.98 648.34H206.38M206.69 636.83V646.48M205.99 636.83H207.39M207.71 636.65V643M207.01 636.65H208.41M208.72 639.53V646.82M208.02 639.53H209.42M209.73 640.11V653.09M209.03 640.11H210.43M210.75 635.37V643.8M210.05 635.37H211.45M211.76 633.42V645.19M211.06 633.42H212.46M212.77 636.75V646.67M212.07 636.75H213.47M213.79 640.62V651.26M213.09 640.62H214.49M214.8 636.69V648.78M214.1 636.69H215.5M215.81 636.47V645.74M215.11 636.47H216.51M216.83 632.63V644.82M216.13 632.63H217.53M217.84 628.44V642.4M217.14 628.44H218.54M218.85 632.91V642.09M218.15 632.91H219.55M219.87 642.06V647.88M219.17 642.06H220.57M220.88 634.51V645.06M220.18 634.51H221.58M221.89 634.44V640.4M221.19 634.44H222.59M222.91 638.19V648.64M222.21 638.19H223.61M223.92 635.3V648.83M223.22 635.3H224.62M224.93 645.02V653.04M224.23 645.02H225.63M225.95 634.82V644.98M225.25 634.82H226.65M226.96 641.81V650.88M226.26 641.81H227.66M227.97 645.91V652.42M227.27 645.91H228.67M228.99 643.21V650.01M228.29 643.21H229.69M230 639.05V654.33M229.3 639.05H230.7M231.01 645.38V655.46M230.31 645.38H231.71M232.03 642.76V648.52M231.33 642.76H232.73M233.04 642.03V653.19M232.34 642.03H233.74M234.05 644.64V655.54M233.35 644.64H234.75M235.07 646.04V656.64M234.37 646.04H235.77M236.08 654.16V660.68M235.38 654.16H236.78M237.09 642.61V658.67M236.39 642.61H237.79M238.11 644.45V657.41M237.41 644.45H238.81M239.12 652.92V660.22M238.42 652.92H239.82M240.13 638.89V651.09M239.43 638.89H240.83M241.15 648.41V656.66M240.45 648.41H241.85M242.16 653.68V663.28M241.46 653.68H242.86M243.17 651.04V659.31M242.47 651.04H243.87M244.19 649.73V657M243.49 649.73H244.89M245.2 648.2V658.88M244.5 648.2H245.9M246.21 651.84V662.22M245.51 651.84H246.91M247.23 644.39V659.9M246.53 644.39H247.93M248.24 653.23V666.07M247.54 653.23H248.94M249.25 646.86V660.4M248.55 646.86H249.95M250.27 643.53V651.03M249.57 643.53H250.97M251.28 645.59V655.09M250.58 645.59H251.98M252.29 633.13V647.59M251.59 633.13H252.99M253.31 633.24V642.42M252.61 633.24H254.01M254.32 638.91V650.73M253.62 638.91H255.02M255.33 649.53V658.47M254.63 649.53H256.03M256.35 630.13V641.63M255.65 630.13H257.05M257.36 628.75V636.98M256.66 628.75H258.06M258.37 640.35V654.01M257.67 640.35H259.07M259.39 633.15V638.95M258.69 633.15H260.09M260.4 630.47V637.45M259.7 630.47H261.1M261.41 633.85V646.28M260.71 633.85H262.11M262.43 627.17V637.72M261.73 627.17H263.13M263.44 619.68V627.33M262.74 619.68H264.14M264.45 625.89V633.51M263.75 625.89H265.15M265.47 625.58V637.36M264.77 625.58H266.17M266.48 619.51V632.54M265.78 619.51H267.18M267.49 628.32V643.67M266.79 628.32H268.19M268.51 638.29V647.89M267.81 638.29H269.21M269.52 621.77V631.73M268.82 621.77H270.22M270.53 635.84V641.74M269.83 635.84H271.23M271.55 628.62V641.78M270.85 628.62H272.25M272.56 621.62V637.43M271.86 621.62H273.26M273.57 628.45V641.24M272.87 628.45H274.27M274.59 632.86V639.21M273.89 632.86H275.29M275.6 637.42V644.14M274.9 637.42H276.3M276.61 627.45V642.53M275.91 627.45H277.31M277.63 619.67V634.12M276.93 619.67H278.33M278.64 639.52V645.24M277.94 639.52H279.34M279.65 641.25V649.7M278.95 641.25H280.35M280.67 635.21V640.91M279.97 635.21H281.37M281.68 638.94V648.69M280.98 638.94H282.38M282.69 636.73V642.1M281.99 636.73H283.39M283.71 634.01V646.33M283.01 634.01H284.41M284.72 633.11V642.57M284.02 633.11H285.42M285.73 635.29V643.98M285.03 635.29H286.43M286.75 633.62V644.82M286.05 633.62H287.45M287.76 628.08V640.48M287.06 628.08H288.46M288.77 641.35V648.35M288.07 641.35H289.47M289.79 631.53V644.31M289.09 631.53H290.49M290.8 627.58V642.39M290.1 627.58H291.5M291.81 636.55V647.02M291.11 636.55H292.51M292.83 635.8V644.43M292.13 635.8H293.53M293.84 634.06V641.67M293.14 634.06H294.54M294.85 636.49V643.51M294.15 636.49H295.55M295.87 628.75V636.64M295.17 628.75H296.57M296.88 636.57V643.65M296.18 636.57H297.58M297.89 620.75V633.69M297.19 620.75H298.59M298.91 638.99V654.54M298.21 638.99H299.61M299.92 641.38V654.33M299.22 641.38H300.62M300.93 628.57V642.43M300.23 628.57H301.63M301.95 643.92V658.89M301.25 643.92H302.65M302.96 633.88V639.61M302.26 633.88H303.66M303.97 658.67V672.14M303.27 658.67H304.67M304.99 649.12V655.64M304.29 649.12H305.69M306 633.57V649.3M305.3 633.57H306.7M307.01 635.86V645.22M306.31 635.86H307.71M308.03 642.14V651.42M307.33 642.14H308.73M309.04 647.42V658.31M308.34 647.42H309.74M310.05 646.12V654.59M309.35 646.12H310.75M311.07 638.72V652.6M310.37 638.72H311.77M312.08 641.2V655.56M311.38 641.2H312.78M313.09 640.11V650.28M312.39 640.11H313.79M314.11 647.57V661.27M313.41 647.57H314.81M315.12 640.64V651.95M314.42 640.64H315.82M316.13 636.74V651.48M315.43 636.74H316.83M317.15 630.57V638.72M316.45 630.57H317.85M318.16 640.73V654.43M317.46 640.73H318.86M319.17 644.05V650.34M318.47 644.05H319.87M320.19 649.94V660.13M319.49 649.94H320.89M321.2 652.39V662.07M320.5 652.39H321.9M322.21 656.75V666.94M321.51 656.75H322.91M323.23 641.99V648.79M322.53 641.99H323.93M324.24 630.88V637.38M323.54 630.88H324.94M325.25 636.62V648.74M324.55 636.62H325.95M326.27 646.52V661.15M325.57 646.52H326.97M327.28 631.65V646.28M326.58 631.65H327.98M328.29 637.27V643.99M327.59 637.27H328.99M329.31 637.87V644.23M328.61 637.87H330.01M330.32 625.53V632.68M329.62 625.53H331.02M331.33 625.09V635.84M330.63 625.09H332.03M332.35 621.93V633.37M331.65 621.93H333.05M333.36 634.99V642.01M332.66 634.99H334.06M334.37 621.91V634.07M333.67 621.91H335.07M335.39 629.57V638.53M334.69 629.57H336.09M336.4 615.8V629.62M335.7 615.8H337.1M337.41 630.07V641.11M336.71 630.07H338.11M338.43 618.01V629.01M337.73 618.01H339.13M339.44 624.6V634.7M338.74 624.6H340.14M340.45 625.9V634.87M339.75 625.9H341.15M341.47 635.41V644.57M340.77 635.41H342.17M342.48 624.97V633.17M341.78 624.97H343.18M343.49 637.43V649.19M342.79 637.43H344.19M344.51 637.14V644.54M343.81 637.14H345.21M345.52 636.85V642.76M344.82 636.85H346.22M346.53 617.15V631.41M345.83 617.15H347.23M347.55 629.9V641M346.85 629.9H348.25M348.56 633.23V647.43M347.86 633.23H349.26M349.57 628.58V640.36M348.87 628.58H350.27M350.59 618.33V631.94M349.89 618.33H351.29M351.6 633.16V645.63M350.9 633.16H352.3M352.61 638.49V650.47M351.91 638.49H353.31M353.63 638.66V651.38M352.93 638.66H354.33M354.64 634.66V644.49M353.94 634.66H355.34M355.65 626.47V634.52M354.95 626.47H356.35M356.67 636.38V644.66M355.97 636.38H357.37M357.68 637.21V645.38M356.98 637.21H358.38M358.69 638.91V652.25M357.99 638.91H359.39M359.71 638.73V654.53M359.01 638.73H360.41M360.72 631.97V638.26M360.02 631.97H361.42M361.73 630.99V643.89M361.03 630.99H362.43M362.75 631.63V639.66M362.05 631.63H363.45M363.76 641.14V646.56M363.06 641.14H364.46M364.77 625.8V638.2M364.07 625.8H365.47M365.79 629.95V636.25M365.09 629.95H366.49M366.8 623.39V632.11M366.1 623.39H367.5M367.81 627.38V635.19M367.11 627.38H368.51M368.83 635.7V644.08M368.13 635.7H369.53" stroke="#22b822" stroke-width="0.6" stroke-opacity="0.95" fill="none"/>
<polyline points="78,658.67 79.01,640.13 80.03,652.41 81.04,652.03 82.05,657.44 83.07,656.69 84.08,645.36 85.09,654.38 86.11,646.98 87.12,652.88 88.13,650.22 89.15,654.94 90.16,650.07 91.17,638.7 92.19,649.33 93.2,650.36 94.21,655.87 95.23,648.13 96.24,646.5 97.25,663.17 98.27,661.68 99.28,643.22 100.29,651.75 101.31,652.86 102.32,650.06 103.33,646.71 104.35,646.63 105.36,649.26 106.37,634.12 107.39,643.46 108.4,647.75 109.41,645.57 110.43,642.81 111.44,643.66 112.45,641.2 113.47,637.06 114.48,654.96 115.49,637.21 116.51,626.14 117.52,628.93 118.53,636.33 119.55,636.74 120.56,627.98 121.57,636.06 122.59,638.21 123.6,626.02 124.61,638.6 125.63,633.56 126.64,638.11 127.65,638.22 128.67,644.2 129.68,644.18 130.69,633.61 131.71,647.11 132.72,640.13 133.73,648.28 134.75,643.39 135.76,642.54 136.77,651.33 137.79,636.72 138.8,644.04 139.81,636.77 140.83,648.55 141.84,638.87 142.85,629.8 143.87,639.74 144.88,642.95 145.89,635.47 146.91,637.11 147.92,640.07 148.93,640.66 149.95,644.73 150.96,641.49 151.97,648.03 152.99,652.37 154,644.85 155.01,651.58 156.03,637.3 157.04,653.02 158.05,655.71 159.07,654.98 160.08,650.21 161.09,656.12 162.11,659.33 163.12,643.92 164.13,659.65 165.15,645.13 166.16,652.77 167.17,659.5 168.19,645.12 169.2,655.42 170.21,660.01 171.23,654.52 172.24,648.23 173.25,651.02 174.27,649.81 175.28,644.37 176.29,652.2 177.31,649.69 178.32,650.09 179.33,653.85 180.35,645.17 181.36,635.27 182.37,652.8 183.39,635.84 184.4,641.2 185.41,646.09 186.43,639.45 187.44,628.86 188.45,637.21 189.47,628.13 190.48,627.04 191.49,638.68 192.51,631.21 193.52,632.48 194.53,638.56 195.55,632.99 196.56,639.27 197.57,641.08 198.59,645.27 199.6,637.23 200.61,642.26 201.63,643.61 202.64,647.44 203.65,649.25 204.67,646.82 205.68,639.31 206.69,647.87 207.71,636.01 208.72,641.85 209.73,643.46 210.75,651.04 211.76,634.35 212.77,652.85 213.79,642.51 214.8,636.55 215.81,645.32 216.83,646.52 217.84,641.55 218.85,635.12 219.87,632.6 220.88,637.75 221.89,647.84 222.91,647.36 223.92,644.83 224.93,654.89 225.95,651.09 226.96,639.17 227.97,658.28 228.99,647.13 230,658.48 231.01,655.42 232.03,654.08 233.04,661.9 234.05,654.49 235.07,647.08 236.08,650.3 237.09,650.61 238.11,658.89 239.12,655.56 240.13,653.9 241.15,651.55 242.16,648.2 243.17,660.98 244.19,646.7 245.2,657.57 246.21,656.88 247.23,661.51 248.24,654.88 249.25,655.23 250.27,658.93 251.28,650.97 252.29,645.86 253.31,647.02 254.32,640.12 255.33,649.3 256.35,638.51 257.36,643.79 258.37,639.33 259.39,649.77 260.4,637.71 261.41,634.41 262.43,627.23 263.44,639.28 264.45,626.3 265.47,640.13 266.48,627.93 267.49,632.49 268.51,640.24 269.52,625.14 270.53,643.81 271.55,638.91 272.56,637.47 273.57,636.37 274.59,638.56 275.6,636.08 276.61,638.5 277.63,641.39 278.64,647.15 279.65,644.22 280.67,637.73 281.68,649.05 282.69,642.4 283.71,654.2 284.72,647.15 285.73,652.34 286.75,637.15 287.76,653.83 288.77,643.86 289.79,637.2 290.8,636.38 291.81,634.04 292.83,632.28 293.84,636.48 294.85,635.59 295.87,641.94 296.88,643.91 297.89,655.37 298.91,646.8 299.92,642.34 300.93,654.59 301.95,657.64 302.96,651.01 303.97,645.56 304.99,645.31 306,659.99 307.01,649.66 308.03,655.74 309.04,650.87 310.05,664.73 311.07,647.89 312.08,655.2 313.09,652.22 314.11,654.52 315.12,659.35 316.13,651.21 317.15,656.86 318.16,658.21 319.17,650.49 320.19,654.01 321.2,656.84 322.21,647.56 323.23,654.1 324.24,648.24 325.25,641.26 326.27,638.46 327.28,636.61 328.29,633.68 329.31,641.86 330.32,645.91 331.33,631.34 332.35,631.29 333.36,638.93 334.37,629.27 335.39,633.27 336.4,640.32 337.41,627.1 338.43,631.53 339.44,633.45 340.45,625.66 341.47,627.66 342.48,639.43 343.49,642.56 344.51,647.41 345.52,637.83 346.53,640.56 347.55,637.17 348.56,639.67 349.57,643.89 350.59,643.17 351.6,649.99 352.61,635.27 353.63,644.96 354.64,639.05 355.65,646.11 356.67,642.44 357.68,639.67 358.69,644.76 359.71,647.91 360.72,631.28 361.73,643.4 362.75,637.86 363.76,639.91 364.77,642.2 365.79,630.81 366.8,636.84 367.81,638.18 368.83,653.84" stroke="#000000" stroke-width="0.9" fill="none"/>
<path d="M78 654.76V662.58M77.3 654.76H78.7M79.01 632.57V647.69M78.31 632.57H79.71M80.03 646.28V658.54M79.33 646.28H80.73M81.04 646.89V657.17M80.34 646.89H81.74M82.05 653.5V661.37M81.35 653.5H82.75M83.07 650.58V662.81M82.37 650.58H83.77M84.08 642.11V648.61M83.38 642.11H84.78M85.09 648.06V660.7M84.39 648.06H85.79M86.11 641.13V652.84M85.41 641.13H86.81M87.12 650.18V655.58M86.42 650.18H87.82M88.13 643.88V656.56M87.43 643.88H88.83M89.15 649.83V660.04M88.45 649.83H89.85M90.16 646.48V653.66M89.46 646.48H90.86M91.17 635.58V641.82M90.47 635.58H91.87M92.19 643.58V655.09M91.49 643.58H92.89M93.2 643.32V657.4M92.5 643.32H93.9M94.21 651.42V660.33M93.51 651.42H94.91M95.23 642.05V654.2M94.53 642.05H95.93M96.24 642.22V650.77M95.54 642.22H96.94M97.25 655.25V671.09M96.55 655.25H97.95M98.27 654.83V668.54M97.57 654.83H98.97M99.28 636.51V649.94M98.58 636.51H99.98M100.29 647.45V656.04M99.59 647.45H100.99M101.31 647.95V657.77M100.61 647.95H102.01M102.32 643.64V656.47M101.62 643.64H103.02M103.33 639.17V654.25M102.63 639.17H104.03M104.35 643.89V649.37M103.65 643.89H105.05M105.36 643.18V655.35M104.66 643.18H106.06M106.37 627.19V641.05M105.67 627.19H107.07M107.39 640.27V646.66M106.69 640.27H108.09M108.4 640.22V655.29M107.7 640.22H109.1M109.41 639.96V651.18M108.71 639.96H110.11M110.43 637.87V647.75M109.73 637.87H111.13M111.44 636.88V650.44M110.74 636.88H112.14M112.45 636.39V646.01M111.75 636.39H113.15M113.47 630.12V644.01M112.77 630.12H114.17M114.48 647.72V662.21M113.78 647.72H115.18M115.49 629.32V645.1M114.79 629.32H116.19M116.51 621.56V630.71M115.81 621.56H117.21M117.52 625.74V632.13M116.82 625.74H118.22M118.53 629.52V643.14M117.83 629.52H119.23M119.55 633.96V639.53M118.85 633.96H120.25M120.56 621.2V634.76M119.86 621.2H121.26M121.57 628.88V643.24M120.87 628.88H122.27M122.59 630.58V645.83M121.89 630.58H123.29M123.6 623.18V628.86M122.9 623.18H124.3M124.61 631.14V646.05M123.91 631.14H125.31M125.63 625.57V641.56M124.93 625.57H126.33M126.64 634.76V641.46M125.94 634.76H127.34M127.65 632.93V643.5M126.95 632.93H128.35M128.67 639.54V648.87M127.97 639.54H129.37M129.68 636.86V651.51M128.98 636.86H130.38M130.69 630.48V636.74M129.99 630.48H131.39M131.71 641.91V652.32M131.01 641.91H132.41M132.72 637.3V642.97M132.02 637.3H133.42M133.73 640.59V655.96M133.03 640.59H134.43M134.75 638.32V648.46M134.05 638.32H135.45M135.76 636V649.08M135.06 636H136.46M136.77 648.49V654.17M136.07 648.49H137.47M137.79 632.96V640.48M137.09 632.96H138.49M138.8 637.98V650.1M138.1 637.98H139.5M139.81 632.64V640.9M139.11 632.64H140.51M140.83 641V656.1M140.13 641H141.53M141.84 631.12V646.63M141.14 631.12H142.54M142.85 626.24V633.37M142.15 626.24H143.55M143.87 631.85V647.64M143.17 631.85H144.57M144.88 635.33V650.57M144.18 635.33H145.58M145.89 630.28V640.66M145.19 630.28H146.59M146.91 632.68V641.54M146.21 632.68H147.61M147.92 634.27V645.86M147.22 634.27H148.62M148.93 634.63V646.69M148.23 634.63H149.63M149.95 641.99V647.47M149.25 641.99H150.65M150.96 635.43V647.56M150.26 635.43H151.66M151.97 642.75V653.31M151.27 642.75H152.67M152.99 645.31V659.43M152.29 645.31H153.69M154 637.8V651.91M153.3 637.8H154.7M155.01 645.1V658.06M154.31 645.1H155.71M156.03 631.03V643.57M155.33 631.03H156.73M157.04 645.44V660.6M156.34 645.44H157.74M158.05 650.27V661.14M157.35 650.27H158.75M159.07 648.92V661.04M158.37 648.92H159.77M160.08 642.65V657.76M159.38 642.65H160.78M161.09 648.43V663.81M160.39 648.43H161.79M162.11 653.99V664.67M161.41 653.99H162.81M163.12 640.49V647.35M162.42 640.49H163.82M164.13 653.51V665.78M163.43 653.51H164.83M165.15 639.82V650.44M164.45 639.82H165.85M166.16 649.15V656.39M165.46 649.15H166.86M167.17 655.59V663.4M166.47 655.59H167.87M168.19 642.1V648.13M167.49 642.1H168.89M169.2 648.43V662.42M168.5 648.43H169.9M170.21 654.74V665.28M169.51 654.74H170.91M171.23 651.53V657.51M170.53 651.53H171.93M172.24 644.1V652.36M171.54 644.1H172.94M173.25 643.26V658.78M172.55 643.26H173.95M174.27 646.84V652.77M173.57 646.84H174.97M175.28 637.94V650.81M174.58 637.94H175.98M176.29 649.14V655.25M175.59 649.14H176.99M177.31 642.5V656.88M176.61 642.5H178.01M178.32 644.08V656.09M177.62 644.08H179.02M179.33 646.82V660.88M178.63 646.82H180.03M180.35 641.48V648.87M179.65 641.48H181.05M181.36 630.81V639.72M180.66 630.81H182.06M182.37 646.95V658.65M181.67 646.95H183.07M183.39 632.5V639.18M182.69 632.5H184.09M184.4 635.23V647.17M183.7 635.23H185.1M185.41 641.83V650.36M184.71 641.83H186.11M186.43 636.24V642.66M185.73 636.24H187.13M187.44 625.49V632.24M186.74 625.49H188.14M188.45 632.59V641.83M187.75 632.59H189.15M189.47 620.36V635.9M188.77 620.36H190.17M190.48 621V633.09M189.78 621H191.18M191.49 635.16V642.21M190.79 635.16H192.19M192.51 626.36V636.07M191.81 626.36H193.21M193.52 624.48V640.49M192.82 624.48H194.22M194.53 631.35V645.77M193.83 631.35H195.23M195.55 626.35V639.63M194.85 626.35H196.25M196.56 634.28V644.26M195.86 634.28H197.26M197.57 637.32V644.85M196.87 637.32H198.27M198.59 638.25V652.29M197.89 638.25H199.29M199.6 631.49V642.96M198.9 631.49H200.3M200.61 638.81V645.7M199.91 638.81H201.31M201.63 637.42V649.8M200.93 637.42H202.33M202.64 642V652.87M201.94 642H203.34M203.65 645.58V652.92M202.95 645.58H204.35M204.67 639.28V654.35M203.97 639.28H205.37M205.68 633.61V645.02M204.98 633.61H206.38M206.69 643.83V651.92M205.99 643.83H207.39M207.71 629.48V642.55M207.01 629.48H208.41M208.72 635.39V648.3M208.02 635.39H209.42M209.73 637.65V649.27M209.03 637.65H210.43M210.75 647.14V654.94M210.05 647.14H211.45M211.76 626.46V642.24M211.06 626.46H212.46M212.77 646.8V658.9M212.07 646.8H213.47M213.79 635.85V649.18M213.09 635.85H214.49M214.8 628.57V644.54M214.1 628.57H215.5M215.81 641.92V648.71M215.11 641.92H216.51M216.83 640.04V653M216.13 640.04H217.53M217.84 638.01V645.08M217.14 638.01H218.54M218.85 628.77V641.48M218.15 628.77H219.55M219.87 627.74V637.45M219.17 627.74H220.57M220.88 633.65V641.86M220.18 633.65H221.58M221.89 641.11V654.57M221.19 641.11H222.59M222.91 641.83V652.89M222.21 641.83H223.61M223.92 641.38V648.28M223.22 641.38H224.62M224.93 651.74V658.04M224.23 651.74H225.63M225.95 644.26V657.91M225.25 644.26H226.65M226.96 634.23V644.1M226.26 634.23H227.66M227.97 654.11V662.45M227.27 654.11H228.67M228.99 643.33V650.93M228.29 643.33H229.69M230 653.24V663.73M229.3 653.24H230.7M231.01 651.57V659.26M230.31 651.57H231.71M232.03 646.4V661.75M231.33 646.4H232.73M233.04 656.81V666.98M232.34 656.81H233.74M234.05 648.82V660.16M233.35 648.82H234.75M235.07 644.38V649.77M234.37 644.38H235.77M236.08 644.43V656.17M235.38 644.43H236.78M237.09 647.74V653.49M236.39 647.74H237.79M238.11 653.92V663.86M237.41 653.92H238.81M239.12 651.85V659.26M238.42 651.85H239.82M240.13 649.11V658.69M239.43 649.11H240.83M241.15 645.35V657.76M240.45 645.35H241.85M242.16 640.54V655.86M241.46 640.54H242.86M243.17 655.79V666.18M242.47 655.79H243.87M244.19 643.99V649.41M243.49 643.99H244.89M245.2 650.66V664.48M244.5 650.66H245.9M246.21 652.61V661.14M245.51 652.61H246.91M247.23 653.98V669.04M246.53 653.98H247.93M248.24 650.42V659.33M247.54 650.42H248.94M249.25 647.3V663.16M248.55 647.3H249.95M250.27 655V662.87M249.57 655H250.97M251.28 646.25V655.7M250.58 646.25H251.98M252.29 641.24V650.49M251.59 641.24H252.99M253.31 641.14V652.91M252.61 641.14H254.01M254.32 632.29V647.96M253.62 632.29H255.02M255.33 645.96V652.64M254.63 645.96H256.03M256.35 634.73V642.3M255.65 634.73H257.05M257.36 638.97V648.6M256.66 638.97H258.06M258.37 635.23V643.42M257.67 635.23H259.07M259.39 645.02V654.52M258.69 645.02H260.09M260.4 630.09V645.32M259.7 630.09H261.1M261.41 629.83V638.98M260.71 629.83H262.11M262.43 622.45V632.01M261.73 622.45H263.13M263.44 636.14V642.42M262.74 636.14H264.14M264.45 623.42V629.19M263.75 623.42H265.15M265.47 634.77V645.48M264.77 634.77H266.17M266.48 623.16V632.7M265.78 623.16H267.18M267.49 626.24V638.75M266.79 626.24H268.19M268.51 633.34V647.15M267.81 633.34H269.21M269.52 621.13V629.15M268.82 621.13H270.22M270.53 639.18V648.44M269.83 639.18H271.23M271.55 630.85V646.96M270.85 630.85H272.25M272.56 634.65V640.29M271.86 634.65H273.26M273.57 630.33V642.42M272.87 630.33H274.27M274.59 633.71V643.41M273.89 633.71H275.29M275.6 630.46V641.7M274.9 630.46H276.3M276.61 635.15V641.85M275.91 635.15H277.31M277.63 633.73V649.05M276.93 633.73H278.33M278.64 639.97V654.33M277.94 639.97H279.34M279.65 638.5V649.94M278.95 638.5H280.35M280.67 632.13V643.33M279.97 632.13H281.37M281.68 643.79V654.31M280.98 643.79H282.38M282.69 634.72V650.08M281.99 634.72H283.39M283.71 650.68V657.73M283.01 650.68H284.41M284.72 644.1V650.2M284.02 644.1H285.42M285.73 644.95V659.72M285.03 644.95H286.43M286.75 629.89V644.4M286.05 629.89H287.45M287.76 646.77V660.88M287.06 646.77H288.46M288.77 638.11V649.62M288.07 638.11H289.47M289.79 629.35V645.06M289.09 629.35H290.49M290.8 631.28V641.49M290.1 631.28H291.5M291.81 628.21V639.87M291.11 628.21H292.51M292.83 624.86V639.7M292.13 624.86H293.53M293.84 633.51V639.46M293.14 633.51H294.54M294.85 627.79V643.39M294.15 627.79H295.55M295.87 638.15V645.74M295.17 638.15H296.57M296.88 637.5V650.32M296.18 637.5H297.58M297.89 651.73V659.01M297.19 651.73H298.59M298.91 643.04V650.56M298.21 643.04H299.61M299.92 636.08V648.59M299.22 636.08H300.62M300.93 650.25V658.92M300.23 650.25H301.63M301.95 651.35V663.93M301.25 651.35H302.65M302.96 644.09V657.94M302.26 644.09H303.66M303.97 637.63V653.48M303.27 637.63H304.67M304.99 641.31V649.31M304.29 641.31H305.69M306 656.4V663.58M305.3 656.4H306.7M307.01 646.8V652.52M306.31 646.8H307.71M308.03 649.52V661.97M307.33 649.52H308.73M309.04 643.31V658.44M308.34 643.31H309.74M310.05 658.42V671.03M309.35 658.42H310.75M311.07 644.03V651.75M310.37 644.03H311.77M312.08 648.78V661.63M311.38 648.78H312.78M313.09 645.47V658.96M312.39 645.47H313.79M314.11 649.76V659.28M313.41 649.76H314.81M315.12 656.52V662.17M314.42 656.52H315.82M316.13 646.91V655.51M315.43 646.91H316.83M317.15 649.87V663.85M316.45 649.87H317.85M318.16 651.41V665M317.46 651.41H318.86M319.17 645.21V655.78M318.47 645.21H319.87M320.19 648.66V659.35M319.49 648.66H320.89M321.2 650.78V662.89M320.5 650.78H321.9M322.21 642.08V653.04M321.51 642.08H322.91M323.23 648.6V659.6M322.53 648.6H323.93M324.24 643.76V652.71M323.54 643.76H324.94M325.25 634.24V648.28M324.55 634.24H325.95M326.27 635.51V641.42M325.57 635.51H326.97M327.28 632.11V641.11M326.58 632.11H327.98M328.29 628.26V639.1M327.59 628.26H328.99M329.31 636.2V647.52M328.61 636.2H330.01M330.32 638.76V653.06M329.62 638.76H331.02M331.33 624.78V637.91M330.63 624.78H332.03M332.35 627.69V634.88M331.65 627.69H333.05M333.36 635.84V642.03M332.66 635.84H334.06M334.37 626.43V632.11M333.67 626.43H335.07M335.39 625.87V640.67M334.69 625.87H336.09M336.4 635.52V645.12M335.7 635.52H337.1M337.41 621.93V632.26M336.71 621.93H338.11M338.43 624.96V638.1M337.73 624.96H339.13M339.44 627.03V639.86M338.74 627.03H340.14M340.45 619.93V631.38M339.75 619.93H341.15M341.47 622.27V633.06M340.77 622.27H342.17M342.48 635.8V643.06M341.78 635.8H343.18M343.49 639.67V645.46M342.79 639.67H344.19M344.51 643.69V651.14M343.81 643.69H345.21M345.52 629.78V645.88M344.82 629.78H346.22M346.53 636.27V644.86M345.83 636.27H347.23M347.55 630.78V643.55M346.85 630.78H348.25M348.56 635.73V643.62M347.86 635.73H349.26M349.57 637.99V649.8M348.87 637.99H350.27M350.59 639.61V646.73M349.89 639.61H351.29M351.6 643.47V656.51M350.9 643.47H352.3M352.61 632.08V638.45M351.91 632.08H353.31M353.63 640.31V649.61M352.93 640.31H354.33M354.64 633.84V644.26M353.94 633.84H355.34M355.65 640.25V651.97M354.95 640.25H356.35M356.67 637.8V647.07M355.97 637.8H357.37M357.68 634.84V644.5M356.98 634.84H358.38M358.69 637.7V651.83M357.99 637.7H359.39M359.71 644.39V651.43M359.01 644.39H360.41M360.72 625.55V637.02M360.02 625.55H361.42M361.73 638.88V647.93M361.03 638.88H362.43M362.75 633.01V642.7M362.05 633.01H363.45M363.76 633.31V646.51M363.06 633.31H364.46M364.77 637.13V647.27M364.07 637.13H365.47M365.79 624.62V636.99M365.09 624.62H366.49M366.8 632.72V640.95M366.1 632.72H367.5M367.81 631V645.36M367.11 631H368.51M368.83 646.96V660.73M368.13 646.96H369.53" stroke="#000000" stroke-width="0.6" stroke-opacity="0.95" fill="none"/>
<line x1="80.43" y1="609.5" x2="112.05" y2="609.5" stroke="#7a7a7a" stroke-width="1.2"/>
<text x="96.24" y="604.5" font-size="8.2" text-anchor="middle" stroke="#231f20" stroke-width="0.15" textLength="13.5" lengthAdjust="spacingAndGlyphs">NS</text>
<line x1="116.91" y1="590.5" x2="148.53" y2="590.5" stroke="#7a7a7a" stroke-width="1.2"/>
<path d="M130.07 583.1L130.8 584.59L132.45 584.83L131.26 585.99L131.54 587.62L130.07 586.85L128.6 587.62L128.88 585.99L127.69 584.83L129.34 584.59ZM135.37 583.1L136.1 584.59L137.75 584.83L136.56 585.99L136.84 587.62L135.37 586.85L133.9 587.62L134.18 585.99L132.99 584.83L134.64 584.59Z" fill="#231f20"/>
<line x1="153.39" y1="609.5" x2="185.01" y2="609.5" stroke="#7a7a7a" stroke-width="1.2"/>
<text x="169.2" y="604.5" font-size="8.2" text-anchor="middle" stroke="#231f20" stroke-width="0.15" textLength="13.5" lengthAdjust="spacingAndGlyphs">NS</text>
<line x1="189.87" y1="590.5" x2="221.49" y2="590.5" stroke="#7a7a7a" stroke-width="1.2"/>
<path d="M205.68 583.1L206.41 584.59L208.06 584.83L206.87 585.99L207.15 587.62L205.68 586.85L204.21 587.62L204.49 585.99L203.3 584.83L204.95 584.59Z" fill="#231f20"/>
<line x1="226.35" y1="609.5" x2="257.97" y2="609.5" stroke="#7a7a7a" stroke-width="1.2"/>
<text x="242.16" y="604.5" font-size="8.2" text-anchor="middle" stroke="#231f20" stroke-width="0.15" textLength="13.5" lengthAdjust="spacingAndGlyphs">NS</text>
<line x1="262.83" y1="590.5" x2="294.45" y2="590.5" stroke="#7a7a7a" stroke-width="1.2"/>
<path d="M275.99 583.1L276.72 584.59L278.37 584.83L277.18 585.99L277.46 587.62L275.99 586.85L274.52 587.62L274.8 585.99L273.61 584.83L275.26 584.59ZM281.29 583.1L282.02 584.59L283.67 584.83L282.48 585.99L282.76 587.62L281.29 586.85L279.82 587.62L280.1 585.99L278.91 584.83L280.56 584.59Z" fill="#231f20"/>
<line x1="299.31" y1="609.5" x2="330.93" y2="609.5" stroke="#7a7a7a" stroke-width="1.2"/>
<text x="315.12" y="604.5" font-size="8.2" text-anchor="middle" stroke="#231f20" stroke-width="0.15" textLength="13.5" lengthAdjust="spacingAndGlyphs">NS</text>
<line x1="335.79" y1="590.5" x2="367.41" y2="590.5" stroke="#7a7a7a" stroke-width="1.2"/>
<path d="M348.95 583.1L349.68 584.59L351.33 584.83L350.14 585.99L350.42 587.62L348.95 586.85L347.48 587.62L347.76 585.99L346.57 584.83L348.22 584.59ZM354.25 583.1L354.98 584.59L356.63 584.83L355.44 585.99L355.72 587.62L354.25 586.85L352.78 587.62L353.06 585.99L351.87 584.83L353.52 584.59Z" fill="#231f20"/>
<line x1="461.5" y1="582.1" x2="461.5" y2="707.4" stroke="#8c8c8c" stroke-width="1"/>
<line x1="456.8" y1="707.5" x2="461.4" y2="707.5" stroke="#a8a8a8" stroke-width="1"/>
<text x="453.3" y="710.4" font-size="8.4" text-anchor="end" stroke="#231f20" stroke-width="0.15" textLength="5.04" lengthAdjust="spacingAndGlyphs">0</text>
<line x1="456.8" y1="676.5" x2="461.4" y2="676.5" stroke="#a8a8a8" stroke-width="1"/>
<text x="453.3" y="679.07" font-size="8.4" text-anchor="end" stroke="#231f20" stroke-width="0.15" textLength="17.65" lengthAdjust="spacingAndGlyphs">0.25</text>
<line x1="456.8" y1="644.5" x2="461.4" y2="644.5" stroke="#a8a8a8" stroke-width="1"/>
<text x="453.3" y="647.75" font-size="8.4" text-anchor="end" stroke="#231f20" stroke-width="0.15" textLength="17.65" lengthAdjust="spacingAndGlyphs">0.50</text>
<line x1="456.8" y1="613.5" x2="461.4" y2="613.5" stroke="#a8a8a8" stroke-width="1"/>
<text x="453.3" y="616.42" font-size="8.4" text-anchor="end" stroke="#231f20" stroke-width="0.15" textLength="17.65" lengthAdjust="spacingAndGlyphs">0.75</text>
<line x1="456.8" y1="582.5" x2="461.4" y2="582.5" stroke="#a8a8a8" stroke-width="1"/>
<text x="453.3" y="585.1" font-size="8.4" text-anchor="end" stroke="#231f20" stroke-width="0.15" textLength="17.65" lengthAdjust="spacingAndGlyphs">1.00</text>
<line x1="461.4" y1="707.5" x2="654" y2="707.5" stroke="#a0a0a0" stroke-width="1.2"/>
<line x1="507.5" y1="707.4" x2="507.5" y2="711.9" stroke="#6b6b6b" stroke-width="1"/>
<line x1="607.5" y1="707.4" x2="607.5" y2="711.9" stroke="#6b6b6b" stroke-width="1"/>
<text x="507.5" y="723" font-size="8.4" text-anchor="middle" stroke="#231f20" stroke-width="0.15" textLength="20.5" lengthAdjust="spacingAndGlyphs">Light</text>
<text x="607" y="723" font-size="8.4" text-anchor="middle" stroke="#231f20" stroke-width="0.15" textLength="17" lengthAdjust="spacingAndGlyphs">Dark</text>
<text x="415.8" y="645.3" font-size="9.3" text-anchor="middle" stroke="#231f20" stroke-width="0.15" transform="rotate(-90 415.8 645.3)" textLength="87.5" lengthAdjust="spacingAndGlyphs">Energy expenditure</text>
<text x="427" y="644.2" font-size="9.3" text-anchor="middle" stroke="#231f20" stroke-width="0.15" transform="rotate(-90 427 644.2)" textLength="38.4" lengthAdjust="spacingAndGlyphs">(kcal h<tspan baseline-shift="super" font-size="6">−1</tspan>)</text>
<circle cx="476" cy="632.97" r="2.95" fill="#000000"/>
<circle cx="471.5" cy="645.13" r="2.95" fill="#000000"/>
<circle cx="480.5" cy="646.63" r="2.95" fill="#000000"/>
<circle cx="476" cy="653.4" r="2.95" fill="#000000"/>
<circle cx="493.1" cy="629.59" r="2.95" fill="#ff7f1a"/>
<circle cx="497.6" cy="625.58" r="2.95" fill="#ff7f1a"/>
<circle cx="502.6" cy="625.95" r="2.95" fill="#ff7f1a"/>
<circle cx="499.1" cy="629.59" r="2.95" fill="#ff7f1a"/>
<circle cx="518.7" cy="624.45" r="2.95" fill="#22bb22"/>
<circle cx="514.2" cy="649.01" r="2.95" fill="#22bb22"/>
<circle cx="523.2" cy="646.63" r="2.95" fill="#22bb22"/>
<circle cx="518.7" cy="645.13" r="2.95" fill="#22bb22"/>
<circle cx="535.2" cy="641.24" r="2.95" fill="#9a1fd0"/>
<circle cx="539.7" cy="641.24" r="2.95" fill="#9a1fd0"/>
<circle cx="544.2" cy="641.24" r="2.95" fill="#9a1fd0"/>
<circle cx="535.2" cy="646" r="2.95" fill="#9a1fd0"/>
<circle cx="575.4" cy="620.94" r="2.95" fill="#000000"/>
<circle cx="570.9" cy="633.6" r="2.95" fill="#000000"/>
<circle cx="579.9" cy="634.22" r="2.95" fill="#000000"/>
<circle cx="575.4" cy="643.12" r="2.95" fill="#000000"/>
<circle cx="601.2" cy="603.4" r="2.95" fill="#ff7f1a"/>
<circle cx="592.2" cy="608.41" r="2.95" fill="#ff7f1a"/>
<circle cx="592.2" cy="613.93" r="2.95" fill="#ff7f1a"/>
<circle cx="601.2" cy="612.42" r="2.95" fill="#ff7f1a"/>
<circle cx="617.9" cy="609.29" r="2.95" fill="#22bb22"/>
<circle cx="613.4" cy="632.22" r="2.95" fill="#22bb22"/>
<circle cx="622.4" cy="632.6" r="2.95" fill="#22bb22"/>
<circle cx="617.9" cy="637.86" r="2.95" fill="#22bb22"/>
<circle cx="635" cy="630.09" r="2.95" fill="#9a1fd0"/>
<circle cx="638" cy="626.83" r="2.95" fill="#9a1fd0"/>
<circle cx="641.5" cy="628.46" r="2.95" fill="#9a1fd0"/>
<circle cx="644.5" cy="629.71" r="2.95" fill="#9a1fd0"/>
<path d="M476 636.61V652.89M472 636.61H480M472 652.89H480" stroke="#000000" stroke-opacity="0.6" stroke-width="1" fill="none"/>
<line x1="469" y1="644.5" x2="483" y2="644.5" stroke="#000000" stroke-width="1.1"/>
<path d="M497.6 625.95V629.71M493.6 625.95H501.6M493.6 629.71H501.6" stroke="#ff7f1a" stroke-opacity="0.6" stroke-width="1" fill="none"/>
<line x1="490.6" y1="627.5" x2="504.6" y2="627.5" stroke="#ff7f1a" stroke-width="1.1"/>
<path d="M518.7 630.34V652.27M514.7 630.34H522.7M514.7 652.27H522.7" stroke="#22bb22" stroke-opacity="0.6" stroke-width="1" fill="none"/>
<line x1="511.7" y1="641.5" x2="525.7" y2="641.5" stroke="#22bb22" stroke-width="1.1"/>
<path d="M539.7 640.99V646M535.7 640.99H543.7M535.7 646H543.7" stroke="#9a1fd0" stroke-opacity="0.6" stroke-width="1" fill="none"/>
<line x1="532.7" y1="643.5" x2="546.7" y2="643.5" stroke="#9a1fd0" stroke-width="1.1"/>
<path d="M575.4 624.08V642.87M571.4 624.08H579.4M571.4 642.87H579.4" stroke="#000000" stroke-opacity="0.6" stroke-width="1" fill="none"/>
<line x1="568.4" y1="633.5" x2="582.4" y2="633.5" stroke="#000000" stroke-width="1.1"/>
<path d="M596.7 605.91V612.8M592.7 605.91H600.7M592.7 612.8H600.7" stroke="#ff7f1a" stroke-opacity="0.6" stroke-width="1" fill="none"/>
<line x1="589.7" y1="609.5" x2="603.7" y2="609.5" stroke="#ff7f1a" stroke-width="1.1"/>
<path d="M617.9 615.56V639.74M613.9 615.56H621.9M613.9 639.74H621.9" stroke="#22bb22" stroke-opacity="0.6" stroke-width="1" fill="none"/>
<line x1="610.9" y1="627.5" x2="624.9" y2="627.5" stroke="#22bb22" stroke-width="1.1"/>
<path d="M639 625.95V630.97M635 625.95H643M635 630.97H643" stroke="#9a1fd0" stroke-opacity="0.6" stroke-width="1" fill="none"/>
<line x1="632" y1="628.5" x2="646" y2="628.5" stroke="#9a1fd0" stroke-width="1.1"/>
<path d="M474.3 615.5V612H498.6V615.5M575.4 593V590.5H597.6V593M599.3 593V590.5H640.5V593" stroke="#595959" stroke-width="1" fill="none"/>
<text x="487.9" y="610.2" font-size="8.4" text-anchor="middle" stroke="#231f20" stroke-width="0.15" textLength="27.3" lengthAdjust="spacingAndGlyphs">0.0759</text>
<path d="M583.35 582.9L584.08 584.39L585.73 584.63L584.54 585.79L584.82 587.42L583.35 586.65L581.88 587.42L582.16 585.79L580.97 584.63L582.62 584.39ZM588.65 582.9L589.38 584.39L591.03 584.63L589.84 585.79L590.12 587.42L588.65 586.65L587.18 587.42L587.46 585.79L586.27 584.63L587.92 584.39Z" fill="#231f20"/>
<path d="M618.5 582.9L619.23 584.39L620.88 584.63L619.69 585.79L619.97 587.42L618.5 586.65L617.03 587.42L617.31 585.79L616.12 584.63L617.77 584.39Z" fill="#231f20"/>
<text x="550.2" y="661" font-size="8.4" stroke="#231f20" stroke-width="0.15" textLength="57.1" lengthAdjust="spacingAndGlyphs">AAV-GFP + PBS</text>
<text x="550.2" y="672.7" font-size="8.4" fill="#ec7a35" stroke="#ec7a35" stroke-width="0.15" textLength="59.3" lengthAdjust="spacingAndGlyphs">AAV-irisin + PBS</text>
<text x="550.2" y="684.3" font-size="8.4" fill="#35b935" stroke="#35b935" stroke-width="0.15" textLength="76" lengthAdjust="spacingAndGlyphs">AAV-GFP + IL-33trap</text>
<text x="550.2" y="696" font-size="8.4" fill="#9933bb" stroke="#9933bb" stroke-width="0.15" textLength="79" lengthAdjust="spacingAndGlyphs">AAV-irisin + IL-33trap</text>
<text x="0.3" y="759.6" font-size="13.5" fill="#000" font-weight="bold" stroke="#000" stroke-width="0.55">h</text>
<text x="200.8" y="759" font-size="9" stroke="#231f20" stroke-width="0.15" textLength="23.7" lengthAdjust="spacingAndGlyphs">iWAT</text>
<line x1="45.5" y1="775.5" x2="45.5" y2="912.3" stroke="#8c8c8c" stroke-width="1"/>
<line x1="39.9" y1="912.5" x2="45.4" y2="912.5" stroke="#a8a8a8" stroke-width="1"/>
<text x="36.1" y="915.3" font-size="8.4" text-anchor="end" stroke="#231f20" stroke-width="0.15" textLength="5.04" lengthAdjust="spacingAndGlyphs">0</text>
<line x1="39.9" y1="884.5" x2="45.4" y2="884.5" stroke="#a8a8a8" stroke-width="1"/>
<text x="36.1" y="887.95" font-size="8.4" text-anchor="end" stroke="#231f20" stroke-width="0.15" textLength="5.04" lengthAdjust="spacingAndGlyphs">1</text>
<line x1="39.9" y1="857.5" x2="45.4" y2="857.5" stroke="#a8a8a8" stroke-width="1"/>
<text x="36.1" y="860.6" font-size="8.4" text-anchor="end" stroke="#231f20" stroke-width="0.15" textLength="5.04" lengthAdjust="spacingAndGlyphs">2</text>
<line x1="39.9" y1="830.5" x2="45.4" y2="830.5" stroke="#a8a8a8" stroke-width="1"/>
<text x="36.1" y="833.25" font-size="8.4" text-anchor="end" stroke="#231f20" stroke-width="0.15" textLength="5.04" lengthAdjust="spacingAndGlyphs">3</text>
<line x1="39.9" y1="802.5" x2="45.4" y2="802.5" stroke="#a8a8a8" stroke-width="1"/>
<text x="36.1" y="805.9" font-size="8.4" text-anchor="end" stroke="#231f20" stroke-width="0.15" textLength="5.04" lengthAdjust="spacingAndGlyphs">4</text>
<line x1="39.9" y1="775.5" x2="45.4" y2="775.5" stroke="#a8a8a8" stroke-width="1"/>
<text x="36.1" y="778.55" font-size="8.4" text-anchor="end" stroke="#231f20" stroke-width="0.15" textLength="5.04" lengthAdjust="spacingAndGlyphs">5</text>
<line x1="40" y1="912.5" x2="386" y2="912.5" stroke="#a0a0a0" stroke-width="1.2"/>
<line x1="54.5" y1="912.3" x2="54.5" y2="917.9" stroke="#8c8c8c" stroke-width="1"/>
<rect x="46.85" y="884.95" width="3.1" height="27.35" fill="#000000"/>
<line x1="48.5" y1="883.58" x2="48.5" y2="884.95" stroke="#000000" stroke-width="1"/>
<circle cx="48.4" cy="884.68" r="2.25" fill="none" stroke="#000000" stroke-width="1.25"/>
<circle cx="48.4" cy="886.32" r="2.25" fill="none" stroke="#000000" stroke-width="1.25"/>
<rect x="50.85" y="863.07" width="3.1" height="49.23" fill="#ff8000"/>
<line x1="52.5" y1="854.04" x2="52.5" y2="863.07" stroke="#ff8000" stroke-width="1"/>
<circle cx="52.4" cy="854.04" r="2.25" fill="none" stroke="#ff8000" stroke-width="1.25"/>
<circle cx="52.4" cy="862.25" r="2.25" fill="none" stroke="#ff8000" stroke-width="1.25"/>
<circle cx="52.4" cy="866.9" r="2.25" fill="none" stroke="#ff8000" stroke-width="1.25"/>
<rect x="54.85" y="882.21" width="3.1" height="30.09" fill="#00b400"/>
<line x1="56.5" y1="879.48" x2="56.5" y2="882.21" stroke="#00b400" stroke-width="1"/>
<circle cx="56.4" cy="880.03" r="2.25" fill="none" stroke="#00b400" stroke-width="1.25"/>
<circle cx="56.4" cy="885.77" r="2.25" fill="none" stroke="#00b400" stroke-width="1.25"/>
<rect x="58.85" y="883.58" width="3.1" height="28.72" fill="#9900dd"/>
<line x1="60.5" y1="879.48" x2="60.5" y2="883.58" stroke="#9900dd" stroke-width="1"/>
<circle cx="60.4" cy="879.48" r="2.25" fill="none" stroke="#9900dd" stroke-width="1.25"/>
<circle cx="60.4" cy="884.68" r="2.25" fill="none" stroke="#9900dd" stroke-width="1.25"/>
<text x="59.3" y="925.2" font-size="8.4" text-anchor="end" stroke="#231f20" stroke-width="0.15" font-style="italic" transform="rotate(-45 59.3 925.2)" textLength="24.29" lengthAdjust="spacingAndGlyphs">Fabp4</text>
<line x1="73.5" y1="912.3" x2="73.5" y2="917.9" stroke="#8c8c8c" stroke-width="1"/>
<rect x="65.83" y="884.95" width="3.1" height="27.35" fill="#000000"/>
<line x1="67.5" y1="882.21" x2="67.5" y2="884.95" stroke="#000000" stroke-width="1"/>
<circle cx="67.38" cy="882.21" r="2.25" fill="none" stroke="#000000" stroke-width="1.25"/>
<circle cx="67.38" cy="885.77" r="2.25" fill="none" stroke="#000000" stroke-width="1.25"/>
<rect x="69.83" y="865.8" width="3.1" height="46.5" fill="#ff8000"/>
<line x1="71.5" y1="848.3" x2="71.5" y2="865.8" stroke="#ff8000" stroke-width="1"/>
<circle cx="71.38" cy="848.3" r="2.25" fill="none" stroke="#ff8000" stroke-width="1.25"/>
<circle cx="71.38" cy="854.59" r="2.25" fill="none" stroke="#ff8000" stroke-width="1.25"/>
<circle cx="71.38" cy="872.92" r="2.25" fill="none" stroke="#ff8000" stroke-width="1.25"/>
<rect x="73.83" y="890.42" width="3.1" height="21.88" fill="#00b400"/>
<line x1="75.5" y1="884.68" x2="75.5" y2="890.42" stroke="#00b400" stroke-width="1"/>
<circle cx="75.38" cy="884.68" r="2.25" fill="none" stroke="#00b400" stroke-width="1.25"/>
<circle cx="75.38" cy="890.42" r="2.25" fill="none" stroke="#00b400" stroke-width="1.25"/>
<circle cx="75.38" cy="896.44" r="2.25" fill="none" stroke="#00b400" stroke-width="1.25"/>
<rect x="77.83" y="879.48" width="3.1" height="32.82" fill="#9900dd"/>
<line x1="79.5" y1="871" x2="79.5" y2="879.48" stroke="#9900dd" stroke-width="1"/>
<circle cx="79.38" cy="871" r="2.25" fill="none" stroke="#9900dd" stroke-width="1.25"/>
<circle cx="79.38" cy="879.48" r="2.25" fill="none" stroke="#9900dd" stroke-width="1.25"/>
<circle cx="79.38" cy="882.21" r="2.25" fill="none" stroke="#9900dd" stroke-width="1.25"/>
<text x="78.28" y="925.2" font-size="8.4" text-anchor="end" stroke="#231f20" stroke-width="0.15" font-style="italic" transform="rotate(-45 78.28 925.2)" textLength="22.86" lengthAdjust="spacingAndGlyphs">Pparg</text>
<line x1="92.5" y1="912.3" x2="92.5" y2="917.9" stroke="#8c8c8c" stroke-width="1"/>
<rect x="84.81" y="886.32" width="3.1" height="25.98" fill="#000000"/>
<line x1="86.5" y1="880.3" x2="86.5" y2="886.32" stroke="#000000" stroke-width="1"/>
<circle cx="86.36" cy="880.3" r="2.25" fill="none" stroke="#000000" stroke-width="1.25"/>
<circle cx="86.36" cy="888.23" r="2.25" fill="none" stroke="#000000" stroke-width="1.25"/>
<rect x="88.81" y="860.33" width="3.1" height="51.97" fill="#ff8000"/>
<line x1="90.5" y1="852.95" x2="90.5" y2="860.33" stroke="#ff8000" stroke-width="1"/>
<circle cx="90.36" cy="852.95" r="2.25" fill="none" stroke="#ff8000" stroke-width="1.25"/>
<circle cx="90.36" cy="860.06" r="2.25" fill="none" stroke="#ff8000" stroke-width="1.25"/>
<circle cx="90.36" cy="866.9" r="2.25" fill="none" stroke="#ff8000" stroke-width="1.25"/>
<rect x="92.81" y="891.79" width="3.1" height="20.51" fill="#00b400"/>
<line x1="94.5" y1="886.59" x2="94.5" y2="891.79" stroke="#00b400" stroke-width="1"/>
<circle cx="94.36" cy="886.59" r="2.25" fill="none" stroke="#00b400" stroke-width="1.25"/>
<circle cx="94.36" cy="890.97" r="2.25" fill="none" stroke="#00b400" stroke-width="1.25"/>
<circle cx="94.36" cy="893.98" r="2.25" fill="none" stroke="#00b400" stroke-width="1.25"/>
<rect x="96.81" y="874.01" width="3.1" height="38.29" fill="#9900dd"/>
<line x1="98.5" y1="872.92" x2="98.5" y2="874.01" stroke="#9900dd" stroke-width="1"/>
<circle cx="98.36" cy="872.92" r="2.25" fill="none" stroke="#9900dd" stroke-width="1.25"/>
<circle cx="98.36" cy="874.83" r="2.25" fill="none" stroke="#9900dd" stroke-width="1.25"/>
<text x="97.26" y="925.2" font-size="8.4" text-anchor="end" stroke="#231f20" stroke-width="0.15" font-style="italic" transform="rotate(-45 97.26 925.2)" textLength="36.68" lengthAdjust="spacingAndGlyphs">Ppargc1a</text>
<line x1="111.5" y1="912.3" x2="111.5" y2="917.9" stroke="#8c8c8c" stroke-width="1"/>
<rect x="103.79" y="884.95" width="3.1" height="27.35" fill="#000000"/>
<line x1="105.5" y1="883.86" x2="105.5" y2="884.95" stroke="#000000" stroke-width="1"/>
<circle cx="105.34" cy="883.86" r="2.25" fill="none" stroke="#000000" stroke-width="1.25"/>
<circle cx="105.34" cy="886.59" r="2.25" fill="none" stroke="#000000" stroke-width="1.25"/>
<rect x="107.79" y="865.8" width="3.1" height="46.5" fill="#ff8000"/>
<line x1="109.5" y1="858.42" x2="109.5" y2="865.8" stroke="#ff8000" stroke-width="1"/>
<circle cx="109.34" cy="858.42" r="2.25" fill="none" stroke="#ff8000" stroke-width="1.25"/>
<circle cx="109.34" cy="865.26" r="2.25" fill="none" stroke="#ff8000" stroke-width="1.25"/>
<rect x="111.79" y="884.95" width="3.1" height="27.35" fill="#00b400"/>
<line x1="113.5" y1="879.48" x2="113.5" y2="884.95" stroke="#00b400" stroke-width="1"/>
<circle cx="113.34" cy="879.48" r="2.25" fill="none" stroke="#00b400" stroke-width="1.25"/>
<circle cx="113.34" cy="884.68" r="2.25" fill="none" stroke="#00b400" stroke-width="1.25"/>
<circle cx="113.34" cy="889.33" r="2.25" fill="none" stroke="#00b400" stroke-width="1.25"/>
<rect x="115.79" y="886.32" width="3.1" height="25.98" fill="#9900dd"/>
<line x1="117.5" y1="885.77" x2="117.5" y2="886.32" stroke="#9900dd" stroke-width="1"/>
<circle cx="117.34" cy="885.77" r="2.25" fill="none" stroke="#9900dd" stroke-width="1.25"/>
<circle cx="117.34" cy="888.23" r="2.25" fill="none" stroke="#9900dd" stroke-width="1.25"/>
<text x="116.24" y="925.2" font-size="8.4" text-anchor="end" stroke="#231f20" stroke-width="0.15" font-style="italic" transform="rotate(-45 116.24 925.2)" textLength="30" lengthAdjust="spacingAndGlyphs">Prdm16</text>
<line x1="130.5" y1="912.3" x2="130.5" y2="917.9" stroke="#8c8c8c" stroke-width="1"/>
<rect x="122.77" y="884.95" width="3.1" height="27.35" fill="#000000"/>
<line x1="124.5" y1="882.76" x2="124.5" y2="884.95" stroke="#000000" stroke-width="1"/>
<circle cx="124.32" cy="882.76" r="2.25" fill="none" stroke="#000000" stroke-width="1.25"/>
<circle cx="124.32" cy="885.77" r="2.25" fill="none" stroke="#000000" stroke-width="1.25"/>
<rect x="126.77" y="878.11" width="3.1" height="34.19" fill="#ff8000"/>
<line x1="128.5" y1="878.11" x2="128.5" y2="878.11" stroke="#ff8000" stroke-width="1"/>
<circle cx="128.32" cy="878.11" r="2.25" fill="none" stroke="#ff8000" stroke-width="1.25"/>
<circle cx="128.32" cy="879.48" r="2.25" fill="none" stroke="#ff8000" stroke-width="1.25"/>
<rect x="130.77" y="879.48" width="3.1" height="32.82" fill="#00b400"/>
<line x1="132.5" y1="874.56" x2="132.5" y2="879.48" stroke="#00b400" stroke-width="1"/>
<circle cx="132.32" cy="874.56" r="2.25" fill="none" stroke="#00b400" stroke-width="1.25"/>
<circle cx="132.32" cy="880.03" r="2.25" fill="none" stroke="#00b400" stroke-width="1.25"/>
<rect x="134.77" y="886.32" width="3.1" height="25.98" fill="#9900dd"/>
<line x1="136.5" y1="879.48" x2="136.5" y2="886.32" stroke="#9900dd" stroke-width="1"/>
<circle cx="136.32" cy="879.48" r="2.25" fill="none" stroke="#9900dd" stroke-width="1.25"/>
<circle cx="136.32" cy="886.59" r="2.25" fill="none" stroke="#9900dd" stroke-width="1.25"/>
<circle cx="136.32" cy="890.42" r="2.25" fill="none" stroke="#9900dd" stroke-width="1.25"/>
<text x="135.22" y="925.2" font-size="8.4" text-anchor="end" stroke="#231f20" stroke-width="0.15" font-style="italic" transform="rotate(-45 135.22 925.2)" textLength="26.68" lengthAdjust="spacingAndGlyphs">Adipoq</text>
<line x1="149.5" y1="912.3" x2="149.5" y2="917.9" stroke="#8c8c8c" stroke-width="1"/>
<rect x="141.75" y="886.32" width="3.1" height="25.98" fill="#000000"/>
<line x1="143.5" y1="879.48" x2="143.5" y2="886.32" stroke="#000000" stroke-width="1"/>
<circle cx="143.3" cy="879.48" r="2.25" fill="none" stroke="#000000" stroke-width="1.25"/>
<circle cx="143.3" cy="883.58" r="2.25" fill="none" stroke="#000000" stroke-width="1.25"/>
<circle cx="143.3" cy="891.24" r="2.25" fill="none" stroke="#000000" stroke-width="1.25"/>
<rect x="145.75" y="832.98" width="3.1" height="79.31" fill="#ff8000"/>
<line x1="147.5" y1="811.93" x2="147.5" y2="832.98" stroke="#ff8000" stroke-width="1"/>
<circle cx="147.3" cy="811.93" r="2.25" fill="none" stroke="#ff8000" stroke-width="1.25"/>
<circle cx="147.3" cy="831.89" r="2.25" fill="none" stroke="#ff8000" stroke-width="1.25"/>
<circle cx="147.3" cy="839" r="2.25" fill="none" stroke="#ff8000" stroke-width="1.25"/>
<circle cx="147.3" cy="841.19" r="2.25" fill="none" stroke="#ff8000" stroke-width="1.25"/>
<rect x="149.75" y="887.68" width="3.1" height="24.62" fill="#00b400"/>
<line x1="151.5" y1="880.3" x2="151.5" y2="887.68" stroke="#00b400" stroke-width="1"/>
<circle cx="151.3" cy="880.3" r="2.25" fill="none" stroke="#00b400" stroke-width="1.25"/>
<circle cx="151.3" cy="886.86" r="2.25" fill="none" stroke="#00b400" stroke-width="1.25"/>
<circle cx="151.3" cy="889.33" r="2.25" fill="none" stroke="#00b400" stroke-width="1.25"/>
<rect x="153.75" y="871.27" width="3.1" height="41.03" fill="#9900dd"/>
<line x1="155.5" y1="853.77" x2="155.5" y2="871.27" stroke="#9900dd" stroke-width="1"/>
<circle cx="155.3" cy="853.77" r="2.25" fill="none" stroke="#9900dd" stroke-width="1.25"/>
<circle cx="155.3" cy="870.45" r="2.25" fill="none" stroke="#9900dd" stroke-width="1.25"/>
<circle cx="155.3" cy="877.57" r="2.25" fill="none" stroke="#9900dd" stroke-width="1.25"/>
<text x="154.2" y="925.2" font-size="8.4" text-anchor="end" stroke="#231f20" stroke-width="0.15" font-style="italic" transform="rotate(-45 154.2 925.2)" textLength="20" lengthAdjust="spacingAndGlyphs">Ucp1</text>
<line x1="168.5" y1="912.3" x2="168.5" y2="917.9" stroke="#8c8c8c" stroke-width="1"/>
<rect x="160.73" y="887.68" width="3.1" height="24.62" fill="#000000"/>
<line x1="162.5" y1="874.56" x2="162.5" y2="887.68" stroke="#000000" stroke-width="1"/>
<circle cx="162.28" cy="874.56" r="2.25" fill="none" stroke="#000000" stroke-width="1.25"/>
<circle cx="162.28" cy="886.86" r="2.25" fill="none" stroke="#000000" stroke-width="1.25"/>
<circle cx="162.28" cy="891.79" r="2.25" fill="none" stroke="#000000" stroke-width="1.25"/>
<rect x="164.73" y="879.48" width="3.1" height="32.82" fill="#ff8000"/>
<line x1="166.5" y1="880.03" x2="166.5" y2="879.48" stroke="#ff8000" stroke-width="1"/>
<circle cx="166.28" cy="880.03" r="2.25" fill="none" stroke="#ff8000" stroke-width="1.25"/>
<circle cx="166.28" cy="884.13" r="2.25" fill="none" stroke="#ff8000" stroke-width="1.25"/>
<circle cx="166.28" cy="888.23" r="2.25" fill="none" stroke="#ff8000" stroke-width="1.25"/>
<rect x="168.73" y="863.07" width="3.1" height="49.23" fill="#00b400"/>
<line x1="170.5" y1="852.95" x2="170.5" y2="863.07" stroke="#00b400" stroke-width="1"/>
<circle cx="170.28" cy="852.95" r="2.25" fill="none" stroke="#00b400" stroke-width="1.25"/>
<circle cx="170.28" cy="858.42" r="2.25" fill="none" stroke="#00b400" stroke-width="1.25"/>
<circle cx="170.28" cy="868.27" r="2.25" fill="none" stroke="#00b400" stroke-width="1.25"/>
<rect x="172.73" y="863.07" width="3.1" height="49.23" fill="#9900dd"/>
<line x1="174.5" y1="811.38" x2="174.5" y2="863.07" stroke="#9900dd" stroke-width="1"/>
<circle cx="174.28" cy="811.38" r="2.25" fill="none" stroke="#9900dd" stroke-width="1.25"/>
<circle cx="174.28" cy="862.25" r="2.25" fill="none" stroke="#9900dd" stroke-width="1.25"/>
<circle cx="174.28" cy="878.66" r="2.25" fill="none" stroke="#9900dd" stroke-width="1.25"/>
<circle cx="174.28" cy="893.98" r="2.25" fill="none" stroke="#9900dd" stroke-width="1.25"/>
<text x="173.18" y="925.2" font-size="8.4" text-anchor="end" stroke="#231f20" stroke-width="0.15" font-style="italic" transform="rotate(-45 173.18 925.2)" textLength="14.29" lengthAdjust="spacingAndGlyphs">Lep</text>
<line x1="187.5" y1="912.3" x2="187.5" y2="917.9" stroke="#8c8c8c" stroke-width="1"/>
<rect x="179.71" y="884.95" width="3.1" height="27.35" fill="#000000"/>
<line x1="181.5" y1="878.11" x2="181.5" y2="884.95" stroke="#000000" stroke-width="1"/>
<circle cx="181.26" cy="878.11" r="2.25" fill="none" stroke="#000000" stroke-width="1.25"/>
<circle cx="181.26" cy="885.77" r="2.25" fill="none" stroke="#000000" stroke-width="1.25"/>
<circle cx="181.26" cy="891.79" r="2.25" fill="none" stroke="#000000" stroke-width="1.25"/>
<rect x="183.71" y="857.6" width="3.1" height="54.7" fill="#ff8000"/>
<line x1="185.5" y1="854.59" x2="185.5" y2="857.6" stroke="#ff8000" stroke-width="1"/>
<circle cx="185.26" cy="854.59" r="2.25" fill="none" stroke="#ff8000" stroke-width="1.25"/>
<circle cx="185.26" cy="856.51" r="2.25" fill="none" stroke="#ff8000" stroke-width="1.25"/>
<circle cx="185.26" cy="872.92" r="2.25" fill="none" stroke="#ff8000" stroke-width="1.25"/>
<rect x="187.71" y="884.95" width="3.1" height="27.35" fill="#00b400"/>
<line x1="189.5" y1="884.68" x2="189.5" y2="884.95" stroke="#00b400" stroke-width="1"/>
<circle cx="189.26" cy="884.68" r="2.25" fill="none" stroke="#00b400" stroke-width="1.25"/>
<rect x="191.71" y="875.38" width="3.1" height="36.92" fill="#9900dd"/>
<line x1="193.5" y1="868.54" x2="193.5" y2="875.38" stroke="#9900dd" stroke-width="1"/>
<circle cx="193.26" cy="868.54" r="2.25" fill="none" stroke="#9900dd" stroke-width="1.25"/>
<circle cx="193.26" cy="874.83" r="2.25" fill="none" stroke="#9900dd" stroke-width="1.25"/>
<circle cx="193.26" cy="880.03" r="2.25" fill="none" stroke="#9900dd" stroke-width="1.25"/>
<text x="192.16" y="925.2" font-size="8.4" text-anchor="end" stroke="#231f20" stroke-width="0.15" font-style="italic" transform="rotate(-45 192.16 925.2)" textLength="15.24" lengthAdjust="spacingAndGlyphs">Ckb</text>
<line x1="206.5" y1="912.3" x2="206.5" y2="917.9" stroke="#8c8c8c" stroke-width="1"/>
<rect x="198.69" y="882.21" width="3.1" height="30.09" fill="#000000"/>
<line x1="200.5" y1="881.67" x2="200.5" y2="882.21" stroke="#000000" stroke-width="1"/>
<circle cx="200.24" cy="881.67" r="2.25" fill="none" stroke="#000000" stroke-width="1.25"/>
<circle cx="200.24" cy="889.6" r="2.25" fill="none" stroke="#000000" stroke-width="1.25"/>
<rect x="202.69" y="854.87" width="3.1" height="57.44" fill="#ff8000"/>
<line x1="204.5" y1="850.22" x2="204.5" y2="854.87" stroke="#ff8000" stroke-width="1"/>
<circle cx="204.24" cy="850.22" r="2.25" fill="none" stroke="#ff8000" stroke-width="1.25"/>
<circle cx="204.24" cy="853.22" r="2.25" fill="none" stroke="#ff8000" stroke-width="1.25"/>
<circle cx="204.24" cy="870.18" r="2.25" fill="none" stroke="#ff8000" stroke-width="1.25"/>
<rect x="206.69" y="879.48" width="3.1" height="32.82" fill="#00b400"/>
<line x1="208.5" y1="872.37" x2="208.5" y2="879.48" stroke="#00b400" stroke-width="1"/>
<circle cx="208.24" cy="872.37" r="2.25" fill="none" stroke="#00b400" stroke-width="1.25"/>
<circle cx="208.24" cy="876.47" r="2.25" fill="none" stroke="#00b400" stroke-width="1.25"/>
<circle cx="208.24" cy="887.14" r="2.25" fill="none" stroke="#00b400" stroke-width="1.25"/>
<rect x="210.69" y="884.95" width="3.1" height="27.35" fill="#9900dd"/>
<line x1="212.5" y1="878.39" x2="212.5" y2="884.95" stroke="#9900dd" stroke-width="1"/>
<circle cx="212.24" cy="878.39" r="2.25" fill="none" stroke="#9900dd" stroke-width="1.25"/>
<circle cx="212.24" cy="884.13" r="2.25" fill="none" stroke="#9900dd" stroke-width="1.25"/>
<text x="211.14" y="925.2" font-size="8.4" text-anchor="end" stroke="#231f20" stroke-width="0.15" font-style="italic" transform="rotate(-45 211.14 925.2)" textLength="14.29" lengthAdjust="spacingAndGlyphs">Alpl</text>
<line x1="225.5" y1="912.3" x2="225.5" y2="917.9" stroke="#8c8c8c" stroke-width="1"/>
<rect x="217.67" y="884.95" width="3.1" height="27.35" fill="#000000"/>
<line x1="219.5" y1="882.49" x2="219.5" y2="884.95" stroke="#000000" stroke-width="1"/>
<circle cx="219.22" cy="882.49" r="2.25" fill="none" stroke="#000000" stroke-width="1.25"/>
<circle cx="219.22" cy="884.68" r="2.25" fill="none" stroke="#000000" stroke-width="1.25"/>
<rect x="221.67" y="887.68" width="3.1" height="24.62" fill="#ff8000"/>
<line x1="223.5" y1="885.5" x2="223.5" y2="887.68" stroke="#ff8000" stroke-width="1"/>
<circle cx="223.22" cy="885.5" r="2.25" fill="none" stroke="#ff8000" stroke-width="1.25"/>
<circle cx="223.22" cy="890.15" r="2.25" fill="none" stroke="#ff8000" stroke-width="1.25"/>
<rect x="225.67" y="882.21" width="3.1" height="30.09" fill="#00b400"/>
<line x1="227.5" y1="880.3" x2="227.5" y2="882.21" stroke="#00b400" stroke-width="1"/>
<circle cx="227.22" cy="880.3" r="2.25" fill="none" stroke="#00b400" stroke-width="1.25"/>
<circle cx="227.22" cy="881.67" r="2.25" fill="none" stroke="#00b400" stroke-width="1.25"/>
<rect x="229.67" y="882.21" width="3.1" height="30.09" fill="#9900dd"/>
<line x1="231.5" y1="874.83" x2="231.5" y2="882.21" stroke="#9900dd" stroke-width="1"/>
<circle cx="231.22" cy="874.83" r="2.25" fill="none" stroke="#9900dd" stroke-width="1.25"/>
<circle cx="231.22" cy="884.13" r="2.25" fill="none" stroke="#9900dd" stroke-width="1.25"/>
<text x="230.12" y="925.2" font-size="8.4" text-anchor="end" stroke="#231f20" stroke-width="0.15" font-style="italic" transform="rotate(-45 230.12 925.2)" textLength="20.95" lengthAdjust="spacingAndGlyphs">Gatm</text>
<line x1="244.5" y1="912.3" x2="244.5" y2="917.9" stroke="#8c8c8c" stroke-width="1"/>
<rect x="236.65" y="886.32" width="3.1" height="25.98" fill="#000000"/>
<line x1="238.5" y1="869.36" x2="238.5" y2="886.32" stroke="#000000" stroke-width="1"/>
<circle cx="238.2" cy="869.36" r="2.25" fill="none" stroke="#000000" stroke-width="1.25"/>
<circle cx="238.2" cy="887.14" r="2.25" fill="none" stroke="#000000" stroke-width="1.25"/>
<circle cx="238.2" cy="896.44" r="2.25" fill="none" stroke="#000000" stroke-width="1.25"/>
<rect x="240.65" y="884.95" width="3.1" height="27.35" fill="#ff8000"/>
<line x1="242.5" y1="877.84" x2="242.5" y2="884.95" stroke="#ff8000" stroke-width="1"/>
<circle cx="242.2" cy="877.84" r="2.25" fill="none" stroke="#ff8000" stroke-width="1.25"/>
<circle cx="242.2" cy="888.51" r="2.25" fill="none" stroke="#ff8000" stroke-width="1.25"/>
<rect x="244.65" y="874.01" width="3.1" height="38.29" fill="#00b400"/>
<line x1="246.5" y1="864.44" x2="246.5" y2="874.01" stroke="#00b400" stroke-width="1"/>
<circle cx="246.2" cy="867.17" r="2.25" fill="none" stroke="#00b400" stroke-width="1.25"/>
<circle cx="246.2" cy="880.85" r="2.25" fill="none" stroke="#00b400" stroke-width="1.25"/>
<circle cx="246.2" cy="899.45" r="2.25" fill="none" stroke="#00b400" stroke-width="1.25"/>
<rect x="248.65" y="879.48" width="3.1" height="32.82" fill="#9900dd"/>
<line x1="250.5" y1="876.47" x2="250.5" y2="879.48" stroke="#9900dd" stroke-width="1"/>
<circle cx="250.2" cy="876.47" r="2.25" fill="none" stroke="#9900dd" stroke-width="1.25"/>
<circle cx="250.2" cy="879.48" r="2.25" fill="none" stroke="#9900dd" stroke-width="1.25"/>
<circle cx="250.2" cy="890.15" r="2.25" fill="none" stroke="#9900dd" stroke-width="1.25"/>
<text x="249.1" y="925.2" font-size="8.4" text-anchor="end" stroke="#231f20" stroke-width="0.15" font-style="italic" transform="rotate(-45 249.1 925.2)" textLength="24.77" lengthAdjust="spacingAndGlyphs">Enpp1</text>
<line x1="263.5" y1="912.3" x2="263.5" y2="917.9" stroke="#8c8c8c" stroke-width="1"/>
<rect x="255.63" y="884.95" width="3.1" height="27.35" fill="#000000"/>
<line x1="257.5" y1="871.27" x2="257.5" y2="884.95" stroke="#000000" stroke-width="1"/>
<circle cx="257.18" cy="871.27" r="2.25" fill="none" stroke="#000000" stroke-width="1.25"/>
<circle cx="257.18" cy="886.59" r="2.25" fill="none" stroke="#000000" stroke-width="1.25"/>
<circle cx="257.18" cy="891.79" r="2.25" fill="none" stroke="#000000" stroke-width="1.25"/>
<rect x="259.63" y="857.6" width="3.1" height="54.7" fill="#ff8000"/>
<line x1="261.5" y1="853.22" x2="261.5" y2="857.6" stroke="#ff8000" stroke-width="1"/>
<circle cx="261.18" cy="853.22" r="2.25" fill="none" stroke="#ff8000" stroke-width="1.25"/>
<circle cx="261.18" cy="857.87" r="2.25" fill="none" stroke="#ff8000" stroke-width="1.25"/>
<rect x="263.63" y="876.75" width="3.1" height="35.55" fill="#00b400"/>
<line x1="265.5" y1="867.17" x2="265.5" y2="876.75" stroke="#00b400" stroke-width="1"/>
<circle cx="265.18" cy="867.17" r="2.25" fill="none" stroke="#00b400" stroke-width="1.25"/>
<circle cx="265.18" cy="882.49" r="2.25" fill="none" stroke="#00b400" stroke-width="1.25"/>
<circle cx="265.18" cy="891.79" r="2.25" fill="none" stroke="#00b400" stroke-width="1.25"/>
<rect x="267.63" y="868.54" width="3.1" height="43.76" fill="#9900dd"/>
<line x1="269.5" y1="866.08" x2="269.5" y2="868.54" stroke="#9900dd" stroke-width="1"/>
<circle cx="269.18" cy="866.08" r="2.25" fill="none" stroke="#9900dd" stroke-width="1.25"/>
<circle cx="269.18" cy="867.99" r="2.25" fill="none" stroke="#9900dd" stroke-width="1.25"/>
<text x="268.08" y="925.2" font-size="8.4" text-anchor="end" stroke="#231f20" stroke-width="0.15" font-style="italic" transform="rotate(-45 268.08 925.2)" textLength="38.59" lengthAdjust="spacingAndGlyphs">Phospho1</text>
<line x1="282.5" y1="912.3" x2="282.5" y2="917.9" stroke="#8c8c8c" stroke-width="1"/>
<rect x="274.61" y="884.95" width="3.1" height="27.35" fill="#000000"/>
<line x1="276.5" y1="880.85" x2="276.5" y2="884.95" stroke="#000000" stroke-width="1"/>
<circle cx="276.16" cy="880.85" r="2.25" fill="none" stroke="#000000" stroke-width="1.25"/>
<circle cx="276.16" cy="886.59" r="2.25" fill="none" stroke="#000000" stroke-width="1.25"/>
<rect x="278.61" y="875.38" width="3.1" height="36.92" fill="#ff8000"/>
<line x1="280.5" y1="874.83" x2="280.5" y2="875.38" stroke="#ff8000" stroke-width="1"/>
<circle cx="280.16" cy="874.83" r="2.25" fill="none" stroke="#ff8000" stroke-width="1.25"/>
<circle cx="280.16" cy="876.47" r="2.25" fill="none" stroke="#ff8000" stroke-width="1.25"/>
<rect x="282.61" y="882.21" width="3.1" height="30.09" fill="#00b400"/>
<line x1="284.5" y1="873.19" x2="284.5" y2="882.21" stroke="#00b400" stroke-width="1"/>
<circle cx="284.16" cy="873.19" r="2.25" fill="none" stroke="#00b400" stroke-width="1.25"/>
<circle cx="284.16" cy="884.13" r="2.25" fill="none" stroke="#00b400" stroke-width="1.25"/>
<circle cx="284.16" cy="890.15" r="2.25" fill="none" stroke="#00b400" stroke-width="1.25"/>
<rect x="286.61" y="890.42" width="3.1" height="21.88" fill="#9900dd"/>
<line x1="288.5" y1="887.68" x2="288.5" y2="890.42" stroke="#9900dd" stroke-width="1"/>
<circle cx="288.16" cy="887.68" r="2.25" fill="none" stroke="#9900dd" stroke-width="1.25"/>
<circle cx="288.16" cy="892.61" r="2.25" fill="none" stroke="#9900dd" stroke-width="1.25"/>
<text x="287.06" y="925.2" font-size="8.4" text-anchor="end" stroke="#231f20" stroke-width="0.15" font-style="italic" transform="rotate(-45 287.06 925.2)" textLength="26.2" lengthAdjust="spacingAndGlyphs">Slc6a8</text>
<line x1="301.5" y1="912.3" x2="301.5" y2="917.9" stroke="#8c8c8c" stroke-width="1"/>
<rect x="293.59" y="884.95" width="3.1" height="27.35" fill="#000000"/>
<line x1="295.5" y1="880.3" x2="295.5" y2="884.95" stroke="#000000" stroke-width="1"/>
<circle cx="295.14" cy="880.3" r="2.25" fill="none" stroke="#000000" stroke-width="1.25"/>
<circle cx="295.14" cy="882.49" r="2.25" fill="none" stroke="#000000" stroke-width="1.25"/>
<circle cx="295.14" cy="890.15" r="2.25" fill="none" stroke="#000000" stroke-width="1.25"/>
<rect x="297.59" y="883.58" width="3.1" height="28.72" fill="#ff8000"/>
<line x1="299.5" y1="874.28" x2="299.5" y2="883.58" stroke="#ff8000" stroke-width="1"/>
<circle cx="299.14" cy="874.28" r="2.25" fill="none" stroke="#ff8000" stroke-width="1.25"/>
<rect x="301.59" y="884.95" width="3.1" height="27.35" fill="#00b400"/>
<line x1="303.5" y1="884.13" x2="303.5" y2="884.95" stroke="#00b400" stroke-width="1"/>
<circle cx="303.14" cy="884.13" r="2.25" fill="none" stroke="#00b400" stroke-width="1.25"/>
<circle cx="303.14" cy="886.59" r="2.25" fill="none" stroke="#00b400" stroke-width="1.25"/>
<rect x="305.59" y="887.68" width="3.1" height="24.62" fill="#9900dd"/>
<line x1="307.5" y1="884.13" x2="307.5" y2="887.68" stroke="#9900dd" stroke-width="1"/>
<circle cx="307.14" cy="884.13" r="2.25" fill="none" stroke="#9900dd" stroke-width="1.25"/>
<circle cx="307.14" cy="890.15" r="2.25" fill="none" stroke="#9900dd" stroke-width="1.25"/>
<text x="306.04" y="925.2" font-size="8.4" text-anchor="end" stroke="#231f20" stroke-width="0.15" font-style="italic" transform="rotate(-45 306.04 925.2)" textLength="17.61" lengthAdjust="spacingAndGlyphs">Ckm</text>
<line x1="320.5" y1="912.3" x2="320.5" y2="917.9" stroke="#8c8c8c" stroke-width="1"/>
<rect x="312.57" y="890.42" width="3.1" height="21.88" fill="#000000"/>
<line x1="314.5" y1="874.01" x2="314.5" y2="890.42" stroke="#000000" stroke-width="1"/>
<circle cx="314.12" cy="874.01" r="2.25" fill="none" stroke="#000000" stroke-width="1.25"/>
<circle cx="314.12" cy="890.69" r="2.25" fill="none" stroke="#000000" stroke-width="1.25"/>
<rect x="316.57" y="811.93" width="3.1" height="100.37" fill="#ff8000"/>
<line x1="318.5" y1="797.43" x2="318.5" y2="811.93" stroke="#ff8000" stroke-width="1"/>
<circle cx="318.12" cy="799.62" r="2.25" fill="none" stroke="#ff8000" stroke-width="1.25"/>
<circle cx="318.12" cy="802.63" r="2.25" fill="none" stroke="#ff8000" stroke-width="1.25"/>
<circle cx="318.12" cy="830.25" r="2.25" fill="none" stroke="#ff8000" stroke-width="1.25"/>
<rect x="320.57" y="887.68" width="3.1" height="24.62" fill="#00b400"/>
<line x1="322.5" y1="883.31" x2="322.5" y2="887.68" stroke="#00b400" stroke-width="1"/>
<circle cx="322.12" cy="883.31" r="2.25" fill="none" stroke="#00b400" stroke-width="1.25"/>
<circle cx="322.12" cy="890.15" r="2.25" fill="none" stroke="#00b400" stroke-width="1.25"/>
<rect x="324.57" y="865.8" width="3.1" height="46.5" fill="#9900dd"/>
<line x1="326.5" y1="860.06" x2="326.5" y2="865.8" stroke="#9900dd" stroke-width="1"/>
<circle cx="326.12" cy="860.06" r="2.25" fill="none" stroke="#9900dd" stroke-width="1.25"/>
<circle cx="326.12" cy="864.16" r="2.25" fill="none" stroke="#9900dd" stroke-width="1.25"/>
<text x="325.02" y="925.2" font-size="8.4" text-anchor="end" stroke="#231f20" stroke-width="0.15" font-style="italic" transform="rotate(-45 325.02 925.2)" textLength="17.62" lengthAdjust="spacingAndGlyphs">Dio2</text>
<line x1="339.5" y1="912.3" x2="339.5" y2="917.9" stroke="#8c8c8c" stroke-width="1"/>
<rect x="331.55" y="884.95" width="3.1" height="27.35" fill="#000000"/>
<line x1="333.5" y1="857.05" x2="333.5" y2="884.95" stroke="#000000" stroke-width="1"/>
<circle cx="333.1" cy="857.05" r="2.25" fill="none" stroke="#000000" stroke-width="1.25"/>
<circle cx="333.1" cy="904.09" r="2.25" fill="none" stroke="#000000" stroke-width="1.25"/>
<rect x="335.55" y="822.04" width="3.1" height="90.25" fill="#ff8000"/>
<line x1="337.5" y1="800.44" x2="337.5" y2="822.04" stroke="#ff8000" stroke-width="1"/>
<circle cx="337.1" cy="800.44" r="2.25" fill="none" stroke="#ff8000" stroke-width="1.25"/>
<circle cx="337.1" cy="822.04" r="2.25" fill="none" stroke="#ff8000" stroke-width="1.25"/>
<circle cx="337.1" cy="839.55" r="2.25" fill="none" stroke="#ff8000" stroke-width="1.25"/>
<rect x="339.55" y="874.01" width="3.1" height="38.29" fill="#00b400"/>
<line x1="341.5" y1="865.53" x2="341.5" y2="874.01" stroke="#00b400" stroke-width="1"/>
<circle cx="341.1" cy="865.53" r="2.25" fill="none" stroke="#00b400" stroke-width="1.25"/>
<circle cx="341.1" cy="874.83" r="2.25" fill="none" stroke="#00b400" stroke-width="1.25"/>
<circle cx="341.1" cy="878.39" r="2.25" fill="none" stroke="#00b400" stroke-width="1.25"/>
<rect x="343.55" y="871.27" width="3.1" height="41.03" fill="#9900dd"/>
<line x1="345.5" y1="863.34" x2="345.5" y2="871.27" stroke="#9900dd" stroke-width="1"/>
<circle cx="345.1" cy="863.34" r="2.25" fill="none" stroke="#9900dd" stroke-width="1.25"/>
<circle cx="345.1" cy="872.37" r="2.25" fill="none" stroke="#9900dd" stroke-width="1.25"/>
<text x="344" y="925.2" font-size="8.4" text-anchor="end" stroke="#231f20" stroke-width="0.15" font-style="italic" transform="rotate(-45 344 925.2)" textLength="23.34" lengthAdjust="spacingAndGlyphs">Elovl3</text>
<line x1="358.5" y1="912.3" x2="358.5" y2="917.9" stroke="#8c8c8c" stroke-width="1"/>
<rect x="350.53" y="884.95" width="3.1" height="27.35" fill="#000000"/>
<line x1="352.5" y1="882.49" x2="352.5" y2="884.95" stroke="#000000" stroke-width="1"/>
<circle cx="352.08" cy="882.49" r="2.25" fill="none" stroke="#000000" stroke-width="1.25"/>
<circle cx="352.08" cy="884.68" r="2.25" fill="none" stroke="#000000" stroke-width="1.25"/>
<circle cx="352.08" cy="888.51" r="2.25" fill="none" stroke="#000000" stroke-width="1.25"/>
<rect x="354.53" y="857.6" width="3.1" height="54.7" fill="#ff8000"/>
<line x1="356.5" y1="851.86" x2="356.5" y2="857.6" stroke="#ff8000" stroke-width="1"/>
<circle cx="356.08" cy="851.86" r="2.25" fill="none" stroke="#ff8000" stroke-width="1.25"/>
<circle cx="356.08" cy="856.51" r="2.25" fill="none" stroke="#ff8000" stroke-width="1.25"/>
<rect x="358.53" y="884.95" width="3.1" height="27.35" fill="#00b400"/>
<line x1="360.5" y1="876.47" x2="360.5" y2="884.95" stroke="#00b400" stroke-width="1"/>
<circle cx="360.08" cy="876.47" r="2.25" fill="none" stroke="#00b400" stroke-width="1.25"/>
<circle cx="360.08" cy="882.49" r="2.25" fill="none" stroke="#00b400" stroke-width="1.25"/>
<circle cx="360.08" cy="898.9" r="2.25" fill="none" stroke="#00b400" stroke-width="1.25"/>
<rect x="362.53" y="882.21" width="3.1" height="30.09" fill="#9900dd"/>
<line x1="364.5" y1="879.48" x2="364.5" y2="882.21" stroke="#9900dd" stroke-width="1"/>
<circle cx="364.08" cy="879.48" r="2.25" fill="none" stroke="#9900dd" stroke-width="1.25"/>
<circle cx="364.08" cy="884.13" r="2.25" fill="none" stroke="#9900dd" stroke-width="1.25"/>
<text x="362.98" y="925.2" font-size="8.4" text-anchor="end" stroke="#231f20" stroke-width="0.15" font-style="italic" transform="rotate(-45 362.98 925.2)" textLength="24.77" lengthAdjust="spacingAndGlyphs">Cox8b</text>
<line x1="377.5" y1="912.3" x2="377.5" y2="917.9" stroke="#8c8c8c" stroke-width="1"/>
<rect x="369.51" y="884.95" width="3.1" height="27.35" fill="#000000"/>
<line x1="371.5" y1="880.3" x2="371.5" y2="884.95" stroke="#000000" stroke-width="1"/>
<circle cx="371.06" cy="880.3" r="2.25" fill="none" stroke="#000000" stroke-width="1.25"/>
<circle cx="371.06" cy="886.59" r="2.25" fill="none" stroke="#000000" stroke-width="1.25"/>
<rect x="373.51" y="852.13" width="3.1" height="60.17" fill="#ff8000"/>
<line x1="375.5" y1="840.92" x2="375.5" y2="852.13" stroke="#ff8000" stroke-width="1"/>
<circle cx="375.06" cy="840.92" r="2.25" fill="none" stroke="#ff8000" stroke-width="1.25"/>
<circle cx="375.06" cy="849.67" r="2.25" fill="none" stroke="#ff8000" stroke-width="1.25"/>
<circle cx="375.06" cy="862.52" r="2.25" fill="none" stroke="#ff8000" stroke-width="1.25"/>
<rect x="377.51" y="871.27" width="3.1" height="41.03" fill="#00b400"/>
<line x1="379.5" y1="862.52" x2="379.5" y2="871.27" stroke="#00b400" stroke-width="1"/>
<circle cx="379.06" cy="862.52" r="2.25" fill="none" stroke="#00b400" stroke-width="1.25"/>
<circle cx="379.06" cy="865.53" r="2.25" fill="none" stroke="#00b400" stroke-width="1.25"/>
<circle cx="379.06" cy="887.14" r="2.25" fill="none" stroke="#00b400" stroke-width="1.25"/>
<rect x="381.51" y="882.21" width="3.1" height="30.09" fill="#9900dd"/>
<line x1="383.5" y1="880.85" x2="383.5" y2="882.21" stroke="#9900dd" stroke-width="1"/>
<circle cx="383.06" cy="880.85" r="2.25" fill="none" stroke="#9900dd" stroke-width="1.25"/>
<circle cx="383.06" cy="882.49" r="2.25" fill="none" stroke="#9900dd" stroke-width="1.25"/>
<text x="381.96" y="925.2" font-size="8.4" text-anchor="end" stroke="#231f20" stroke-width="0.15" font-style="italic" transform="rotate(-45 381.96 925.2)" textLength="22.39" lengthAdjust="spacingAndGlyphs">Cidea</text>
<text x="24.2" y="843.7" font-size="9" text-anchor="middle" stroke="#231f20" stroke-width="0.15" transform="rotate(-90 24.2 843.7)" textLength="87.5" lengthAdjust="spacingAndGlyphs">mRNA, fold change</text>
<path d="M51 820.3L51.68 821.67L53.19 821.89L52.09 822.96L52.35 824.46L51 823.75L49.65 824.46L49.91 822.96L48.81 821.89L50.32 821.67Z" fill="#231f20"/>
<line x1="47.6" y1="827.5" x2="53" y2="827.5" stroke="#8a8a8a" stroke-width="1"/>
<path d="M57.8 834.1L58.48 835.47L59.99 835.69L58.89 836.76L59.15 838.26L57.8 837.55L56.45 838.26L56.71 836.76L55.61 835.69L57.12 835.47Z" fill="#231f20"/>
<line x1="51" y1="841.5" x2="62.8" y2="841.5" stroke="#8a8a8a" stroke-width="1"/>
<path d="M135.2 785.9L135.88 787.27L137.39 787.49L136.29 788.56L136.55 790.06L135.2 789.35L133.85 790.06L134.11 788.56L133.01 787.49L134.52 787.27ZM140.4 785.9L141.08 787.27L142.59 787.49L141.49 788.56L141.75 790.06L140.4 789.35L139.05 790.06L139.31 788.56L138.21 787.49L139.72 787.27ZM145.6 785.9L146.28 787.27L147.79 787.49L146.69 788.56L146.95 790.06L145.6 789.35L144.25 790.06L144.51 788.56L143.41 787.49L144.92 787.27ZM150.8 785.9L151.48 787.27L152.99 787.49L151.89 788.56L152.15 790.06L150.8 789.35L149.45 790.06L149.71 788.56L148.61 787.49L150.12 787.27Z" fill="#231f20"/>
<line x1="141.6" y1="792.5" x2="146.6" y2="792.5" stroke="#8a8a8a" stroke-width="1"/>
<path d="M142.6 800.5L143.28 801.87L144.79 802.09L143.69 803.16L143.95 804.66L142.6 803.95L141.25 804.66L141.51 803.16L140.41 802.09L141.92 801.87ZM147.8 800.5L148.48 801.87L149.99 802.09L148.89 803.16L149.15 804.66L147.8 803.95L146.45 804.66L146.71 803.16L145.61 802.09L147.12 801.87ZM153 800.5L153.68 801.87L155.19 802.09L154.09 803.16L154.35 804.66L153 803.95L151.65 804.66L151.91 803.16L150.81 802.09L152.32 801.87ZM158.2 800.5L158.88 801.87L160.39 802.09L159.29 803.16L159.55 804.66L158.2 803.95L156.85 804.66L157.11 803.16L156.01 802.09L157.52 801.87Z" fill="#231f20"/>
<line x1="144.5" y1="807.5" x2="156.2" y2="807.5" stroke="#8a8a8a" stroke-width="1"/>
<path d="M203 818.9L203.68 820.27L205.19 820.49L204.09 821.56L204.35 823.06L203 822.35L201.65 823.06L201.91 821.56L200.81 820.49L202.32 820.27Z" fill="#231f20"/>
<line x1="200.8" y1="825.5" x2="205" y2="825.5" stroke="#8a8a8a" stroke-width="1"/>
<path d="M207.1 832.7L207.78 834.07L209.29 834.29L208.19 835.36L208.45 836.86L207.1 836.15L205.75 836.86L206.01 835.36L204.91 834.29L206.42 834.07ZM212.3 832.7L212.98 834.07L214.49 834.29L213.39 835.36L213.65 836.86L212.3 836.15L210.95 836.86L211.21 835.36L210.11 834.29L211.62 834.07Z" fill="#231f20"/>
<line x1="204.5" y1="839.5" x2="216.2" y2="839.5" stroke="#8a8a8a" stroke-width="1"/>
<path d="M306.2 768.4L306.88 769.77L308.39 769.99L307.29 771.06L307.55 772.56L306.2 771.85L304.85 772.56L305.11 771.06L304.01 769.99L305.52 769.77ZM311.4 768.4L312.08 769.77L313.59 769.99L312.49 771.06L312.75 772.56L311.4 771.85L310.05 772.56L310.31 771.06L309.21 769.99L310.72 769.77ZM316.6 768.4L317.28 769.77L318.79 769.99L317.69 771.06L317.95 772.56L316.6 771.85L315.25 772.56L315.51 771.06L314.41 769.99L315.92 769.77ZM321.8 768.4L322.48 769.77L323.99 769.99L322.89 771.06L323.15 772.56L321.8 771.85L320.45 772.56L320.71 771.06L319.61 769.99L321.12 769.77Z" fill="#231f20"/>
<line x1="311.8" y1="775.5" x2="316.4" y2="775.5" stroke="#8a8a8a" stroke-width="1"/>
<path d="M313.8 779.7L314.48 781.07L315.99 781.29L314.89 782.36L315.15 783.86L313.8 783.15L312.45 783.86L312.71 782.36L311.61 781.29L313.12 781.07ZM319 779.7L319.68 781.07L321.19 781.29L320.09 782.36L320.35 783.86L319 783.15L317.65 783.86L317.91 782.36L316.81 781.29L318.32 781.07ZM324.2 779.7L324.88 781.07L326.39 781.29L325.29 782.36L325.55 783.86L324.2 783.15L322.85 783.86L323.11 782.36L322.01 781.29L323.52 781.07ZM329.4 779.7L330.08 781.07L331.59 781.29L330.49 782.36L330.75 783.86L329.4 783.15L328.05 783.86L328.31 782.36L327.21 781.29L328.72 781.07Z" fill="#231f20"/>
<line x1="314.9" y1="786.5" x2="327.8" y2="786.5" stroke="#8a8a8a" stroke-width="1"/>
<path d="M327.6 760.7L328.28 762.07L329.79 762.29L328.69 763.36L328.95 764.86L327.6 764.15L326.25 764.86L326.51 763.36L325.41 762.29L326.92 762.07ZM332.8 760.7L333.48 762.07L334.99 762.29L333.89 763.36L334.15 764.86L332.8 764.15L331.45 764.86L331.71 763.36L330.61 762.29L332.12 762.07ZM338 760.7L338.68 762.07L340.19 762.29L339.09 763.36L339.35 764.86L338 764.15L336.65 764.86L336.91 763.36L335.81 762.29L337.32 762.07ZM343.2 760.7L343.88 762.07L345.39 762.29L344.29 763.36L344.55 764.86L343.2 764.15L341.85 764.86L342.11 763.36L341.01 762.29L342.52 762.07Z" fill="#231f20"/>
<line x1="331" y1="768.5" x2="335.7" y2="768.5" stroke="#8a8a8a" stroke-width="1"/>
<path d="M334.7 787.7L335.38 789.07L336.89 789.29L335.79 790.36L336.05 791.86L334.7 791.15L333.35 791.86L333.61 790.36L332.51 789.29L334.02 789.07ZM339.9 787.7L340.58 789.07L342.09 789.29L340.99 790.36L341.25 791.86L339.9 791.15L338.55 791.86L338.81 790.36L337.71 789.29L339.22 789.07ZM345.1 787.7L345.78 789.07L347.29 789.29L346.19 790.36L346.45 791.86L345.1 791.15L343.75 791.86L344.01 790.36L342.91 789.29L344.42 789.07ZM350.3 787.7L350.98 789.07L352.49 789.29L351.39 790.36L351.65 791.86L350.3 791.15L348.95 791.86L349.21 790.36L348.11 789.29L349.62 789.07Z" fill="#231f20"/>
<line x1="336.3" y1="794.5" x2="348.6" y2="794.5" stroke="#8a8a8a" stroke-width="1"/>
<path d="M350.6 825.7L351.28 827.07L352.79 827.29L351.69 828.36L351.95 829.86L350.6 829.15L349.25 829.86L349.51 828.36L348.41 827.29L349.92 827.07ZM355.8 825.7L356.48 827.07L357.99 827.29L356.89 828.36L357.15 829.86L355.8 829.15L354.45 829.86L354.71 828.36L353.61 827.29L355.12 827.07Z" fill="#231f20"/>
<line x1="350.8" y1="832.5" x2="356.9" y2="832.5" stroke="#8a8a8a" stroke-width="1"/>
<path d="M357.7 837.9L358.38 839.27L359.89 839.49L358.79 840.56L359.05 842.06L357.7 841.35L356.35 842.06L356.61 840.56L355.51 839.49L357.02 839.27ZM362.9 837.9L363.58 839.27L365.09 839.49L363.99 840.56L364.25 842.06L362.9 841.35L361.55 842.06L361.81 840.56L360.71 839.49L362.22 839.27Z" fill="#231f20"/>
<line x1="354.7" y1="844.5" x2="365.5" y2="844.5" stroke="#8a8a8a" stroke-width="1"/>
<path d="M366.4 811.3L367.08 812.67L368.59 812.89L367.49 813.96L367.75 815.46L366.4 814.75L365.05 815.46L365.31 813.96L364.21 812.89L365.72 812.67ZM371.6 811.3L372.28 812.67L373.79 812.89L372.69 813.96L372.95 815.46L371.6 814.75L370.25 815.46L370.51 813.96L369.41 812.89L370.92 812.67ZM376.8 811.3L377.48 812.67L378.99 812.89L377.89 813.96L378.15 815.46L376.8 814.75L375.45 815.46L375.71 813.96L374.61 812.89L376.12 812.67Z" fill="#231f20"/>
<line x1="369.5" y1="818.5" x2="374.7" y2="818.5" stroke="#8a8a8a" stroke-width="1"/>
<path d="M374.1 826L374.78 827.37L376.29 827.59L375.19 828.66L375.45 830.16L374.1 829.45L372.75 830.16L373.01 828.66L371.91 827.59L373.42 827.37ZM379.3 826L379.98 827.37L381.49 827.59L380.39 828.66L380.65 830.16L379.3 829.45L377.95 830.16L378.21 828.66L377.11 827.59L378.62 827.37ZM384.5 826L385.18 827.37L386.69 827.59L385.59 828.66L385.85 830.16L384.5 829.45L383.15 830.16L383.41 828.66L382.31 827.59L383.82 827.37Z" fill="#231f20"/>
<line x1="372.2" y1="832.5" x2="386" y2="832.5" stroke="#8a8a8a" stroke-width="1"/>
<circle cx="406.2" cy="769.9" r="2.3" fill="none" stroke="#231f20" stroke-width="1.1"/>
<text x="413.9" y="772.8" font-size="8.2" stroke="#231f20" stroke-width="0.15" textLength="56.7" lengthAdjust="spacingAndGlyphs">AAV-GFP + PBS</text>
<circle cx="406.2" cy="788" r="2.3" fill="none" stroke="#ec7a35" stroke-width="1.1"/>
<text x="413.9" y="790.9" font-size="8.2" fill="#ec7a35" stroke="#ec7a35" stroke-width="0.15" textLength="59.3" lengthAdjust="spacingAndGlyphs">AAV-irisin + PBS</text>
<circle cx="406.2" cy="806.4" r="2.3" fill="none" stroke="#35b935" stroke-width="1.1"/>
<text x="413.9" y="809.3" font-size="8.2" fill="#35b935" stroke="#35b935" stroke-width="0.15" textLength="75.9" lengthAdjust="spacingAndGlyphs">AAV-GFP + IL-33trap</text>
<circle cx="406.2" cy="824.6" r="2.3" fill="none" stroke="#9933bb" stroke-width="1.1"/>
<text x="413.9" y="827.5" font-size="8.2" fill="#9933bb" stroke="#9933bb" stroke-width="0.15" textLength="78.9" lengthAdjust="spacingAndGlyphs">AAV-irisin + IL-33trap</text>
</svg></body></html>
